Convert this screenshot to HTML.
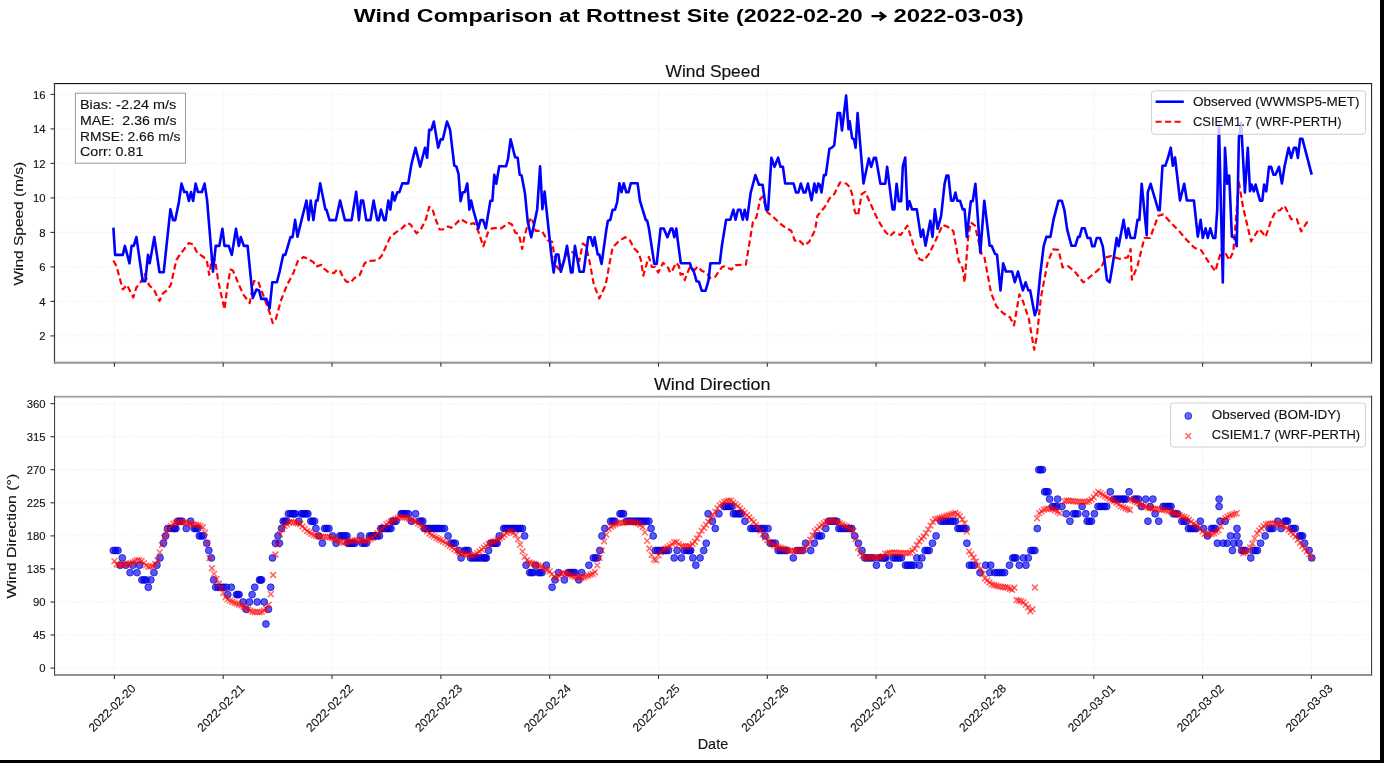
<!DOCTYPE html><html><head><meta charset="utf-8"><style>html,body{margin:0;padding:0;background:#fff;overflow:hidden}svg{display:block;filter:blur(0.35px)}text{font-family:"Liberation Sans", sans-serif}text.n{stroke:#1a1a1a;stroke-width:0.14px}</style></head><body>
<svg width="1384" height="763" viewBox="0 0 1384 763">
<rect x="0" y="0" width="1384" height="763" fill="#fff"/>
<text x="353.8" y="22.1" font-size="18.9" font-weight="bold" fill="#000" text-anchor="start" textLength="508.8" lengthAdjust="spacingAndGlyphs"  xml:space="preserve">Wind Comparison at Rottnest Site (2022-02-20</text>
<path d="M871.5,16.2H884.5M879.6,12.2L885.2,16.2L879.6,20.2" fill="none" stroke="#000" stroke-width="2.3" stroke-linejoin="miter"/>
<text x="893.4" y="22.1" font-size="18.9" font-weight="bold" fill="#000" text-anchor="start" textLength="130.3" lengthAdjust="spacingAndGlyphs"  xml:space="preserve">2022-03-03)</text>
<text class="n" x="665.5" y="76.7" font-size="16.3" font-weight="normal" fill="#111" text-anchor="start" textLength="94.6" lengthAdjust="spacingAndGlyphs"  xml:space="preserve">Wind Speed</text>
<text class="n" x="653.9" y="390.4" font-size="16.3" font-weight="normal" fill="#111" text-anchor="start" textLength="116.7" lengthAdjust="spacingAndGlyphs"  xml:space="preserve">Wind Direction</text>
<line x1="114.4" y1="83.5" x2="114.4" y2="362.7" stroke="#ebebeb" stroke-width="0.9" stroke-dasharray="1,1.2"/>
<line x1="223.2" y1="83.5" x2="223.2" y2="362.7" stroke="#ebebeb" stroke-width="0.9" stroke-dasharray="1,1.2"/>
<line x1="332.0" y1="83.5" x2="332.0" y2="362.7" stroke="#ebebeb" stroke-width="0.9" stroke-dasharray="1,1.2"/>
<line x1="440.9" y1="83.5" x2="440.9" y2="362.7" stroke="#ebebeb" stroke-width="0.9" stroke-dasharray="1,1.2"/>
<line x1="549.7" y1="83.5" x2="549.7" y2="362.7" stroke="#ebebeb" stroke-width="0.9" stroke-dasharray="1,1.2"/>
<line x1="658.5" y1="83.5" x2="658.5" y2="362.7" stroke="#ebebeb" stroke-width="0.9" stroke-dasharray="1,1.2"/>
<line x1="767.3" y1="83.5" x2="767.3" y2="362.7" stroke="#ebebeb" stroke-width="0.9" stroke-dasharray="1,1.2"/>
<line x1="876.1" y1="83.5" x2="876.1" y2="362.7" stroke="#ebebeb" stroke-width="0.9" stroke-dasharray="1,1.2"/>
<line x1="985.0" y1="83.5" x2="985.0" y2="362.7" stroke="#ebebeb" stroke-width="0.9" stroke-dasharray="1,1.2"/>
<line x1="1093.8" y1="83.5" x2="1093.8" y2="362.7" stroke="#ebebeb" stroke-width="0.9" stroke-dasharray="1,1.2"/>
<line x1="1202.6" y1="83.5" x2="1202.6" y2="362.7" stroke="#ebebeb" stroke-width="0.9" stroke-dasharray="1,1.2"/>
<line x1="1311.4" y1="83.5" x2="1311.4" y2="362.7" stroke="#ebebeb" stroke-width="0.9" stroke-dasharray="1,1.2"/>
<line x1="114.4" y1="396.9" x2="114.4" y2="675.1" stroke="#ebebeb" stroke-width="0.9" stroke-dasharray="1,1.2"/>
<line x1="223.2" y1="396.9" x2="223.2" y2="675.1" stroke="#ebebeb" stroke-width="0.9" stroke-dasharray="1,1.2"/>
<line x1="332.0" y1="396.9" x2="332.0" y2="675.1" stroke="#ebebeb" stroke-width="0.9" stroke-dasharray="1,1.2"/>
<line x1="440.9" y1="396.9" x2="440.9" y2="675.1" stroke="#ebebeb" stroke-width="0.9" stroke-dasharray="1,1.2"/>
<line x1="549.7" y1="396.9" x2="549.7" y2="675.1" stroke="#ebebeb" stroke-width="0.9" stroke-dasharray="1,1.2"/>
<line x1="658.5" y1="396.9" x2="658.5" y2="675.1" stroke="#ebebeb" stroke-width="0.9" stroke-dasharray="1,1.2"/>
<line x1="767.3" y1="396.9" x2="767.3" y2="675.1" stroke="#ebebeb" stroke-width="0.9" stroke-dasharray="1,1.2"/>
<line x1="876.1" y1="396.9" x2="876.1" y2="675.1" stroke="#ebebeb" stroke-width="0.9" stroke-dasharray="1,1.2"/>
<line x1="985.0" y1="396.9" x2="985.0" y2="675.1" stroke="#ebebeb" stroke-width="0.9" stroke-dasharray="1,1.2"/>
<line x1="1093.8" y1="396.9" x2="1093.8" y2="675.1" stroke="#ebebeb" stroke-width="0.9" stroke-dasharray="1,1.2"/>
<line x1="1202.6" y1="396.9" x2="1202.6" y2="675.1" stroke="#ebebeb" stroke-width="0.9" stroke-dasharray="1,1.2"/>
<line x1="1311.4" y1="396.9" x2="1311.4" y2="675.1" stroke="#ebebeb" stroke-width="0.9" stroke-dasharray="1,1.2"/>
<line x1="54.5" y1="335.9" x2="1371.5" y2="335.9" stroke="#ebebeb" stroke-width="0.9" stroke-dasharray="1,1.2"/>
<line x1="54.5" y1="301.4" x2="1371.5" y2="301.4" stroke="#ebebeb" stroke-width="0.9" stroke-dasharray="1,1.2"/>
<line x1="54.5" y1="266.9" x2="1371.5" y2="266.9" stroke="#ebebeb" stroke-width="0.9" stroke-dasharray="1,1.2"/>
<line x1="54.5" y1="232.4" x2="1371.5" y2="232.4" stroke="#ebebeb" stroke-width="0.9" stroke-dasharray="1,1.2"/>
<line x1="54.5" y1="197.9" x2="1371.5" y2="197.9" stroke="#ebebeb" stroke-width="0.9" stroke-dasharray="1,1.2"/>
<line x1="54.5" y1="163.4" x2="1371.5" y2="163.4" stroke="#ebebeb" stroke-width="0.9" stroke-dasharray="1,1.2"/>
<line x1="54.5" y1="128.9" x2="1371.5" y2="128.9" stroke="#ebebeb" stroke-width="0.9" stroke-dasharray="1,1.2"/>
<line x1="54.5" y1="94.4" x2="1371.5" y2="94.4" stroke="#ebebeb" stroke-width="0.9" stroke-dasharray="1,1.2"/>
<line x1="54.5" y1="668.1" x2="1371.5" y2="668.1" stroke="#ebebeb" stroke-width="0.9" stroke-dasharray="1,1.2"/>
<line x1="54.5" y1="635.0" x2="1371.5" y2="635.0" stroke="#ebebeb" stroke-width="0.9" stroke-dasharray="1,1.2"/>
<line x1="54.5" y1="602.0" x2="1371.5" y2="602.0" stroke="#ebebeb" stroke-width="0.9" stroke-dasharray="1,1.2"/>
<line x1="54.5" y1="568.9" x2="1371.5" y2="568.9" stroke="#ebebeb" stroke-width="0.9" stroke-dasharray="1,1.2"/>
<line x1="54.5" y1="535.9" x2="1371.5" y2="535.9" stroke="#ebebeb" stroke-width="0.9" stroke-dasharray="1,1.2"/>
<line x1="54.5" y1="502.8" x2="1371.5" y2="502.8" stroke="#ebebeb" stroke-width="0.9" stroke-dasharray="1,1.2"/>
<line x1="54.5" y1="469.7" x2="1371.5" y2="469.7" stroke="#ebebeb" stroke-width="0.9" stroke-dasharray="1,1.2"/>
<line x1="54.5" y1="436.7" x2="1371.5" y2="436.7" stroke="#ebebeb" stroke-width="0.9" stroke-dasharray="1,1.2"/>
<line x1="54.5" y1="403.6" x2="1371.5" y2="403.6" stroke="#ebebeb" stroke-width="0.9" stroke-dasharray="1,1.2"/>
<polyline points="113.4,260.6 116.5,266.4 122.8,289.5 127.0,284.9 133.3,297.5 136.4,287.4 139.6,284.3 144.8,274.2 149.0,284.9 154.3,290.5 159.5,301.0 162.7,293.7 167.9,289.5 171.0,284.3 176.3,260.1 180.5,253.9 188.9,243.0 193.1,244.4 197.2,252.8 203.5,257.0 206.7,260.1 209.2,274.8 211.9,258.1 215.1,260.1 218.2,281.1 224.5,309.4 227.6,285.3 230.4,269.6 232.9,270.6 239.2,285.3 243.4,294.7 249.7,303.1 253.8,281.1 258.0,281.1 264.3,297.9 269.6,312.6 272.7,323.0 275.9,318.8 281.1,300.0 287.4,284.3 290.0,279.5 293.7,272.2 297.8,261.2 303.3,257.1 307.4,258.4 313.4,262.1 316.1,266.7 321.2,264.9 323.9,268.5 327.6,271.7 334.0,273.1 337.2,269.4 340.0,270.8 342.8,276.8 346.0,281.4 350.6,282.8 354.2,278.2 359.7,275.0 361.6,270.8 364.3,263.9 367.1,261.2 373.5,260.7 378.1,259.8 381.7,255.7 384.5,249.7 390.4,236.8 395.6,232.6 401.9,228.4 407.2,223.2 410.3,224.3 416.6,233.3 420.8,229.5 426.0,219.0 429.2,206.9 432.3,208.5 435.5,219.0 439.7,229.5 442.8,229.5 448.0,226.4 451.2,227.8 455.4,224.3 460.6,219.0 465.9,222.2 469.0,224.3 474.2,223.2 478.4,231.6 483.3,246.3 487.9,232.6 492.1,228.4 497.9,227.7 501.0,228.5 508.9,223.0 512.0,224.6 515.2,232.5 518.3,234.0 519.9,238.7 522.2,249.0 524.6,235.6 527.7,224.6 531.2,217.5 533.7,223.8 535.6,230.9 541.9,230.9 547.4,240.3 552.1,241.9 554.5,256.0 556.8,267.0 559.2,269.4 561.5,267.0 567.0,252.1 571.8,252.1 574.9,252.9 579.3,260.8 582.8,243.5 585.9,245.8 589.1,259.2 593.8,284.3 599.3,298.5 605.6,285.1 609.5,263.9 612.6,247.4 618.9,241.1 625.2,237.2 629.9,240.3 633.9,248.2 638.6,252.9 640.9,260.0 643.3,275.7 645.7,267.0 648.8,256.8 651.9,267.0 655.1,267.0 658.2,272.5 660.0,269.1 663.1,262.8 667.9,267.5 670.2,272.7 672.6,269.9 676.1,262.8 678.9,266.0 680.5,274.6 682.8,273.8 684.8,280.1 687.5,272.7 689.9,267.1 694.6,269.9 697.8,266.4 701.7,270.7 707.2,273.4 710.4,278.2 715.1,277.0 719.0,271.1 722.2,266.8 724.5,266.4 726.9,267.5 731.6,269.5 735.5,265.2 745.9,264.6 748.2,250.3 753.0,221.7 756.6,216.9 760.2,199.0 762.6,196.6 767.3,212.1 773.3,216.9 779.3,222.8 785.2,227.6 791.2,230.7 794.8,240.7 798.4,239.6 804.3,245.5 809.1,241.9 815.1,230.0 817.5,215.7 824.6,207.3 830.6,196.6 834.2,194.2 840.1,182.3 846.1,183.5 849.7,187.0 852.1,194.2 854.9,212.1 858.0,215.7 861.6,194.2 865.2,191.8 870.0,202.6 875.9,215.7 880.4,224.2 885.8,232.3 889.8,236.4 893.9,232.3 900.6,235.0 907.4,225.6 914.1,247.2 919.5,259.3 923.6,260.7 929.0,253.9 935.7,240.4 942.5,225.0 947.9,226.9 953.3,231.0 958.7,260.7 962.7,268.8 964.6,282.3 968.1,237.7 970.8,222.3 974.9,225.6 981.6,253.9 984.3,256.6 991.1,293.0 996.5,306.5 1003.2,313.3 1010.0,317.3 1014.0,325.4 1019.4,294.4 1022.9,301.1 1028.8,318.7 1034.2,349.7 1036.9,336.2 1041.0,297.1 1047.7,262.0 1053.1,249.3 1058.5,249.9 1062.6,267.4 1068.0,266.1 1074.7,271.5 1083.3,282.4 1091.7,275.5 1101.4,267.2 1105.6,257.4 1111.1,256.1 1119.4,258.8 1127.8,257.4 1130.6,249.1 1131.9,279.7 1137.5,265.8 1144.4,238.0 1150.0,238.0 1158.3,215.8 1163.3,214.4 1170.8,222.7 1179.2,231.1 1186.1,239.4 1194.4,247.7 1201.4,250.5 1208.3,261.6 1215.3,271.3 1222.2,247.7 1226.4,254.7 1229.2,260.2 1233.3,251.9 1238.9,182.4 1243.1,207.4 1245.6,218.0 1251.1,241.4 1258.9,229.1 1262.3,232.5 1265.6,236.9 1271.2,220.2 1275.6,211.3 1280.1,210.2 1284.5,205.7 1291.2,219.1 1296.8,219.1 1301.2,231.4 1306.8,222.4 1311.3,222.4" fill="none" stroke="#ff0000" stroke-width="2.2" stroke-dasharray="6.2,3.4" stroke-linejoin="round"/>
<polyline points="113.4,227.7 115.1,254.9 122.8,254.9 124.9,245.9 129.5,263.3 131.6,245.9 133.7,245.9 136.4,237.1 142.7,281.1 145.3,281.1 148.0,254.9 149.7,263.3 154.3,237.1 159.5,272.3 163.7,272.3 170.4,209.4 173.1,220.3 175.2,220.3 178.8,202.5 181.5,183.6 184.2,192.0 186.8,192.0 188.9,201.0 191.0,192.0 193.1,201.0 195.6,183.6 197.9,192.0 201.9,192.0 204.6,183.6 207.1,200.4 213.0,271.7 215.7,245.9 219.3,245.9 222.4,228.7 224.5,245.9 228.7,245.9 231.8,254.9 236.0,228.7 238.8,245.9 240.8,237.1 243.8,245.9 247.6,245.9 252.8,297.9 256.4,289.5 259.1,290.5 261.2,298.9 266.4,298.9 269.6,308.4 272.3,282.2 276.9,282.2 279.6,271.7 283.2,254.9 285.3,254.9 290.5,237.1 292.6,237.1 295.1,219.9 297.5,236.8 302.3,216.9 306.5,200.6 308.6,220.1 310.7,200.6 313.4,220.1 316.0,200.6 317.6,200.6 320.2,183.4 325.4,209.6 326.4,209.6 329.6,220.1 335.9,220.1 340.1,200.6 344.9,220.1 351.6,220.1 356.2,191.8 358.9,220.1 361.0,200.6 363.1,200.6 366.3,220.1 370.5,220.1 373.6,200.6 377.2,220.1 378.9,220.1 381.0,209.6 384.1,220.1 385.6,220.1 388.3,200.6 390.4,209.6 392.5,192.2 394.6,200.6 397.3,192.2 399.4,192.2 402.3,183.4 408.2,183.4 411.4,164.5 415.5,147.7 420.2,166.6 425.0,147.7 427.1,157.8 429.2,129.9 431.3,129.9 433.8,121.5 438.2,147.7 440.7,139.4 442.8,139.4 447.0,121.5 450.1,129.9 454.3,165.6 456.4,166.6 458.5,173.9 460.6,201.2 462.7,192.2 464.8,192.2 467.3,183.4 469.4,209.6 471.1,200.6 473.2,209.6 478.4,228.4 480.5,220.1 483.1,220.1 485.8,228.4 490.4,200.7 492.4,200.7 494.3,174.7 496.3,183.8 499.2,166.3 506.0,166.3 508.0,159.1 510.6,139.2 515.1,157.2 517.7,157.8 519.7,174.7 521.6,175.4 524.9,192.9 527.7,221.4 531.2,237.2 533.7,226.2 537.2,209.2 540.1,166.3 542.4,209.2 544.6,191.6 547.6,220.0 551.3,254.5 553.7,272.5 556.0,254.5 558.4,254.5 560.8,271.8 563.9,261.5 567.0,245.8 571.0,272.5 572.5,272.5 574.9,245.8 579.6,271.8 583.6,271.8 588.3,237.2 590.6,237.2 593.0,245.8 594.6,237.2 597.7,254.5 599.3,254.5 601.6,263.9 606.4,229.3 607.9,220.7 610.3,219.9 612.6,209.7 615.0,209.7 617.2,202.0 619.4,183.2 621.5,192.3 623.7,183.2 626.3,192.3 628.5,192.3 630.8,183.2 637.6,183.2 639.9,200.7 645.8,220.0 647.2,220.7 648.8,227.7 654.3,263.9 656.7,263.9 660.6,228.5 663.7,228.5 667.4,237.2 670.8,228.5 672.4,228.5 674.3,237.2 676.3,228.5 677.7,240.0 680.8,263.2 689.9,263.2 691.5,268.3 693.8,271.5 696.6,281.3 698.9,281.7 701.7,290.7 705.6,290.7 708.4,280.9 710.4,263.2 719.8,263.2 721.8,246.3 726.1,219.7 730.3,219.7 733.4,209.7 735.6,219.7 738.0,209.7 740.4,209.7 742.8,219.7 744.7,209.7 747.1,219.7 750.6,193.0 755.4,175.1 759.0,184.7 762.6,184.7 766.1,209.7 768.1,209.7 771.4,157.7 774.5,166.8 778.1,157.7 780.5,166.8 782.9,166.8 785.2,183.5 793.6,183.5 796.0,192.5 798.4,192.5 800.8,183.5 803.6,192.5 805.5,192.5 807.9,183.5 811.5,200.2 814.4,183.5 816.3,192.5 818.2,183.5 819.8,184.7 821.5,192.5 823.9,175.1 825.8,175.1 829.4,148.9 831.8,147.7 834.2,145.3 837.7,113.1 840.1,113.1 842.0,130.5 846.1,95.6 848.5,129.1 849.7,121.4 852.1,138.1 854.0,139.3 855.6,147.7 857.6,113.1 863.5,183.5 868.8,158.4 871.2,166.8 874.0,157.7 875.9,157.7 880.4,183.7 885.3,183.7 887.1,166.7 892.5,209.4 894.4,209.4 896.6,183.7 898.8,201.3 901.2,201.3 902.8,166.7 905.2,157.6 907.4,209.4 909.5,201.3 912.0,209.4 916.8,209.4 920.9,236.9 923.0,229.6 925.5,245.8 930.3,220.7 932.5,236.9 934.9,209.4 937.6,228.8 941.1,216.1 944.6,183.7 946.5,175.6 948.4,175.6 951.1,200.7 953.3,200.7 955.4,192.6 957.3,200.7 960.0,200.7 962.7,209.4 964.6,209.4 966.8,236.9 970.8,201.3 972.7,201.3 975.4,183.7 980.3,252.6 984.3,200.7 989.7,245.8 991.6,245.8 995.1,253.9 997.0,254.7 1000.5,290.4 1003.2,263.4 1005.9,271.5 1012.1,271.5 1014.8,282.3 1018.0,271.5 1022.9,290.4 1025.6,282.3 1028.3,290.4 1030.2,290.4 1034.8,315.2 1036.9,309.2 1040.2,274.7 1043.7,245.8 1046.4,236.9 1050.4,236.9 1053.7,218.8 1058.5,200.7 1061.8,200.7 1064.5,210.7 1067.2,229.6 1071.5,245.8 1075.3,245.8 1078.0,236.9 1079.6,236.9 1081.9,228.3 1084.7,228.3 1087.5,238.0 1090.3,238.0 1092.2,246.3 1094.4,246.3 1096.7,238.0 1100.0,238.0 1102.8,246.3 1106.9,279.7 1109.7,282.4 1112.5,265.8 1116.7,238.0 1118.6,246.3 1123.6,219.9 1126.4,238.0 1128.3,228.3 1130.6,238.0 1134.7,238.0 1137.5,219.9 1139.4,219.9 1141.7,183.8 1146.7,235.2 1147.8,192.2 1150.6,183.8 1158.3,210.2 1159.7,210.2 1162.5,165.8 1165.3,165.8 1168.1,157.4 1170.8,147.7 1172.8,165.8 1175.0,157.4 1180.0,200.5 1184.2,183.8 1186.9,200.5 1193.9,200.5 1197.8,236.6 1200.6,219.9 1202.8,238.0 1205.6,228.3 1207.8,238.0 1210.3,228.3 1213.1,238.0 1215.3,238.0 1217.2,210.2 1218.9,122.7 1222.8,282.4 1225.0,147.7 1227.2,183.8 1229.2,175.5 1231.9,236.6 1235.6,238.0 1236.7,246.3 1238.9,138.0 1241.1,122.7 1244.9,192.4 1247.8,147.8 1250.0,191.3 1251.6,184.6 1253.8,191.3 1255.6,184.6 1257.4,191.3 1260.0,200.6 1262.3,200.6 1264.1,184.6 1266.3,191.3 1269.0,166.8 1271.2,166.8 1273.4,174.6 1275.6,174.6 1279.0,166.8 1281.9,183.5 1284.5,166.8 1288.6,147.8 1291.2,157.9 1293.9,147.8 1296.1,147.8 1297.9,157.9 1300.1,138.9 1302.4,138.9 1311.7,174.6" fill="none" stroke="#0000ff" stroke-width="2.6" stroke-linejoin="round"/>
<circle cx="113.3" cy="550.5" r="3.45" fill="#0000ff" fill-opacity="0.66" stroke="#0000c0" stroke-opacity="0.66" stroke-width="1.0"/>
<circle cx="115.6" cy="550.5" r="3.45" fill="#0000ff" fill-opacity="0.66" stroke="#0000c0" stroke-opacity="0.66" stroke-width="1.0"/>
<circle cx="118.0" cy="550.5" r="3.45" fill="#0000ff" fill-opacity="0.66" stroke="#0000c0" stroke-opacity="0.66" stroke-width="1.0"/>
<circle cx="120.2" cy="565.2" r="3.45" fill="#0000ff" fill-opacity="0.66" stroke="#0000c0" stroke-opacity="0.66" stroke-width="1.0"/>
<circle cx="122.3" cy="557.9" r="3.45" fill="#0000ff" fill-opacity="0.66" stroke="#0000c0" stroke-opacity="0.66" stroke-width="1.0"/>
<circle cx="125.8" cy="565.2" r="3.45" fill="#0000ff" fill-opacity="0.66" stroke="#0000c0" stroke-opacity="0.66" stroke-width="1.0"/>
<circle cx="130.1" cy="572.6" r="3.45" fill="#0000ff" fill-opacity="0.66" stroke="#0000c0" stroke-opacity="0.66" stroke-width="1.0"/>
<circle cx="132.7" cy="565.2" r="3.45" fill="#0000ff" fill-opacity="0.66" stroke="#0000c0" stroke-opacity="0.66" stroke-width="1.0"/>
<circle cx="137.0" cy="572.6" r="3.45" fill="#0000ff" fill-opacity="0.66" stroke="#0000c0" stroke-opacity="0.66" stroke-width="1.0"/>
<circle cx="139.6" cy="565.2" r="3.45" fill="#0000ff" fill-opacity="0.66" stroke="#0000c0" stroke-opacity="0.66" stroke-width="1.0"/>
<circle cx="141.9" cy="579.9" r="3.45" fill="#0000ff" fill-opacity="0.66" stroke="#0000c0" stroke-opacity="0.66" stroke-width="1.0"/>
<circle cx="144.0" cy="579.9" r="3.45" fill="#0000ff" fill-opacity="0.66" stroke="#0000c0" stroke-opacity="0.66" stroke-width="1.0"/>
<circle cx="146.2" cy="579.9" r="3.45" fill="#0000ff" fill-opacity="0.66" stroke="#0000c0" stroke-opacity="0.66" stroke-width="1.0"/>
<circle cx="148.3" cy="587.3" r="3.45" fill="#0000ff" fill-opacity="0.66" stroke="#0000c0" stroke-opacity="0.66" stroke-width="1.0"/>
<circle cx="150.8" cy="579.9" r="3.45" fill="#0000ff" fill-opacity="0.66" stroke="#0000c0" stroke-opacity="0.66" stroke-width="1.0"/>
<circle cx="154.0" cy="572.6" r="3.45" fill="#0000ff" fill-opacity="0.66" stroke="#0000c0" stroke-opacity="0.66" stroke-width="1.0"/>
<circle cx="156.9" cy="565.2" r="3.45" fill="#0000ff" fill-opacity="0.66" stroke="#0000c0" stroke-opacity="0.66" stroke-width="1.0"/>
<circle cx="160.0" cy="557.9" r="3.45" fill="#0000ff" fill-opacity="0.66" stroke="#0000c0" stroke-opacity="0.66" stroke-width="1.0"/>
<circle cx="163.5" cy="543.2" r="3.45" fill="#0000ff" fill-opacity="0.66" stroke="#0000c0" stroke-opacity="0.66" stroke-width="1.0"/>
<circle cx="165.6" cy="535.9" r="3.45" fill="#0000ff" fill-opacity="0.66" stroke="#0000c0" stroke-opacity="0.66" stroke-width="1.0"/>
<circle cx="167.6" cy="528.5" r="3.45" fill="#0000ff" fill-opacity="0.66" stroke="#0000c0" stroke-opacity="0.66" stroke-width="1.0"/>
<circle cx="170.5" cy="528.5" r="3.45" fill="#0000ff" fill-opacity="0.66" stroke="#0000c0" stroke-opacity="0.66" stroke-width="1.0"/>
<circle cx="173.3" cy="528.5" r="3.45" fill="#0000ff" fill-opacity="0.66" stroke="#0000c0" stroke-opacity="0.66" stroke-width="1.0"/>
<circle cx="174.6" cy="528.5" r="3.45" fill="#0000ff" fill-opacity="0.66" stroke="#0000c0" stroke-opacity="0.66" stroke-width="1.0"/>
<circle cx="175.9" cy="528.5" r="3.45" fill="#0000ff" fill-opacity="0.66" stroke="#0000c0" stroke-opacity="0.66" stroke-width="1.0"/>
<circle cx="177.7" cy="521.2" r="3.45" fill="#0000ff" fill-opacity="0.66" stroke="#0000c0" stroke-opacity="0.66" stroke-width="1.0"/>
<circle cx="179.8" cy="521.2" r="3.45" fill="#0000ff" fill-opacity="0.66" stroke="#0000c0" stroke-opacity="0.66" stroke-width="1.0"/>
<circle cx="182.0" cy="521.2" r="3.45" fill="#0000ff" fill-opacity="0.66" stroke="#0000c0" stroke-opacity="0.66" stroke-width="1.0"/>
<circle cx="186.3" cy="528.5" r="3.45" fill="#0000ff" fill-opacity="0.66" stroke="#0000c0" stroke-opacity="0.66" stroke-width="1.0"/>
<circle cx="190.6" cy="521.2" r="3.45" fill="#0000ff" fill-opacity="0.66" stroke="#0000c0" stroke-opacity="0.66" stroke-width="1.0"/>
<circle cx="194.1" cy="528.5" r="3.45" fill="#0000ff" fill-opacity="0.66" stroke="#0000c0" stroke-opacity="0.66" stroke-width="1.0"/>
<circle cx="195.8" cy="528.5" r="3.45" fill="#0000ff" fill-opacity="0.66" stroke="#0000c0" stroke-opacity="0.66" stroke-width="1.0"/>
<circle cx="197.6" cy="528.5" r="3.45" fill="#0000ff" fill-opacity="0.66" stroke="#0000c0" stroke-opacity="0.66" stroke-width="1.0"/>
<circle cx="199.3" cy="535.9" r="3.45" fill="#0000ff" fill-opacity="0.66" stroke="#0000c0" stroke-opacity="0.66" stroke-width="1.0"/>
<circle cx="201.3" cy="535.9" r="3.45" fill="#0000ff" fill-opacity="0.66" stroke="#0000c0" stroke-opacity="0.66" stroke-width="1.0"/>
<circle cx="203.3" cy="535.9" r="3.45" fill="#0000ff" fill-opacity="0.66" stroke="#0000c0" stroke-opacity="0.66" stroke-width="1.0"/>
<circle cx="206.7" cy="543.2" r="3.45" fill="#0000ff" fill-opacity="0.66" stroke="#0000c0" stroke-opacity="0.66" stroke-width="1.0"/>
<circle cx="208.8" cy="550.5" r="3.45" fill="#0000ff" fill-opacity="0.66" stroke="#0000c0" stroke-opacity="0.66" stroke-width="1.0"/>
<circle cx="211.4" cy="557.9" r="3.45" fill="#0000ff" fill-opacity="0.66" stroke="#0000c0" stroke-opacity="0.66" stroke-width="1.0"/>
<circle cx="213.7" cy="579.9" r="3.45" fill="#0000ff" fill-opacity="0.66" stroke="#0000c0" stroke-opacity="0.66" stroke-width="1.0"/>
<circle cx="215.7" cy="587.3" r="3.45" fill="#0000ff" fill-opacity="0.66" stroke="#0000c0" stroke-opacity="0.66" stroke-width="1.0"/>
<circle cx="218.3" cy="587.3" r="3.45" fill="#0000ff" fill-opacity="0.66" stroke="#0000c0" stroke-opacity="0.66" stroke-width="1.0"/>
<circle cx="220.9" cy="587.3" r="3.45" fill="#0000ff" fill-opacity="0.66" stroke="#0000c0" stroke-opacity="0.66" stroke-width="1.0"/>
<circle cx="223.5" cy="587.3" r="3.45" fill="#0000ff" fill-opacity="0.66" stroke="#0000c0" stroke-opacity="0.66" stroke-width="1.0"/>
<circle cx="226.1" cy="587.3" r="3.45" fill="#0000ff" fill-opacity="0.66" stroke="#0000c0" stroke-opacity="0.66" stroke-width="1.0"/>
<circle cx="227.8" cy="594.6" r="3.45" fill="#0000ff" fill-opacity="0.66" stroke="#0000c0" stroke-opacity="0.66" stroke-width="1.0"/>
<circle cx="231.3" cy="587.3" r="3.45" fill="#0000ff" fill-opacity="0.66" stroke="#0000c0" stroke-opacity="0.66" stroke-width="1.0"/>
<circle cx="236.5" cy="594.6" r="3.45" fill="#0000ff" fill-opacity="0.66" stroke="#0000c0" stroke-opacity="0.66" stroke-width="1.0"/>
<circle cx="237.8" cy="594.6" r="3.45" fill="#0000ff" fill-opacity="0.66" stroke="#0000c0" stroke-opacity="0.66" stroke-width="1.0"/>
<circle cx="239.1" cy="594.6" r="3.45" fill="#0000ff" fill-opacity="0.66" stroke="#0000c0" stroke-opacity="0.66" stroke-width="1.0"/>
<circle cx="243.1" cy="602.0" r="3.45" fill="#0000ff" fill-opacity="0.66" stroke="#0000c0" stroke-opacity="0.66" stroke-width="1.0"/>
<circle cx="246.0" cy="609.3" r="3.45" fill="#0000ff" fill-opacity="0.66" stroke="#0000c0" stroke-opacity="0.66" stroke-width="1.0"/>
<circle cx="249.5" cy="602.0" r="3.45" fill="#0000ff" fill-opacity="0.66" stroke="#0000c0" stroke-opacity="0.66" stroke-width="1.0"/>
<circle cx="252.1" cy="594.6" r="3.45" fill="#0000ff" fill-opacity="0.66" stroke="#0000c0" stroke-opacity="0.66" stroke-width="1.0"/>
<circle cx="254.7" cy="587.3" r="3.45" fill="#0000ff" fill-opacity="0.66" stroke="#0000c0" stroke-opacity="0.66" stroke-width="1.0"/>
<circle cx="257.2" cy="602.0" r="3.45" fill="#0000ff" fill-opacity="0.66" stroke="#0000c0" stroke-opacity="0.66" stroke-width="1.0"/>
<circle cx="259.5" cy="579.9" r="3.45" fill="#0000ff" fill-opacity="0.66" stroke="#0000c0" stroke-opacity="0.66" stroke-width="1.0"/>
<circle cx="260.5" cy="579.9" r="3.45" fill="#0000ff" fill-opacity="0.66" stroke="#0000c0" stroke-opacity="0.66" stroke-width="1.0"/>
<circle cx="261.6" cy="579.9" r="3.45" fill="#0000ff" fill-opacity="0.66" stroke="#0000c0" stroke-opacity="0.66" stroke-width="1.0"/>
<circle cx="264.2" cy="602.0" r="3.45" fill="#0000ff" fill-opacity="0.66" stroke="#0000c0" stroke-opacity="0.66" stroke-width="1.0"/>
<circle cx="265.9" cy="624.0" r="3.45" fill="#0000ff" fill-opacity="0.66" stroke="#0000c0" stroke-opacity="0.66" stroke-width="1.0"/>
<circle cx="268.5" cy="609.3" r="3.45" fill="#0000ff" fill-opacity="0.66" stroke="#0000c0" stroke-opacity="0.66" stroke-width="1.0"/>
<circle cx="270.7" cy="587.3" r="3.45" fill="#0000ff" fill-opacity="0.66" stroke="#0000c0" stroke-opacity="0.66" stroke-width="1.0"/>
<circle cx="272.5" cy="557.9" r="3.45" fill="#0000ff" fill-opacity="0.66" stroke="#0000c0" stroke-opacity="0.66" stroke-width="1.0"/>
<circle cx="275.4" cy="543.2" r="3.45" fill="#0000ff" fill-opacity="0.66" stroke="#0000c0" stroke-opacity="0.66" stroke-width="1.0"/>
<circle cx="278.0" cy="535.9" r="3.45" fill="#0000ff" fill-opacity="0.66" stroke="#0000c0" stroke-opacity="0.66" stroke-width="1.0"/>
<circle cx="279.4" cy="543.2" r="3.45" fill="#0000ff" fill-opacity="0.66" stroke="#0000c0" stroke-opacity="0.66" stroke-width="1.0"/>
<circle cx="281.5" cy="528.5" r="3.45" fill="#0000ff" fill-opacity="0.66" stroke="#0000c0" stroke-opacity="0.66" stroke-width="1.0"/>
<circle cx="283.2" cy="521.2" r="3.45" fill="#0000ff" fill-opacity="0.66" stroke="#0000c0" stroke-opacity="0.66" stroke-width="1.0"/>
<circle cx="284.9" cy="521.2" r="3.45" fill="#0000ff" fill-opacity="0.66" stroke="#0000c0" stroke-opacity="0.66" stroke-width="1.0"/>
<circle cx="286.7" cy="521.2" r="3.45" fill="#0000ff" fill-opacity="0.66" stroke="#0000c0" stroke-opacity="0.66" stroke-width="1.0"/>
<circle cx="288.4" cy="513.8" r="3.45" fill="#0000ff" fill-opacity="0.66" stroke="#0000c0" stroke-opacity="0.66" stroke-width="1.0"/>
<circle cx="290.6" cy="513.8" r="3.45" fill="#0000ff" fill-opacity="0.66" stroke="#0000c0" stroke-opacity="0.66" stroke-width="1.0"/>
<circle cx="292.7" cy="513.8" r="3.45" fill="#0000ff" fill-opacity="0.66" stroke="#0000c0" stroke-opacity="0.66" stroke-width="1.0"/>
<circle cx="294.0" cy="513.8" r="3.45" fill="#0000ff" fill-opacity="0.66" stroke="#0000c0" stroke-opacity="0.66" stroke-width="1.0"/>
<circle cx="295.3" cy="513.8" r="3.45" fill="#0000ff" fill-opacity="0.66" stroke="#0000c0" stroke-opacity="0.66" stroke-width="1.0"/>
<circle cx="298.8" cy="521.2" r="3.45" fill="#0000ff" fill-opacity="0.66" stroke="#0000c0" stroke-opacity="0.66" stroke-width="1.0"/>
<circle cx="301.4" cy="513.8" r="3.45" fill="#0000ff" fill-opacity="0.66" stroke="#0000c0" stroke-opacity="0.66" stroke-width="1.0"/>
<circle cx="302.9" cy="513.8" r="3.45" fill="#0000ff" fill-opacity="0.66" stroke="#0000c0" stroke-opacity="0.66" stroke-width="1.0"/>
<circle cx="304.3" cy="513.8" r="3.45" fill="#0000ff" fill-opacity="0.66" stroke="#0000c0" stroke-opacity="0.66" stroke-width="1.0"/>
<circle cx="306.1" cy="513.8" r="3.45" fill="#0000ff" fill-opacity="0.66" stroke="#0000c0" stroke-opacity="0.66" stroke-width="1.0"/>
<circle cx="307.9" cy="513.8" r="3.45" fill="#0000ff" fill-opacity="0.66" stroke="#0000c0" stroke-opacity="0.66" stroke-width="1.0"/>
<circle cx="310.8" cy="521.2" r="3.45" fill="#0000ff" fill-opacity="0.66" stroke="#0000c0" stroke-opacity="0.66" stroke-width="1.0"/>
<circle cx="312.6" cy="521.2" r="3.45" fill="#0000ff" fill-opacity="0.66" stroke="#0000c0" stroke-opacity="0.66" stroke-width="1.0"/>
<circle cx="314.5" cy="521.2" r="3.45" fill="#0000ff" fill-opacity="0.66" stroke="#0000c0" stroke-opacity="0.66" stroke-width="1.0"/>
<circle cx="315.9" cy="528.5" r="3.45" fill="#0000ff" fill-opacity="0.66" stroke="#0000c0" stroke-opacity="0.66" stroke-width="1.0"/>
<circle cx="318.8" cy="535.9" r="3.45" fill="#0000ff" fill-opacity="0.66" stroke="#0000c0" stroke-opacity="0.66" stroke-width="1.0"/>
<circle cx="322.4" cy="543.2" r="3.45" fill="#0000ff" fill-opacity="0.66" stroke="#0000c0" stroke-opacity="0.66" stroke-width="1.0"/>
<circle cx="324.6" cy="528.5" r="3.45" fill="#0000ff" fill-opacity="0.66" stroke="#0000c0" stroke-opacity="0.66" stroke-width="1.0"/>
<circle cx="326.7" cy="528.5" r="3.45" fill="#0000ff" fill-opacity="0.66" stroke="#0000c0" stroke-opacity="0.66" stroke-width="1.0"/>
<circle cx="328.9" cy="528.5" r="3.45" fill="#0000ff" fill-opacity="0.66" stroke="#0000c0" stroke-opacity="0.66" stroke-width="1.0"/>
<circle cx="332.5" cy="535.9" r="3.45" fill="#0000ff" fill-opacity="0.66" stroke="#0000c0" stroke-opacity="0.66" stroke-width="1.0"/>
<circle cx="336.1" cy="543.2" r="3.45" fill="#0000ff" fill-opacity="0.66" stroke="#0000c0" stroke-opacity="0.66" stroke-width="1.0"/>
<circle cx="339.7" cy="535.9" r="3.45" fill="#0000ff" fill-opacity="0.66" stroke="#0000c0" stroke-opacity="0.66" stroke-width="1.0"/>
<circle cx="341.5" cy="535.9" r="3.45" fill="#0000ff" fill-opacity="0.66" stroke="#0000c0" stroke-opacity="0.66" stroke-width="1.0"/>
<circle cx="343.4" cy="535.9" r="3.45" fill="#0000ff" fill-opacity="0.66" stroke="#0000c0" stroke-opacity="0.66" stroke-width="1.0"/>
<circle cx="345.2" cy="535.9" r="3.45" fill="#0000ff" fill-opacity="0.66" stroke="#0000c0" stroke-opacity="0.66" stroke-width="1.0"/>
<circle cx="347.0" cy="535.9" r="3.45" fill="#0000ff" fill-opacity="0.66" stroke="#0000c0" stroke-opacity="0.66" stroke-width="1.0"/>
<circle cx="347.7" cy="543.2" r="3.45" fill="#0000ff" fill-opacity="0.66" stroke="#0000c0" stroke-opacity="0.66" stroke-width="1.0"/>
<circle cx="349.5" cy="543.2" r="3.45" fill="#0000ff" fill-opacity="0.66" stroke="#0000c0" stroke-opacity="0.66" stroke-width="1.0"/>
<circle cx="351.3" cy="543.2" r="3.45" fill="#0000ff" fill-opacity="0.66" stroke="#0000c0" stroke-opacity="0.66" stroke-width="1.0"/>
<circle cx="353.1" cy="543.2" r="3.45" fill="#0000ff" fill-opacity="0.66" stroke="#0000c0" stroke-opacity="0.66" stroke-width="1.0"/>
<circle cx="354.9" cy="543.2" r="3.45" fill="#0000ff" fill-opacity="0.66" stroke="#0000c0" stroke-opacity="0.66" stroke-width="1.0"/>
<circle cx="360.7" cy="535.9" r="3.45" fill="#0000ff" fill-opacity="0.66" stroke="#0000c0" stroke-opacity="0.66" stroke-width="1.0"/>
<circle cx="362.1" cy="543.2" r="3.45" fill="#0000ff" fill-opacity="0.66" stroke="#0000c0" stroke-opacity="0.66" stroke-width="1.0"/>
<circle cx="364.3" cy="543.2" r="3.45" fill="#0000ff" fill-opacity="0.66" stroke="#0000c0" stroke-opacity="0.66" stroke-width="1.0"/>
<circle cx="366.5" cy="543.2" r="3.45" fill="#0000ff" fill-opacity="0.66" stroke="#0000c0" stroke-opacity="0.66" stroke-width="1.0"/>
<circle cx="369.4" cy="535.9" r="3.45" fill="#0000ff" fill-opacity="0.66" stroke="#0000c0" stroke-opacity="0.66" stroke-width="1.0"/>
<circle cx="371.2" cy="535.9" r="3.45" fill="#0000ff" fill-opacity="0.66" stroke="#0000c0" stroke-opacity="0.66" stroke-width="1.0"/>
<circle cx="373.0" cy="535.9" r="3.45" fill="#0000ff" fill-opacity="0.66" stroke="#0000c0" stroke-opacity="0.66" stroke-width="1.0"/>
<circle cx="374.1" cy="535.9" r="3.45" fill="#0000ff" fill-opacity="0.66" stroke="#0000c0" stroke-opacity="0.66" stroke-width="1.0"/>
<circle cx="375.1" cy="535.9" r="3.45" fill="#0000ff" fill-opacity="0.66" stroke="#0000c0" stroke-opacity="0.66" stroke-width="1.0"/>
<circle cx="377.3" cy="535.9" r="3.45" fill="#0000ff" fill-opacity="0.66" stroke="#0000c0" stroke-opacity="0.66" stroke-width="1.0"/>
<circle cx="379.5" cy="535.9" r="3.45" fill="#0000ff" fill-opacity="0.66" stroke="#0000c0" stroke-opacity="0.66" stroke-width="1.0"/>
<circle cx="380.9" cy="528.5" r="3.45" fill="#0000ff" fill-opacity="0.66" stroke="#0000c0" stroke-opacity="0.66" stroke-width="1.0"/>
<circle cx="382.4" cy="528.5" r="3.45" fill="#0000ff" fill-opacity="0.66" stroke="#0000c0" stroke-opacity="0.66" stroke-width="1.0"/>
<circle cx="383.8" cy="528.5" r="3.45" fill="#0000ff" fill-opacity="0.66" stroke="#0000c0" stroke-opacity="0.66" stroke-width="1.0"/>
<circle cx="385.6" cy="528.5" r="3.45" fill="#0000ff" fill-opacity="0.66" stroke="#0000c0" stroke-opacity="0.66" stroke-width="1.0"/>
<circle cx="387.4" cy="528.5" r="3.45" fill="#0000ff" fill-opacity="0.66" stroke="#0000c0" stroke-opacity="0.66" stroke-width="1.0"/>
<circle cx="389.2" cy="528.5" r="3.45" fill="#0000ff" fill-opacity="0.66" stroke="#0000c0" stroke-opacity="0.66" stroke-width="1.0"/>
<circle cx="391.0" cy="528.5" r="3.45" fill="#0000ff" fill-opacity="0.66" stroke="#0000c0" stroke-opacity="0.66" stroke-width="1.0"/>
<circle cx="392.5" cy="521.2" r="3.45" fill="#0000ff" fill-opacity="0.66" stroke="#0000c0" stroke-opacity="0.66" stroke-width="1.0"/>
<circle cx="394.3" cy="521.2" r="3.45" fill="#0000ff" fill-opacity="0.66" stroke="#0000c0" stroke-opacity="0.66" stroke-width="1.0"/>
<circle cx="396.1" cy="521.2" r="3.45" fill="#0000ff" fill-opacity="0.66" stroke="#0000c0" stroke-opacity="0.66" stroke-width="1.0"/>
<circle cx="401.2" cy="513.8" r="3.45" fill="#0000ff" fill-opacity="0.66" stroke="#0000c0" stroke-opacity="0.66" stroke-width="1.0"/>
<circle cx="402.6" cy="513.8" r="3.45" fill="#0000ff" fill-opacity="0.66" stroke="#0000c0" stroke-opacity="0.66" stroke-width="1.0"/>
<circle cx="404.0" cy="513.8" r="3.45" fill="#0000ff" fill-opacity="0.66" stroke="#0000c0" stroke-opacity="0.66" stroke-width="1.0"/>
<circle cx="406.2" cy="513.8" r="3.45" fill="#0000ff" fill-opacity="0.66" stroke="#0000c0" stroke-opacity="0.66" stroke-width="1.0"/>
<circle cx="408.4" cy="513.8" r="3.45" fill="#0000ff" fill-opacity="0.66" stroke="#0000c0" stroke-opacity="0.66" stroke-width="1.0"/>
<circle cx="411.3" cy="521.2" r="3.45" fill="#0000ff" fill-opacity="0.66" stroke="#0000c0" stroke-opacity="0.66" stroke-width="1.0"/>
<circle cx="415.6" cy="513.8" r="3.45" fill="#0000ff" fill-opacity="0.66" stroke="#0000c0" stroke-opacity="0.66" stroke-width="1.0"/>
<circle cx="419.2" cy="521.2" r="3.45" fill="#0000ff" fill-opacity="0.66" stroke="#0000c0" stroke-opacity="0.66" stroke-width="1.0"/>
<circle cx="421.0" cy="521.2" r="3.45" fill="#0000ff" fill-opacity="0.66" stroke="#0000c0" stroke-opacity="0.66" stroke-width="1.0"/>
<circle cx="422.8" cy="521.2" r="3.45" fill="#0000ff" fill-opacity="0.66" stroke="#0000c0" stroke-opacity="0.66" stroke-width="1.0"/>
<circle cx="424.3" cy="528.5" r="3.45" fill="#0000ff" fill-opacity="0.66" stroke="#0000c0" stroke-opacity="0.66" stroke-width="1.0"/>
<circle cx="426.4" cy="528.5" r="3.45" fill="#0000ff" fill-opacity="0.66" stroke="#0000c0" stroke-opacity="0.66" stroke-width="1.0"/>
<circle cx="428.6" cy="528.5" r="3.45" fill="#0000ff" fill-opacity="0.66" stroke="#0000c0" stroke-opacity="0.66" stroke-width="1.0"/>
<circle cx="430.4" cy="528.5" r="3.45" fill="#0000ff" fill-opacity="0.66" stroke="#0000c0" stroke-opacity="0.66" stroke-width="1.0"/>
<circle cx="432.2" cy="528.5" r="3.45" fill="#0000ff" fill-opacity="0.66" stroke="#0000c0" stroke-opacity="0.66" stroke-width="1.0"/>
<circle cx="434.0" cy="528.5" r="3.45" fill="#0000ff" fill-opacity="0.66" stroke="#0000c0" stroke-opacity="0.66" stroke-width="1.0"/>
<circle cx="435.8" cy="528.5" r="3.45" fill="#0000ff" fill-opacity="0.66" stroke="#0000c0" stroke-opacity="0.66" stroke-width="1.0"/>
<circle cx="437.6" cy="528.5" r="3.45" fill="#0000ff" fill-opacity="0.66" stroke="#0000c0" stroke-opacity="0.66" stroke-width="1.0"/>
<circle cx="439.5" cy="528.5" r="3.45" fill="#0000ff" fill-opacity="0.66" stroke="#0000c0" stroke-opacity="0.66" stroke-width="1.0"/>
<circle cx="442.0" cy="528.5" r="3.45" fill="#0000ff" fill-opacity="0.66" stroke="#0000c0" stroke-opacity="0.66" stroke-width="1.0"/>
<circle cx="444.5" cy="528.5" r="3.45" fill="#0000ff" fill-opacity="0.66" stroke="#0000c0" stroke-opacity="0.66" stroke-width="1.0"/>
<circle cx="448.1" cy="535.9" r="3.45" fill="#0000ff" fill-opacity="0.66" stroke="#0000c0" stroke-opacity="0.66" stroke-width="1.0"/>
<circle cx="451.0" cy="543.2" r="3.45" fill="#0000ff" fill-opacity="0.66" stroke="#0000c0" stroke-opacity="0.66" stroke-width="1.0"/>
<circle cx="453.2" cy="543.2" r="3.45" fill="#0000ff" fill-opacity="0.66" stroke="#0000c0" stroke-opacity="0.66" stroke-width="1.0"/>
<circle cx="455.3" cy="543.2" r="3.45" fill="#0000ff" fill-opacity="0.66" stroke="#0000c0" stroke-opacity="0.66" stroke-width="1.0"/>
<circle cx="459.0" cy="550.5" r="3.45" fill="#0000ff" fill-opacity="0.66" stroke="#0000c0" stroke-opacity="0.66" stroke-width="1.0"/>
<circle cx="461.1" cy="557.9" r="3.45" fill="#0000ff" fill-opacity="0.66" stroke="#0000c0" stroke-opacity="0.66" stroke-width="1.0"/>
<circle cx="464.7" cy="550.5" r="3.45" fill="#0000ff" fill-opacity="0.66" stroke="#0000c0" stroke-opacity="0.66" stroke-width="1.0"/>
<circle cx="466.5" cy="550.5" r="3.45" fill="#0000ff" fill-opacity="0.66" stroke="#0000c0" stroke-opacity="0.66" stroke-width="1.0"/>
<circle cx="468.4" cy="550.5" r="3.45" fill="#0000ff" fill-opacity="0.66" stroke="#0000c0" stroke-opacity="0.66" stroke-width="1.0"/>
<circle cx="470.5" cy="557.9" r="3.45" fill="#0000ff" fill-opacity="0.66" stroke="#0000c0" stroke-opacity="0.66" stroke-width="1.0"/>
<circle cx="472.7" cy="557.9" r="3.45" fill="#0000ff" fill-opacity="0.66" stroke="#0000c0" stroke-opacity="0.66" stroke-width="1.0"/>
<circle cx="474.9" cy="557.9" r="3.45" fill="#0000ff" fill-opacity="0.66" stroke="#0000c0" stroke-opacity="0.66" stroke-width="1.0"/>
<circle cx="477.0" cy="557.9" r="3.45" fill="#0000ff" fill-opacity="0.66" stroke="#0000c0" stroke-opacity="0.66" stroke-width="1.0"/>
<circle cx="479.2" cy="557.9" r="3.45" fill="#0000ff" fill-opacity="0.66" stroke="#0000c0" stroke-opacity="0.66" stroke-width="1.0"/>
<circle cx="481.7" cy="557.9" r="3.45" fill="#0000ff" fill-opacity="0.66" stroke="#0000c0" stroke-opacity="0.66" stroke-width="1.0"/>
<circle cx="484.2" cy="557.9" r="3.45" fill="#0000ff" fill-opacity="0.66" stroke="#0000c0" stroke-opacity="0.66" stroke-width="1.0"/>
<circle cx="485.3" cy="557.9" r="3.45" fill="#0000ff" fill-opacity="0.66" stroke="#0000c0" stroke-opacity="0.66" stroke-width="1.0"/>
<circle cx="486.4" cy="557.9" r="3.45" fill="#0000ff" fill-opacity="0.66" stroke="#0000c0" stroke-opacity="0.66" stroke-width="1.0"/>
<circle cx="488.6" cy="550.5" r="3.45" fill="#0000ff" fill-opacity="0.66" stroke="#0000c0" stroke-opacity="0.66" stroke-width="1.0"/>
<circle cx="490.8" cy="543.2" r="3.45" fill="#0000ff" fill-opacity="0.66" stroke="#0000c0" stroke-opacity="0.66" stroke-width="1.0"/>
<circle cx="492.6" cy="543.2" r="3.45" fill="#0000ff" fill-opacity="0.66" stroke="#0000c0" stroke-opacity="0.66" stroke-width="1.0"/>
<circle cx="494.4" cy="543.2" r="3.45" fill="#0000ff" fill-opacity="0.66" stroke="#0000c0" stroke-opacity="0.66" stroke-width="1.0"/>
<circle cx="495.8" cy="543.2" r="3.45" fill="#0000ff" fill-opacity="0.66" stroke="#0000c0" stroke-opacity="0.66" stroke-width="1.0"/>
<circle cx="497.2" cy="543.2" r="3.45" fill="#0000ff" fill-opacity="0.66" stroke="#0000c0" stroke-opacity="0.66" stroke-width="1.0"/>
<circle cx="499.3" cy="535.9" r="3.45" fill="#0000ff" fill-opacity="0.66" stroke="#0000c0" stroke-opacity="0.66" stroke-width="1.0"/>
<circle cx="503.7" cy="528.5" r="3.45" fill="#0000ff" fill-opacity="0.66" stroke="#0000c0" stroke-opacity="0.66" stroke-width="1.0"/>
<circle cx="505.5" cy="528.5" r="3.45" fill="#0000ff" fill-opacity="0.66" stroke="#0000c0" stroke-opacity="0.66" stroke-width="1.0"/>
<circle cx="507.3" cy="528.5" r="3.45" fill="#0000ff" fill-opacity="0.66" stroke="#0000c0" stroke-opacity="0.66" stroke-width="1.0"/>
<circle cx="509.1" cy="528.5" r="3.45" fill="#0000ff" fill-opacity="0.66" stroke="#0000c0" stroke-opacity="0.66" stroke-width="1.0"/>
<circle cx="510.9" cy="528.5" r="3.45" fill="#0000ff" fill-opacity="0.66" stroke="#0000c0" stroke-opacity="0.66" stroke-width="1.0"/>
<circle cx="512.7" cy="528.5" r="3.45" fill="#0000ff" fill-opacity="0.66" stroke="#0000c0" stroke-opacity="0.66" stroke-width="1.0"/>
<circle cx="514.5" cy="528.5" r="3.45" fill="#0000ff" fill-opacity="0.66" stroke="#0000c0" stroke-opacity="0.66" stroke-width="1.0"/>
<circle cx="516.3" cy="528.5" r="3.45" fill="#0000ff" fill-opacity="0.66" stroke="#0000c0" stroke-opacity="0.66" stroke-width="1.0"/>
<circle cx="518.1" cy="528.5" r="3.45" fill="#0000ff" fill-opacity="0.66" stroke="#0000c0" stroke-opacity="0.66" stroke-width="1.0"/>
<circle cx="520.3" cy="528.5" r="3.45" fill="#0000ff" fill-opacity="0.66" stroke="#0000c0" stroke-opacity="0.66" stroke-width="1.0"/>
<circle cx="522.5" cy="528.5" r="3.45" fill="#0000ff" fill-opacity="0.66" stroke="#0000c0" stroke-opacity="0.66" stroke-width="1.0"/>
<circle cx="524.6" cy="535.9" r="3.45" fill="#0000ff" fill-opacity="0.66" stroke="#0000c0" stroke-opacity="0.66" stroke-width="1.0"/>
<circle cx="526.1" cy="565.2" r="3.45" fill="#0000ff" fill-opacity="0.66" stroke="#0000c0" stroke-opacity="0.66" stroke-width="1.0"/>
<circle cx="529.7" cy="572.6" r="3.45" fill="#0000ff" fill-opacity="0.66" stroke="#0000c0" stroke-opacity="0.66" stroke-width="1.0"/>
<circle cx="531.5" cy="572.6" r="3.45" fill="#0000ff" fill-opacity="0.66" stroke="#0000c0" stroke-opacity="0.66" stroke-width="1.0"/>
<circle cx="533.3" cy="572.6" r="3.45" fill="#0000ff" fill-opacity="0.66" stroke="#0000c0" stroke-opacity="0.66" stroke-width="1.0"/>
<circle cx="535.5" cy="565.2" r="3.45" fill="#0000ff" fill-opacity="0.66" stroke="#0000c0" stroke-opacity="0.66" stroke-width="1.0"/>
<circle cx="538.4" cy="572.6" r="3.45" fill="#0000ff" fill-opacity="0.66" stroke="#0000c0" stroke-opacity="0.66" stroke-width="1.0"/>
<circle cx="540.2" cy="572.6" r="3.45" fill="#0000ff" fill-opacity="0.66" stroke="#0000c0" stroke-opacity="0.66" stroke-width="1.0"/>
<circle cx="542.0" cy="572.6" r="3.45" fill="#0000ff" fill-opacity="0.66" stroke="#0000c0" stroke-opacity="0.66" stroke-width="1.0"/>
<circle cx="546.3" cy="565.2" r="3.45" fill="#0000ff" fill-opacity="0.66" stroke="#0000c0" stroke-opacity="0.66" stroke-width="1.0"/>
<circle cx="552.1" cy="587.3" r="3.45" fill="#0000ff" fill-opacity="0.66" stroke="#0000c0" stroke-opacity="0.66" stroke-width="1.0"/>
<circle cx="555.0" cy="579.9" r="3.45" fill="#0000ff" fill-opacity="0.66" stroke="#0000c0" stroke-opacity="0.66" stroke-width="1.0"/>
<circle cx="558.6" cy="572.6" r="3.45" fill="#0000ff" fill-opacity="0.66" stroke="#0000c0" stroke-opacity="0.66" stroke-width="1.0"/>
<circle cx="564.4" cy="579.9" r="3.45" fill="#0000ff" fill-opacity="0.66" stroke="#0000c0" stroke-opacity="0.66" stroke-width="1.0"/>
<circle cx="568.0" cy="572.6" r="3.45" fill="#0000ff" fill-opacity="0.66" stroke="#0000c0" stroke-opacity="0.66" stroke-width="1.0"/>
<circle cx="569.8" cy="572.6" r="3.45" fill="#0000ff" fill-opacity="0.66" stroke="#0000c0" stroke-opacity="0.66" stroke-width="1.0"/>
<circle cx="571.6" cy="572.6" r="3.45" fill="#0000ff" fill-opacity="0.66" stroke="#0000c0" stroke-opacity="0.66" stroke-width="1.0"/>
<circle cx="573.4" cy="572.6" r="3.45" fill="#0000ff" fill-opacity="0.66" stroke="#0000c0" stroke-opacity="0.66" stroke-width="1.0"/>
<circle cx="575.2" cy="572.6" r="3.45" fill="#0000ff" fill-opacity="0.66" stroke="#0000c0" stroke-opacity="0.66" stroke-width="1.0"/>
<circle cx="578.8" cy="579.9" r="3.45" fill="#0000ff" fill-opacity="0.66" stroke="#0000c0" stroke-opacity="0.66" stroke-width="1.0"/>
<circle cx="581.7" cy="572.6" r="3.45" fill="#0000ff" fill-opacity="0.66" stroke="#0000c0" stroke-opacity="0.66" stroke-width="1.0"/>
<circle cx="588.9" cy="565.2" r="3.45" fill="#0000ff" fill-opacity="0.66" stroke="#0000c0" stroke-opacity="0.66" stroke-width="1.0"/>
<circle cx="593.3" cy="557.9" r="3.45" fill="#0000ff" fill-opacity="0.66" stroke="#0000c0" stroke-opacity="0.66" stroke-width="1.0"/>
<circle cx="595.4" cy="557.9" r="3.45" fill="#0000ff" fill-opacity="0.66" stroke="#0000c0" stroke-opacity="0.66" stroke-width="1.0"/>
<circle cx="597.6" cy="557.9" r="3.45" fill="#0000ff" fill-opacity="0.66" stroke="#0000c0" stroke-opacity="0.66" stroke-width="1.0"/>
<circle cx="599.8" cy="550.5" r="3.45" fill="#0000ff" fill-opacity="0.66" stroke="#0000c0" stroke-opacity="0.66" stroke-width="1.0"/>
<circle cx="601.9" cy="535.9" r="3.45" fill="#0000ff" fill-opacity="0.66" stroke="#0000c0" stroke-opacity="0.66" stroke-width="1.0"/>
<circle cx="604.8" cy="528.5" r="3.45" fill="#0000ff" fill-opacity="0.66" stroke="#0000c0" stroke-opacity="0.66" stroke-width="1.0"/>
<circle cx="610.6" cy="521.2" r="3.45" fill="#0000ff" fill-opacity="0.66" stroke="#0000c0" stroke-opacity="0.66" stroke-width="1.0"/>
<circle cx="612.8" cy="521.2" r="3.45" fill="#0000ff" fill-opacity="0.66" stroke="#0000c0" stroke-opacity="0.66" stroke-width="1.0"/>
<circle cx="614.9" cy="521.2" r="3.45" fill="#0000ff" fill-opacity="0.66" stroke="#0000c0" stroke-opacity="0.66" stroke-width="1.0"/>
<circle cx="620.0" cy="513.8" r="3.45" fill="#0000ff" fill-opacity="0.66" stroke="#0000c0" stroke-opacity="0.66" stroke-width="1.0"/>
<circle cx="621.8" cy="513.8" r="3.45" fill="#0000ff" fill-opacity="0.66" stroke="#0000c0" stroke-opacity="0.66" stroke-width="1.0"/>
<circle cx="623.6" cy="513.8" r="3.45" fill="#0000ff" fill-opacity="0.66" stroke="#0000c0" stroke-opacity="0.66" stroke-width="1.0"/>
<circle cx="626.5" cy="521.2" r="3.45" fill="#0000ff" fill-opacity="0.66" stroke="#0000c0" stroke-opacity="0.66" stroke-width="1.0"/>
<circle cx="628.7" cy="521.2" r="3.45" fill="#0000ff" fill-opacity="0.66" stroke="#0000c0" stroke-opacity="0.66" stroke-width="1.0"/>
<circle cx="630.8" cy="521.2" r="3.45" fill="#0000ff" fill-opacity="0.66" stroke="#0000c0" stroke-opacity="0.66" stroke-width="1.0"/>
<circle cx="633.0" cy="521.2" r="3.45" fill="#0000ff" fill-opacity="0.66" stroke="#0000c0" stroke-opacity="0.66" stroke-width="1.0"/>
<circle cx="635.2" cy="521.2" r="3.45" fill="#0000ff" fill-opacity="0.66" stroke="#0000c0" stroke-opacity="0.66" stroke-width="1.0"/>
<circle cx="637.3" cy="521.2" r="3.45" fill="#0000ff" fill-opacity="0.66" stroke="#0000c0" stroke-opacity="0.66" stroke-width="1.0"/>
<circle cx="639.5" cy="521.2" r="3.45" fill="#0000ff" fill-opacity="0.66" stroke="#0000c0" stroke-opacity="0.66" stroke-width="1.0"/>
<circle cx="641.7" cy="521.2" r="3.45" fill="#0000ff" fill-opacity="0.66" stroke="#0000c0" stroke-opacity="0.66" stroke-width="1.0"/>
<circle cx="643.8" cy="521.2" r="3.45" fill="#0000ff" fill-opacity="0.66" stroke="#0000c0" stroke-opacity="0.66" stroke-width="1.0"/>
<circle cx="646.4" cy="521.2" r="3.45" fill="#0000ff" fill-opacity="0.66" stroke="#0000c0" stroke-opacity="0.66" stroke-width="1.0"/>
<circle cx="648.9" cy="521.2" r="3.45" fill="#0000ff" fill-opacity="0.66" stroke="#0000c0" stroke-opacity="0.66" stroke-width="1.0"/>
<circle cx="651.1" cy="528.5" r="3.45" fill="#0000ff" fill-opacity="0.66" stroke="#0000c0" stroke-opacity="0.66" stroke-width="1.0"/>
<circle cx="653.2" cy="535.9" r="3.45" fill="#0000ff" fill-opacity="0.66" stroke="#0000c0" stroke-opacity="0.66" stroke-width="1.0"/>
<circle cx="655.4" cy="550.5" r="3.45" fill="#0000ff" fill-opacity="0.66" stroke="#0000c0" stroke-opacity="0.66" stroke-width="1.0"/>
<circle cx="657.6" cy="550.5" r="3.45" fill="#0000ff" fill-opacity="0.66" stroke="#0000c0" stroke-opacity="0.66" stroke-width="1.0"/>
<circle cx="659.7" cy="550.5" r="3.45" fill="#0000ff" fill-opacity="0.66" stroke="#0000c0" stroke-opacity="0.66" stroke-width="1.0"/>
<circle cx="661.9" cy="550.5" r="3.45" fill="#0000ff" fill-opacity="0.66" stroke="#0000c0" stroke-opacity="0.66" stroke-width="1.0"/>
<circle cx="664.1" cy="550.5" r="3.45" fill="#0000ff" fill-opacity="0.66" stroke="#0000c0" stroke-opacity="0.66" stroke-width="1.0"/>
<circle cx="666.2" cy="550.5" r="3.45" fill="#0000ff" fill-opacity="0.66" stroke="#0000c0" stroke-opacity="0.66" stroke-width="1.0"/>
<circle cx="668.4" cy="550.5" r="3.45" fill="#0000ff" fill-opacity="0.66" stroke="#0000c0" stroke-opacity="0.66" stroke-width="1.0"/>
<circle cx="674.2" cy="557.9" r="3.45" fill="#0000ff" fill-opacity="0.66" stroke="#0000c0" stroke-opacity="0.66" stroke-width="1.0"/>
<circle cx="677.1" cy="550.5" r="3.45" fill="#0000ff" fill-opacity="0.66" stroke="#0000c0" stroke-opacity="0.66" stroke-width="1.0"/>
<circle cx="681.4" cy="557.9" r="3.45" fill="#0000ff" fill-opacity="0.66" stroke="#0000c0" stroke-opacity="0.66" stroke-width="1.0"/>
<circle cx="684.3" cy="550.5" r="3.45" fill="#0000ff" fill-opacity="0.66" stroke="#0000c0" stroke-opacity="0.66" stroke-width="1.0"/>
<circle cx="686.5" cy="550.5" r="3.45" fill="#0000ff" fill-opacity="0.66" stroke="#0000c0" stroke-opacity="0.66" stroke-width="1.0"/>
<circle cx="688.6" cy="550.5" r="3.45" fill="#0000ff" fill-opacity="0.66" stroke="#0000c0" stroke-opacity="0.66" stroke-width="1.0"/>
<circle cx="689.7" cy="550.5" r="3.45" fill="#0000ff" fill-opacity="0.66" stroke="#0000c0" stroke-opacity="0.66" stroke-width="1.0"/>
<circle cx="690.7" cy="550.5" r="3.45" fill="#0000ff" fill-opacity="0.66" stroke="#0000c0" stroke-opacity="0.66" stroke-width="1.0"/>
<circle cx="692.9" cy="557.9" r="3.45" fill="#0000ff" fill-opacity="0.66" stroke="#0000c0" stroke-opacity="0.66" stroke-width="1.0"/>
<circle cx="695.8" cy="565.2" r="3.45" fill="#0000ff" fill-opacity="0.66" stroke="#0000c0" stroke-opacity="0.66" stroke-width="1.0"/>
<circle cx="700.1" cy="557.9" r="3.45" fill="#0000ff" fill-opacity="0.66" stroke="#0000c0" stroke-opacity="0.66" stroke-width="1.0"/>
<circle cx="703.7" cy="550.5" r="3.45" fill="#0000ff" fill-opacity="0.66" stroke="#0000c0" stroke-opacity="0.66" stroke-width="1.0"/>
<circle cx="706.2" cy="543.2" r="3.45" fill="#0000ff" fill-opacity="0.66" stroke="#0000c0" stroke-opacity="0.66" stroke-width="1.0"/>
<circle cx="708.1" cy="513.8" r="3.45" fill="#0000ff" fill-opacity="0.66" stroke="#0000c0" stroke-opacity="0.66" stroke-width="1.0"/>
<circle cx="712.4" cy="521.2" r="3.45" fill="#0000ff" fill-opacity="0.66" stroke="#0000c0" stroke-opacity="0.66" stroke-width="1.0"/>
<circle cx="715.3" cy="528.5" r="3.45" fill="#0000ff" fill-opacity="0.66" stroke="#0000c0" stroke-opacity="0.66" stroke-width="1.0"/>
<circle cx="718.9" cy="513.8" r="3.45" fill="#0000ff" fill-opacity="0.66" stroke="#0000c0" stroke-opacity="0.66" stroke-width="1.0"/>
<circle cx="724.0" cy="506.5" r="3.45" fill="#0000ff" fill-opacity="0.66" stroke="#0000c0" stroke-opacity="0.66" stroke-width="1.0"/>
<circle cx="726.1" cy="506.5" r="3.45" fill="#0000ff" fill-opacity="0.66" stroke="#0000c0" stroke-opacity="0.66" stroke-width="1.0"/>
<circle cx="728.3" cy="506.5" r="3.45" fill="#0000ff" fill-opacity="0.66" stroke="#0000c0" stroke-opacity="0.66" stroke-width="1.0"/>
<circle cx="730.1" cy="506.5" r="3.45" fill="#0000ff" fill-opacity="0.66" stroke="#0000c0" stroke-opacity="0.66" stroke-width="1.0"/>
<circle cx="731.9" cy="506.5" r="3.45" fill="#0000ff" fill-opacity="0.66" stroke="#0000c0" stroke-opacity="0.66" stroke-width="1.0"/>
<circle cx="733.4" cy="513.8" r="3.45" fill="#0000ff" fill-opacity="0.66" stroke="#0000c0" stroke-opacity="0.66" stroke-width="1.0"/>
<circle cx="735.5" cy="513.8" r="3.45" fill="#0000ff" fill-opacity="0.66" stroke="#0000c0" stroke-opacity="0.66" stroke-width="1.0"/>
<circle cx="737.7" cy="513.8" r="3.45" fill="#0000ff" fill-opacity="0.66" stroke="#0000c0" stroke-opacity="0.66" stroke-width="1.0"/>
<circle cx="739.5" cy="513.8" r="3.45" fill="#0000ff" fill-opacity="0.66" stroke="#0000c0" stroke-opacity="0.66" stroke-width="1.0"/>
<circle cx="741.3" cy="513.8" r="3.45" fill="#0000ff" fill-opacity="0.66" stroke="#0000c0" stroke-opacity="0.66" stroke-width="1.0"/>
<circle cx="744.9" cy="521.2" r="3.45" fill="#0000ff" fill-opacity="0.66" stroke="#0000c0" stroke-opacity="0.66" stroke-width="1.0"/>
<circle cx="750.7" cy="528.5" r="3.45" fill="#0000ff" fill-opacity="0.66" stroke="#0000c0" stroke-opacity="0.66" stroke-width="1.0"/>
<circle cx="752.9" cy="528.5" r="3.45" fill="#0000ff" fill-opacity="0.66" stroke="#0000c0" stroke-opacity="0.66" stroke-width="1.0"/>
<circle cx="755.0" cy="528.5" r="3.45" fill="#0000ff" fill-opacity="0.66" stroke="#0000c0" stroke-opacity="0.66" stroke-width="1.0"/>
<circle cx="757.2" cy="528.5" r="3.45" fill="#0000ff" fill-opacity="0.66" stroke="#0000c0" stroke-opacity="0.66" stroke-width="1.0"/>
<circle cx="759.4" cy="528.5" r="3.45" fill="#0000ff" fill-opacity="0.66" stroke="#0000c0" stroke-opacity="0.66" stroke-width="1.0"/>
<circle cx="761.9" cy="528.5" r="3.45" fill="#0000ff" fill-opacity="0.66" stroke="#0000c0" stroke-opacity="0.66" stroke-width="1.0"/>
<circle cx="764.4" cy="528.5" r="3.45" fill="#0000ff" fill-opacity="0.66" stroke="#0000c0" stroke-opacity="0.66" stroke-width="1.0"/>
<circle cx="765.1" cy="535.9" r="3.45" fill="#0000ff" fill-opacity="0.66" stroke="#0000c0" stroke-opacity="0.66" stroke-width="1.0"/>
<circle cx="768.0" cy="528.5" r="3.45" fill="#0000ff" fill-opacity="0.66" stroke="#0000c0" stroke-opacity="0.66" stroke-width="1.0"/>
<circle cx="770.2" cy="543.2" r="3.45" fill="#0000ff" fill-opacity="0.66" stroke="#0000c0" stroke-opacity="0.66" stroke-width="1.0"/>
<circle cx="772.7" cy="543.2" r="3.45" fill="#0000ff" fill-opacity="0.66" stroke="#0000c0" stroke-opacity="0.66" stroke-width="1.0"/>
<circle cx="775.3" cy="543.2" r="3.45" fill="#0000ff" fill-opacity="0.66" stroke="#0000c0" stroke-opacity="0.66" stroke-width="1.0"/>
<circle cx="778.2" cy="550.5" r="3.45" fill="#0000ff" fill-opacity="0.66" stroke="#0000c0" stroke-opacity="0.66" stroke-width="1.0"/>
<circle cx="780.3" cy="550.5" r="3.45" fill="#0000ff" fill-opacity="0.66" stroke="#0000c0" stroke-opacity="0.66" stroke-width="1.0"/>
<circle cx="782.5" cy="550.5" r="3.45" fill="#0000ff" fill-opacity="0.66" stroke="#0000c0" stroke-opacity="0.66" stroke-width="1.0"/>
<circle cx="784.7" cy="550.5" r="3.45" fill="#0000ff" fill-opacity="0.66" stroke="#0000c0" stroke-opacity="0.66" stroke-width="1.0"/>
<circle cx="786.8" cy="550.5" r="3.45" fill="#0000ff" fill-opacity="0.66" stroke="#0000c0" stroke-opacity="0.66" stroke-width="1.0"/>
<circle cx="793.3" cy="557.9" r="3.45" fill="#0000ff" fill-opacity="0.66" stroke="#0000c0" stroke-opacity="0.66" stroke-width="1.0"/>
<circle cx="796.9" cy="550.5" r="3.45" fill="#0000ff" fill-opacity="0.66" stroke="#0000c0" stroke-opacity="0.66" stroke-width="1.0"/>
<circle cx="799.8" cy="550.5" r="3.45" fill="#0000ff" fill-opacity="0.66" stroke="#0000c0" stroke-opacity="0.66" stroke-width="1.0"/>
<circle cx="802.7" cy="550.5" r="3.45" fill="#0000ff" fill-opacity="0.66" stroke="#0000c0" stroke-opacity="0.66" stroke-width="1.0"/>
<circle cx="805.6" cy="543.2" r="3.45" fill="#0000ff" fill-opacity="0.66" stroke="#0000c0" stroke-opacity="0.66" stroke-width="1.0"/>
<circle cx="810.7" cy="550.5" r="3.45" fill="#0000ff" fill-opacity="0.66" stroke="#0000c0" stroke-opacity="0.66" stroke-width="1.0"/>
<circle cx="814.3" cy="543.2" r="3.45" fill="#0000ff" fill-opacity="0.66" stroke="#0000c0" stroke-opacity="0.66" stroke-width="1.0"/>
<circle cx="817.2" cy="535.9" r="3.45" fill="#0000ff" fill-opacity="0.66" stroke="#0000c0" stroke-opacity="0.66" stroke-width="1.0"/>
<circle cx="819.3" cy="535.9" r="3.45" fill="#0000ff" fill-opacity="0.66" stroke="#0000c0" stroke-opacity="0.66" stroke-width="1.0"/>
<circle cx="821.5" cy="535.9" r="3.45" fill="#0000ff" fill-opacity="0.66" stroke="#0000c0" stroke-opacity="0.66" stroke-width="1.0"/>
<circle cx="825.8" cy="528.5" r="3.45" fill="#0000ff" fill-opacity="0.66" stroke="#0000c0" stroke-opacity="0.66" stroke-width="1.0"/>
<circle cx="828.7" cy="521.2" r="3.45" fill="#0000ff" fill-opacity="0.66" stroke="#0000c0" stroke-opacity="0.66" stroke-width="1.0"/>
<circle cx="830.9" cy="521.2" r="3.45" fill="#0000ff" fill-opacity="0.66" stroke="#0000c0" stroke-opacity="0.66" stroke-width="1.0"/>
<circle cx="833.1" cy="521.2" r="3.45" fill="#0000ff" fill-opacity="0.66" stroke="#0000c0" stroke-opacity="0.66" stroke-width="1.0"/>
<circle cx="834.9" cy="521.2" r="3.45" fill="#0000ff" fill-opacity="0.66" stroke="#0000c0" stroke-opacity="0.66" stroke-width="1.0"/>
<circle cx="836.7" cy="521.2" r="3.45" fill="#0000ff" fill-opacity="0.66" stroke="#0000c0" stroke-opacity="0.66" stroke-width="1.0"/>
<circle cx="838.8" cy="528.5" r="3.45" fill="#0000ff" fill-opacity="0.66" stroke="#0000c0" stroke-opacity="0.66" stroke-width="1.0"/>
<circle cx="841.0" cy="528.5" r="3.45" fill="#0000ff" fill-opacity="0.66" stroke="#0000c0" stroke-opacity="0.66" stroke-width="1.0"/>
<circle cx="843.2" cy="528.5" r="3.45" fill="#0000ff" fill-opacity="0.66" stroke="#0000c0" stroke-opacity="0.66" stroke-width="1.0"/>
<circle cx="845.3" cy="528.5" r="3.45" fill="#0000ff" fill-opacity="0.66" stroke="#0000c0" stroke-opacity="0.66" stroke-width="1.0"/>
<circle cx="847.5" cy="528.5" r="3.45" fill="#0000ff" fill-opacity="0.66" stroke="#0000c0" stroke-opacity="0.66" stroke-width="1.0"/>
<circle cx="849.7" cy="528.5" r="3.45" fill="#0000ff" fill-opacity="0.66" stroke="#0000c0" stroke-opacity="0.66" stroke-width="1.0"/>
<circle cx="851.8" cy="528.5" r="3.45" fill="#0000ff" fill-opacity="0.66" stroke="#0000c0" stroke-opacity="0.66" stroke-width="1.0"/>
<circle cx="854.7" cy="535.9" r="3.45" fill="#0000ff" fill-opacity="0.66" stroke="#0000c0" stroke-opacity="0.66" stroke-width="1.0"/>
<circle cx="858.4" cy="543.2" r="3.45" fill="#0000ff" fill-opacity="0.66" stroke="#0000c0" stroke-opacity="0.66" stroke-width="1.0"/>
<circle cx="862.0" cy="550.5" r="3.45" fill="#0000ff" fill-opacity="0.66" stroke="#0000c0" stroke-opacity="0.66" stroke-width="1.0"/>
<circle cx="864.9" cy="557.9" r="3.45" fill="#0000ff" fill-opacity="0.66" stroke="#0000c0" stroke-opacity="0.66" stroke-width="1.0"/>
<circle cx="867.0" cy="557.9" r="3.45" fill="#0000ff" fill-opacity="0.66" stroke="#0000c0" stroke-opacity="0.66" stroke-width="1.0"/>
<circle cx="869.2" cy="557.9" r="3.45" fill="#0000ff" fill-opacity="0.66" stroke="#0000c0" stroke-opacity="0.66" stroke-width="1.0"/>
<circle cx="871.4" cy="557.9" r="3.45" fill="#0000ff" fill-opacity="0.66" stroke="#0000c0" stroke-opacity="0.66" stroke-width="1.0"/>
<circle cx="873.5" cy="557.9" r="3.45" fill="#0000ff" fill-opacity="0.66" stroke="#0000c0" stroke-opacity="0.66" stroke-width="1.0"/>
<circle cx="876.4" cy="565.2" r="3.45" fill="#0000ff" fill-opacity="0.66" stroke="#0000c0" stroke-opacity="0.66" stroke-width="1.0"/>
<circle cx="879.3" cy="557.9" r="3.45" fill="#0000ff" fill-opacity="0.66" stroke="#0000c0" stroke-opacity="0.66" stroke-width="1.0"/>
<circle cx="881.5" cy="557.9" r="3.45" fill="#0000ff" fill-opacity="0.66" stroke="#0000c0" stroke-opacity="0.66" stroke-width="1.0"/>
<circle cx="883.6" cy="557.9" r="3.45" fill="#0000ff" fill-opacity="0.66" stroke="#0000c0" stroke-opacity="0.66" stroke-width="1.0"/>
<circle cx="884.7" cy="557.9" r="3.45" fill="#0000ff" fill-opacity="0.66" stroke="#0000c0" stroke-opacity="0.66" stroke-width="1.0"/>
<circle cx="885.8" cy="557.9" r="3.45" fill="#0000ff" fill-opacity="0.66" stroke="#0000c0" stroke-opacity="0.66" stroke-width="1.0"/>
<circle cx="889.1" cy="565.2" r="3.45" fill="#0000ff" fill-opacity="0.66" stroke="#0000c0" stroke-opacity="0.66" stroke-width="1.0"/>
<circle cx="893.2" cy="557.9" r="3.45" fill="#0000ff" fill-opacity="0.66" stroke="#0000c0" stroke-opacity="0.66" stroke-width="1.0"/>
<circle cx="895.2" cy="557.9" r="3.45" fill="#0000ff" fill-opacity="0.66" stroke="#0000c0" stroke-opacity="0.66" stroke-width="1.0"/>
<circle cx="897.3" cy="557.9" r="3.45" fill="#0000ff" fill-opacity="0.66" stroke="#0000c0" stroke-opacity="0.66" stroke-width="1.0"/>
<circle cx="899.3" cy="557.9" r="3.45" fill="#0000ff" fill-opacity="0.66" stroke="#0000c0" stroke-opacity="0.66" stroke-width="1.0"/>
<circle cx="901.4" cy="557.9" r="3.45" fill="#0000ff" fill-opacity="0.66" stroke="#0000c0" stroke-opacity="0.66" stroke-width="1.0"/>
<circle cx="905.5" cy="565.2" r="3.45" fill="#0000ff" fill-opacity="0.66" stroke="#0000c0" stroke-opacity="0.66" stroke-width="1.0"/>
<circle cx="907.5" cy="565.2" r="3.45" fill="#0000ff" fill-opacity="0.66" stroke="#0000c0" stroke-opacity="0.66" stroke-width="1.0"/>
<circle cx="909.6" cy="565.2" r="3.45" fill="#0000ff" fill-opacity="0.66" stroke="#0000c0" stroke-opacity="0.66" stroke-width="1.0"/>
<circle cx="911.6" cy="565.2" r="3.45" fill="#0000ff" fill-opacity="0.66" stroke="#0000c0" stroke-opacity="0.66" stroke-width="1.0"/>
<circle cx="913.7" cy="565.2" r="3.45" fill="#0000ff" fill-opacity="0.66" stroke="#0000c0" stroke-opacity="0.66" stroke-width="1.0"/>
<circle cx="916.9" cy="557.9" r="3.45" fill="#0000ff" fill-opacity="0.66" stroke="#0000c0" stroke-opacity="0.66" stroke-width="1.0"/>
<circle cx="919.4" cy="565.2" r="3.45" fill="#0000ff" fill-opacity="0.66" stroke="#0000c0" stroke-opacity="0.66" stroke-width="1.0"/>
<circle cx="921.9" cy="557.9" r="3.45" fill="#0000ff" fill-opacity="0.66" stroke="#0000c0" stroke-opacity="0.66" stroke-width="1.0"/>
<circle cx="925.1" cy="550.5" r="3.45" fill="#0000ff" fill-opacity="0.66" stroke="#0000c0" stroke-opacity="0.66" stroke-width="1.0"/>
<circle cx="927.2" cy="550.5" r="3.45" fill="#0000ff" fill-opacity="0.66" stroke="#0000c0" stroke-opacity="0.66" stroke-width="1.0"/>
<circle cx="929.2" cy="550.5" r="3.45" fill="#0000ff" fill-opacity="0.66" stroke="#0000c0" stroke-opacity="0.66" stroke-width="1.0"/>
<circle cx="932.5" cy="543.2" r="3.45" fill="#0000ff" fill-opacity="0.66" stroke="#0000c0" stroke-opacity="0.66" stroke-width="1.0"/>
<circle cx="936.1" cy="535.9" r="3.45" fill="#0000ff" fill-opacity="0.66" stroke="#0000c0" stroke-opacity="0.66" stroke-width="1.0"/>
<circle cx="940.7" cy="521.2" r="3.45" fill="#0000ff" fill-opacity="0.66" stroke="#0000c0" stroke-opacity="0.66" stroke-width="1.0"/>
<circle cx="943.1" cy="521.2" r="3.45" fill="#0000ff" fill-opacity="0.66" stroke="#0000c0" stroke-opacity="0.66" stroke-width="1.0"/>
<circle cx="945.6" cy="521.2" r="3.45" fill="#0000ff" fill-opacity="0.66" stroke="#0000c0" stroke-opacity="0.66" stroke-width="1.0"/>
<circle cx="948.1" cy="521.2" r="3.45" fill="#0000ff" fill-opacity="0.66" stroke="#0000c0" stroke-opacity="0.66" stroke-width="1.0"/>
<circle cx="950.5" cy="521.2" r="3.45" fill="#0000ff" fill-opacity="0.66" stroke="#0000c0" stroke-opacity="0.66" stroke-width="1.0"/>
<circle cx="953.0" cy="521.2" r="3.45" fill="#0000ff" fill-opacity="0.66" stroke="#0000c0" stroke-opacity="0.66" stroke-width="1.0"/>
<circle cx="955.4" cy="521.2" r="3.45" fill="#0000ff" fill-opacity="0.66" stroke="#0000c0" stroke-opacity="0.66" stroke-width="1.0"/>
<circle cx="957.9" cy="528.5" r="3.45" fill="#0000ff" fill-opacity="0.66" stroke="#0000c0" stroke-opacity="0.66" stroke-width="1.0"/>
<circle cx="959.9" cy="528.5" r="3.45" fill="#0000ff" fill-opacity="0.66" stroke="#0000c0" stroke-opacity="0.66" stroke-width="1.0"/>
<circle cx="962.0" cy="528.5" r="3.45" fill="#0000ff" fill-opacity="0.66" stroke="#0000c0" stroke-opacity="0.66" stroke-width="1.0"/>
<circle cx="964.0" cy="528.5" r="3.45" fill="#0000ff" fill-opacity="0.66" stroke="#0000c0" stroke-opacity="0.66" stroke-width="1.0"/>
<circle cx="966.1" cy="528.5" r="3.45" fill="#0000ff" fill-opacity="0.66" stroke="#0000c0" stroke-opacity="0.66" stroke-width="1.0"/>
<circle cx="966.9" cy="543.2" r="3.45" fill="#0000ff" fill-opacity="0.66" stroke="#0000c0" stroke-opacity="0.66" stroke-width="1.0"/>
<circle cx="969.4" cy="565.2" r="3.45" fill="#0000ff" fill-opacity="0.66" stroke="#0000c0" stroke-opacity="0.66" stroke-width="1.0"/>
<circle cx="971.8" cy="565.2" r="3.45" fill="#0000ff" fill-opacity="0.66" stroke="#0000c0" stroke-opacity="0.66" stroke-width="1.0"/>
<circle cx="974.3" cy="565.2" r="3.45" fill="#0000ff" fill-opacity="0.66" stroke="#0000c0" stroke-opacity="0.66" stroke-width="1.0"/>
<circle cx="980.0" cy="572.6" r="3.45" fill="#0000ff" fill-opacity="0.66" stroke="#0000c0" stroke-opacity="0.66" stroke-width="1.0"/>
<circle cx="985.7" cy="565.2" r="3.45" fill="#0000ff" fill-opacity="0.66" stroke="#0000c0" stroke-opacity="0.66" stroke-width="1.0"/>
<circle cx="989.8" cy="572.6" r="3.45" fill="#0000ff" fill-opacity="0.66" stroke="#0000c0" stroke-opacity="0.66" stroke-width="1.0"/>
<circle cx="990.7" cy="565.2" r="3.45" fill="#0000ff" fill-opacity="0.66" stroke="#0000c0" stroke-opacity="0.66" stroke-width="1.0"/>
<circle cx="994.7" cy="572.6" r="3.45" fill="#0000ff" fill-opacity="0.66" stroke="#0000c0" stroke-opacity="0.66" stroke-width="1.0"/>
<circle cx="997.2" cy="572.6" r="3.45" fill="#0000ff" fill-opacity="0.66" stroke="#0000c0" stroke-opacity="0.66" stroke-width="1.0"/>
<circle cx="999.7" cy="572.6" r="3.45" fill="#0000ff" fill-opacity="0.66" stroke="#0000c0" stroke-opacity="0.66" stroke-width="1.0"/>
<circle cx="1002.1" cy="572.6" r="3.45" fill="#0000ff" fill-opacity="0.66" stroke="#0000c0" stroke-opacity="0.66" stroke-width="1.0"/>
<circle cx="1004.6" cy="572.6" r="3.45" fill="#0000ff" fill-opacity="0.66" stroke="#0000c0" stroke-opacity="0.66" stroke-width="1.0"/>
<circle cx="1009.5" cy="565.2" r="3.45" fill="#0000ff" fill-opacity="0.66" stroke="#0000c0" stroke-opacity="0.66" stroke-width="1.0"/>
<circle cx="1012.8" cy="557.9" r="3.45" fill="#0000ff" fill-opacity="0.66" stroke="#0000c0" stroke-opacity="0.66" stroke-width="1.0"/>
<circle cx="1014.4" cy="557.9" r="3.45" fill="#0000ff" fill-opacity="0.66" stroke="#0000c0" stroke-opacity="0.66" stroke-width="1.0"/>
<circle cx="1016.0" cy="557.9" r="3.45" fill="#0000ff" fill-opacity="0.66" stroke="#0000c0" stroke-opacity="0.66" stroke-width="1.0"/>
<circle cx="1019.3" cy="565.2" r="3.45" fill="#0000ff" fill-opacity="0.66" stroke="#0000c0" stroke-opacity="0.66" stroke-width="1.0"/>
<circle cx="1023.4" cy="557.9" r="3.45" fill="#0000ff" fill-opacity="0.66" stroke="#0000c0" stroke-opacity="0.66" stroke-width="1.0"/>
<circle cx="1025.9" cy="565.2" r="3.45" fill="#0000ff" fill-opacity="0.66" stroke="#0000c0" stroke-opacity="0.66" stroke-width="1.0"/>
<circle cx="1028.3" cy="557.9" r="3.45" fill="#0000ff" fill-opacity="0.66" stroke="#0000c0" stroke-opacity="0.66" stroke-width="1.0"/>
<circle cx="1030.8" cy="550.5" r="3.45" fill="#0000ff" fill-opacity="0.66" stroke="#0000c0" stroke-opacity="0.66" stroke-width="1.0"/>
<circle cx="1032.8" cy="550.5" r="3.45" fill="#0000ff" fill-opacity="0.66" stroke="#0000c0" stroke-opacity="0.66" stroke-width="1.0"/>
<circle cx="1034.9" cy="550.5" r="3.45" fill="#0000ff" fill-opacity="0.66" stroke="#0000c0" stroke-opacity="0.66" stroke-width="1.0"/>
<circle cx="1037.3" cy="528.5" r="3.45" fill="#0000ff" fill-opacity="0.66" stroke="#0000c0" stroke-opacity="0.66" stroke-width="1.0"/>
<circle cx="1038.8" cy="469.7" r="3.45" fill="#0000ff" fill-opacity="0.66" stroke="#0000c0" stroke-opacity="0.66" stroke-width="1.0"/>
<circle cx="1040.6" cy="469.7" r="3.45" fill="#0000ff" fill-opacity="0.66" stroke="#0000c0" stroke-opacity="0.66" stroke-width="1.0"/>
<circle cx="1042.4" cy="469.7" r="3.45" fill="#0000ff" fill-opacity="0.66" stroke="#0000c0" stroke-opacity="0.66" stroke-width="1.0"/>
<circle cx="1044.6" cy="491.8" r="3.45" fill="#0000ff" fill-opacity="0.66" stroke="#0000c0" stroke-opacity="0.66" stroke-width="1.0"/>
<circle cx="1046.4" cy="491.8" r="3.45" fill="#0000ff" fill-opacity="0.66" stroke="#0000c0" stroke-opacity="0.66" stroke-width="1.0"/>
<circle cx="1048.2" cy="491.8" r="3.45" fill="#0000ff" fill-opacity="0.66" stroke="#0000c0" stroke-opacity="0.66" stroke-width="1.0"/>
<circle cx="1049.6" cy="499.1" r="3.45" fill="#0000ff" fill-opacity="0.66" stroke="#0000c0" stroke-opacity="0.66" stroke-width="1.0"/>
<circle cx="1052.5" cy="506.5" r="3.45" fill="#0000ff" fill-opacity="0.66" stroke="#0000c0" stroke-opacity="0.66" stroke-width="1.0"/>
<circle cx="1054.7" cy="506.5" r="3.45" fill="#0000ff" fill-opacity="0.66" stroke="#0000c0" stroke-opacity="0.66" stroke-width="1.0"/>
<circle cx="1056.8" cy="506.5" r="3.45" fill="#0000ff" fill-opacity="0.66" stroke="#0000c0" stroke-opacity="0.66" stroke-width="1.0"/>
<circle cx="1057.6" cy="499.1" r="3.45" fill="#0000ff" fill-opacity="0.66" stroke="#0000c0" stroke-opacity="0.66" stroke-width="1.0"/>
<circle cx="1061.9" cy="506.5" r="3.45" fill="#0000ff" fill-opacity="0.66" stroke="#0000c0" stroke-opacity="0.66" stroke-width="1.0"/>
<circle cx="1066.2" cy="513.8" r="3.45" fill="#0000ff" fill-opacity="0.66" stroke="#0000c0" stroke-opacity="0.66" stroke-width="1.0"/>
<circle cx="1069.9" cy="521.2" r="3.45" fill="#0000ff" fill-opacity="0.66" stroke="#0000c0" stroke-opacity="0.66" stroke-width="1.0"/>
<circle cx="1073.5" cy="513.8" r="3.45" fill="#0000ff" fill-opacity="0.66" stroke="#0000c0" stroke-opacity="0.66" stroke-width="1.0"/>
<circle cx="1075.6" cy="513.8" r="3.45" fill="#0000ff" fill-opacity="0.66" stroke="#0000c0" stroke-opacity="0.66" stroke-width="1.0"/>
<circle cx="1077.8" cy="513.8" r="3.45" fill="#0000ff" fill-opacity="0.66" stroke="#0000c0" stroke-opacity="0.66" stroke-width="1.0"/>
<circle cx="1082.1" cy="506.5" r="3.45" fill="#0000ff" fill-opacity="0.66" stroke="#0000c0" stroke-opacity="0.66" stroke-width="1.0"/>
<circle cx="1085.8" cy="513.8" r="3.45" fill="#0000ff" fill-opacity="0.66" stroke="#0000c0" stroke-opacity="0.66" stroke-width="1.0"/>
<circle cx="1087.2" cy="521.2" r="3.45" fill="#0000ff" fill-opacity="0.66" stroke="#0000c0" stroke-opacity="0.66" stroke-width="1.0"/>
<circle cx="1089.4" cy="521.2" r="3.45" fill="#0000ff" fill-opacity="0.66" stroke="#0000c0" stroke-opacity="0.66" stroke-width="1.0"/>
<circle cx="1091.5" cy="521.2" r="3.45" fill="#0000ff" fill-opacity="0.66" stroke="#0000c0" stroke-opacity="0.66" stroke-width="1.0"/>
<circle cx="1094.4" cy="513.8" r="3.45" fill="#0000ff" fill-opacity="0.66" stroke="#0000c0" stroke-opacity="0.66" stroke-width="1.0"/>
<circle cx="1098.0" cy="506.5" r="3.45" fill="#0000ff" fill-opacity="0.66" stroke="#0000c0" stroke-opacity="0.66" stroke-width="1.0"/>
<circle cx="1100.2" cy="506.5" r="3.45" fill="#0000ff" fill-opacity="0.66" stroke="#0000c0" stroke-opacity="0.66" stroke-width="1.0"/>
<circle cx="1102.4" cy="506.5" r="3.45" fill="#0000ff" fill-opacity="0.66" stroke="#0000c0" stroke-opacity="0.66" stroke-width="1.0"/>
<circle cx="1104.5" cy="506.5" r="3.45" fill="#0000ff" fill-opacity="0.66" stroke="#0000c0" stroke-opacity="0.66" stroke-width="1.0"/>
<circle cx="1106.7" cy="506.5" r="3.45" fill="#0000ff" fill-opacity="0.66" stroke="#0000c0" stroke-opacity="0.66" stroke-width="1.0"/>
<circle cx="1110.3" cy="491.8" r="3.45" fill="#0000ff" fill-opacity="0.66" stroke="#0000c0" stroke-opacity="0.66" stroke-width="1.0"/>
<circle cx="1113.9" cy="499.1" r="3.45" fill="#0000ff" fill-opacity="0.66" stroke="#0000c0" stroke-opacity="0.66" stroke-width="1.0"/>
<circle cx="1116.1" cy="499.1" r="3.45" fill="#0000ff" fill-opacity="0.66" stroke="#0000c0" stroke-opacity="0.66" stroke-width="1.0"/>
<circle cx="1118.3" cy="499.1" r="3.45" fill="#0000ff" fill-opacity="0.66" stroke="#0000c0" stroke-opacity="0.66" stroke-width="1.0"/>
<circle cx="1120.4" cy="499.1" r="3.45" fill="#0000ff" fill-opacity="0.66" stroke="#0000c0" stroke-opacity="0.66" stroke-width="1.0"/>
<circle cx="1122.6" cy="499.1" r="3.45" fill="#0000ff" fill-opacity="0.66" stroke="#0000c0" stroke-opacity="0.66" stroke-width="1.0"/>
<circle cx="1124.4" cy="499.1" r="3.45" fill="#0000ff" fill-opacity="0.66" stroke="#0000c0" stroke-opacity="0.66" stroke-width="1.0"/>
<circle cx="1126.2" cy="499.1" r="3.45" fill="#0000ff" fill-opacity="0.66" stroke="#0000c0" stroke-opacity="0.66" stroke-width="1.0"/>
<circle cx="1129.1" cy="491.8" r="3.45" fill="#0000ff" fill-opacity="0.66" stroke="#0000c0" stroke-opacity="0.66" stroke-width="1.0"/>
<circle cx="1134.2" cy="499.1" r="3.45" fill="#0000ff" fill-opacity="0.66" stroke="#0000c0" stroke-opacity="0.66" stroke-width="1.0"/>
<circle cx="1136.3" cy="499.1" r="3.45" fill="#0000ff" fill-opacity="0.66" stroke="#0000c0" stroke-opacity="0.66" stroke-width="1.0"/>
<circle cx="1138.5" cy="499.1" r="3.45" fill="#0000ff" fill-opacity="0.66" stroke="#0000c0" stroke-opacity="0.66" stroke-width="1.0"/>
<circle cx="1141.4" cy="506.5" r="3.45" fill="#0000ff" fill-opacity="0.66" stroke="#0000c0" stroke-opacity="0.66" stroke-width="1.0"/>
<circle cx="1145.7" cy="499.1" r="3.45" fill="#0000ff" fill-opacity="0.66" stroke="#0000c0" stroke-opacity="0.66" stroke-width="1.0"/>
<circle cx="1147.9" cy="521.2" r="3.45" fill="#0000ff" fill-opacity="0.66" stroke="#0000c0" stroke-opacity="0.66" stroke-width="1.0"/>
<circle cx="1150.1" cy="506.5" r="3.45" fill="#0000ff" fill-opacity="0.66" stroke="#0000c0" stroke-opacity="0.66" stroke-width="1.0"/>
<circle cx="1152.9" cy="499.1" r="3.45" fill="#0000ff" fill-opacity="0.66" stroke="#0000c0" stroke-opacity="0.66" stroke-width="1.0"/>
<circle cx="1155.1" cy="513.8" r="3.45" fill="#0000ff" fill-opacity="0.66" stroke="#0000c0" stroke-opacity="0.66" stroke-width="1.0"/>
<circle cx="1158.7" cy="521.2" r="3.45" fill="#0000ff" fill-opacity="0.66" stroke="#0000c0" stroke-opacity="0.66" stroke-width="1.0"/>
<circle cx="1163.1" cy="506.5" r="3.45" fill="#0000ff" fill-opacity="0.66" stroke="#0000c0" stroke-opacity="0.66" stroke-width="1.0"/>
<circle cx="1165.2" cy="506.5" r="3.45" fill="#0000ff" fill-opacity="0.66" stroke="#0000c0" stroke-opacity="0.66" stroke-width="1.0"/>
<circle cx="1167.4" cy="506.5" r="3.45" fill="#0000ff" fill-opacity="0.66" stroke="#0000c0" stroke-opacity="0.66" stroke-width="1.0"/>
<circle cx="1169.2" cy="506.5" r="3.45" fill="#0000ff" fill-opacity="0.66" stroke="#0000c0" stroke-opacity="0.66" stroke-width="1.0"/>
<circle cx="1171.0" cy="506.5" r="3.45" fill="#0000ff" fill-opacity="0.66" stroke="#0000c0" stroke-opacity="0.66" stroke-width="1.0"/>
<circle cx="1173.2" cy="513.8" r="3.45" fill="#0000ff" fill-opacity="0.66" stroke="#0000c0" stroke-opacity="0.66" stroke-width="1.0"/>
<circle cx="1175.3" cy="513.8" r="3.45" fill="#0000ff" fill-opacity="0.66" stroke="#0000c0" stroke-opacity="0.66" stroke-width="1.0"/>
<circle cx="1177.5" cy="513.8" r="3.45" fill="#0000ff" fill-opacity="0.66" stroke="#0000c0" stroke-opacity="0.66" stroke-width="1.0"/>
<circle cx="1181.8" cy="521.2" r="3.45" fill="#0000ff" fill-opacity="0.66" stroke="#0000c0" stroke-opacity="0.66" stroke-width="1.0"/>
<circle cx="1184.0" cy="521.2" r="3.45" fill="#0000ff" fill-opacity="0.66" stroke="#0000c0" stroke-opacity="0.66" stroke-width="1.0"/>
<circle cx="1186.2" cy="521.2" r="3.45" fill="#0000ff" fill-opacity="0.66" stroke="#0000c0" stroke-opacity="0.66" stroke-width="1.0"/>
<circle cx="1188.4" cy="528.5" r="3.45" fill="#0000ff" fill-opacity="0.66" stroke="#0000c0" stroke-opacity="0.66" stroke-width="1.0"/>
<circle cx="1190.5" cy="528.5" r="3.45" fill="#0000ff" fill-opacity="0.66" stroke="#0000c0" stroke-opacity="0.66" stroke-width="1.0"/>
<circle cx="1192.7" cy="528.5" r="3.45" fill="#0000ff" fill-opacity="0.66" stroke="#0000c0" stroke-opacity="0.66" stroke-width="1.0"/>
<circle cx="1194.5" cy="528.5" r="3.45" fill="#0000ff" fill-opacity="0.66" stroke="#0000c0" stroke-opacity="0.66" stroke-width="1.0"/>
<circle cx="1196.3" cy="528.5" r="3.45" fill="#0000ff" fill-opacity="0.66" stroke="#0000c0" stroke-opacity="0.66" stroke-width="1.0"/>
<circle cx="1200.3" cy="521.2" r="3.45" fill="#0000ff" fill-opacity="0.66" stroke="#0000c0" stroke-opacity="0.66" stroke-width="1.0"/>
<circle cx="1203.6" cy="528.5" r="3.45" fill="#0000ff" fill-opacity="0.66" stroke="#0000c0" stroke-opacity="0.66" stroke-width="1.0"/>
<circle cx="1207.5" cy="535.9" r="3.45" fill="#0000ff" fill-opacity="0.66" stroke="#0000c0" stroke-opacity="0.66" stroke-width="1.0"/>
<circle cx="1211.5" cy="528.5" r="3.45" fill="#0000ff" fill-opacity="0.66" stroke="#0000c0" stroke-opacity="0.66" stroke-width="1.0"/>
<circle cx="1213.4" cy="528.5" r="3.45" fill="#0000ff" fill-opacity="0.66" stroke="#0000c0" stroke-opacity="0.66" stroke-width="1.0"/>
<circle cx="1215.4" cy="528.5" r="3.45" fill="#0000ff" fill-opacity="0.66" stroke="#0000c0" stroke-opacity="0.66" stroke-width="1.0"/>
<circle cx="1217.4" cy="543.2" r="3.45" fill="#0000ff" fill-opacity="0.66" stroke="#0000c0" stroke-opacity="0.66" stroke-width="1.0"/>
<circle cx="1219.1" cy="499.1" r="3.45" fill="#0000ff" fill-opacity="0.66" stroke="#0000c0" stroke-opacity="0.66" stroke-width="1.0"/>
<circle cx="1219.1" cy="506.5" r="3.45" fill="#0000ff" fill-opacity="0.66" stroke="#0000c0" stroke-opacity="0.66" stroke-width="1.0"/>
<circle cx="1220.0" cy="521.2" r="3.45" fill="#0000ff" fill-opacity="0.66" stroke="#0000c0" stroke-opacity="0.66" stroke-width="1.0"/>
<circle cx="1223.3" cy="543.2" r="3.45" fill="#0000ff" fill-opacity="0.66" stroke="#0000c0" stroke-opacity="0.66" stroke-width="1.0"/>
<circle cx="1225.2" cy="521.2" r="3.45" fill="#0000ff" fill-opacity="0.66" stroke="#0000c0" stroke-opacity="0.66" stroke-width="1.0"/>
<circle cx="1227.2" cy="543.2" r="3.45" fill="#0000ff" fill-opacity="0.66" stroke="#0000c0" stroke-opacity="0.66" stroke-width="1.0"/>
<circle cx="1230.5" cy="535.9" r="3.45" fill="#0000ff" fill-opacity="0.66" stroke="#0000c0" stroke-opacity="0.66" stroke-width="1.0"/>
<circle cx="1232.4" cy="550.5" r="3.45" fill="#0000ff" fill-opacity="0.66" stroke="#0000c0" stroke-opacity="0.66" stroke-width="1.0"/>
<circle cx="1233.8" cy="543.2" r="3.45" fill="#0000ff" fill-opacity="0.66" stroke="#0000c0" stroke-opacity="0.66" stroke-width="1.0"/>
<circle cx="1237.0" cy="528.5" r="3.45" fill="#0000ff" fill-opacity="0.66" stroke="#0000c0" stroke-opacity="0.66" stroke-width="1.0"/>
<circle cx="1237.0" cy="535.9" r="3.45" fill="#0000ff" fill-opacity="0.66" stroke="#0000c0" stroke-opacity="0.66" stroke-width="1.0"/>
<circle cx="1239.0" cy="543.2" r="3.45" fill="#0000ff" fill-opacity="0.66" stroke="#0000c0" stroke-opacity="0.66" stroke-width="1.0"/>
<circle cx="1241.6" cy="550.5" r="3.45" fill="#0000ff" fill-opacity="0.66" stroke="#0000c0" stroke-opacity="0.66" stroke-width="1.0"/>
<circle cx="1243.6" cy="550.5" r="3.45" fill="#0000ff" fill-opacity="0.66" stroke="#0000c0" stroke-opacity="0.66" stroke-width="1.0"/>
<circle cx="1245.6" cy="550.5" r="3.45" fill="#0000ff" fill-opacity="0.66" stroke="#0000c0" stroke-opacity="0.66" stroke-width="1.0"/>
<circle cx="1250.8" cy="557.9" r="3.45" fill="#0000ff" fill-opacity="0.66" stroke="#0000c0" stroke-opacity="0.66" stroke-width="1.0"/>
<circle cx="1253.4" cy="550.5" r="3.45" fill="#0000ff" fill-opacity="0.66" stroke="#0000c0" stroke-opacity="0.66" stroke-width="1.0"/>
<circle cx="1255.4" cy="550.5" r="3.45" fill="#0000ff" fill-opacity="0.66" stroke="#0000c0" stroke-opacity="0.66" stroke-width="1.0"/>
<circle cx="1257.4" cy="550.5" r="3.45" fill="#0000ff" fill-opacity="0.66" stroke="#0000c0" stroke-opacity="0.66" stroke-width="1.0"/>
<circle cx="1260.6" cy="543.2" r="3.45" fill="#0000ff" fill-opacity="0.66" stroke="#0000c0" stroke-opacity="0.66" stroke-width="1.0"/>
<circle cx="1265.2" cy="535.9" r="3.45" fill="#0000ff" fill-opacity="0.66" stroke="#0000c0" stroke-opacity="0.66" stroke-width="1.0"/>
<circle cx="1269.2" cy="528.5" r="3.45" fill="#0000ff" fill-opacity="0.66" stroke="#0000c0" stroke-opacity="0.66" stroke-width="1.0"/>
<circle cx="1271.1" cy="528.5" r="3.45" fill="#0000ff" fill-opacity="0.66" stroke="#0000c0" stroke-opacity="0.66" stroke-width="1.0"/>
<circle cx="1273.1" cy="528.5" r="3.45" fill="#0000ff" fill-opacity="0.66" stroke="#0000c0" stroke-opacity="0.66" stroke-width="1.0"/>
<circle cx="1277.7" cy="521.2" r="3.45" fill="#0000ff" fill-opacity="0.66" stroke="#0000c0" stroke-opacity="0.66" stroke-width="1.0"/>
<circle cx="1281.0" cy="528.5" r="3.45" fill="#0000ff" fill-opacity="0.66" stroke="#0000c0" stroke-opacity="0.66" stroke-width="1.0"/>
<circle cx="1284.9" cy="521.2" r="3.45" fill="#0000ff" fill-opacity="0.66" stroke="#0000c0" stroke-opacity="0.66" stroke-width="1.0"/>
<circle cx="1286.2" cy="521.2" r="3.45" fill="#0000ff" fill-opacity="0.66" stroke="#0000c0" stroke-opacity="0.66" stroke-width="1.0"/>
<circle cx="1287.5" cy="521.2" r="3.45" fill="#0000ff" fill-opacity="0.66" stroke="#0000c0" stroke-opacity="0.66" stroke-width="1.0"/>
<circle cx="1291.4" cy="528.5" r="3.45" fill="#0000ff" fill-opacity="0.66" stroke="#0000c0" stroke-opacity="0.66" stroke-width="1.0"/>
<circle cx="1293.4" cy="528.5" r="3.45" fill="#0000ff" fill-opacity="0.66" stroke="#0000c0" stroke-opacity="0.66" stroke-width="1.0"/>
<circle cx="1295.4" cy="528.5" r="3.45" fill="#0000ff" fill-opacity="0.66" stroke="#0000c0" stroke-opacity="0.66" stroke-width="1.0"/>
<circle cx="1299.3" cy="535.9" r="3.45" fill="#0000ff" fill-opacity="0.66" stroke="#0000c0" stroke-opacity="0.66" stroke-width="1.0"/>
<circle cx="1301.0" cy="535.9" r="3.45" fill="#0000ff" fill-opacity="0.66" stroke="#0000c0" stroke-opacity="0.66" stroke-width="1.0"/>
<circle cx="1302.6" cy="535.9" r="3.45" fill="#0000ff" fill-opacity="0.66" stroke="#0000c0" stroke-opacity="0.66" stroke-width="1.0"/>
<circle cx="1304.6" cy="543.2" r="3.45" fill="#0000ff" fill-opacity="0.66" stroke="#0000c0" stroke-opacity="0.66" stroke-width="1.0"/>
<circle cx="1309.1" cy="550.5" r="3.45" fill="#0000ff" fill-opacity="0.66" stroke="#0000c0" stroke-opacity="0.66" stroke-width="1.0"/>
<circle cx="1311.8" cy="557.9" r="3.45" fill="#0000ff" fill-opacity="0.66" stroke="#0000c0" stroke-opacity="0.66" stroke-width="1.0"/>
<path d="M111.5,558.2L117.3,564.0M111.5,564.0L117.3,558.2" stroke="#ff0000" stroke-opacity="0.6" stroke-width="1.5"/>
<path d="M113.8,561.4L119.6,567.2M113.8,567.2L119.6,561.4" stroke="#ff0000" stroke-opacity="0.6" stroke-width="1.5"/>
<path d="M116.0,562.0L121.8,567.8M116.0,567.8L121.8,562.0" stroke="#ff0000" stroke-opacity="0.6" stroke-width="1.5"/>
<path d="M118.3,562.0L124.1,567.8M118.3,567.8L124.1,562.0" stroke="#ff0000" stroke-opacity="0.6" stroke-width="1.5"/>
<path d="M120.6,561.7L126.4,567.5M120.6,567.5L126.4,561.7" stroke="#ff0000" stroke-opacity="0.6" stroke-width="1.5"/>
<path d="M122.8,561.3L128.6,567.1M122.8,567.1L128.6,561.3" stroke="#ff0000" stroke-opacity="0.6" stroke-width="1.5"/>
<path d="M125.1,560.8L130.9,566.6M125.1,566.6L130.9,560.8" stroke="#ff0000" stroke-opacity="0.6" stroke-width="1.5"/>
<path d="M127.4,560.4L133.2,566.2M127.4,566.2L133.2,560.4" stroke="#ff0000" stroke-opacity="0.6" stroke-width="1.5"/>
<path d="M129.6,559.5L135.4,565.3M129.6,565.3L135.4,559.5" stroke="#ff0000" stroke-opacity="0.6" stroke-width="1.5"/>
<path d="M131.9,558.3L137.7,564.1M131.9,564.1L137.7,558.3" stroke="#ff0000" stroke-opacity="0.6" stroke-width="1.5"/>
<path d="M134.2,557.2L140.0,563.0M134.2,563.0L140.0,557.2" stroke="#ff0000" stroke-opacity="0.6" stroke-width="1.5"/>
<path d="M136.4,557.4L142.2,563.2M136.4,563.2L142.2,557.4" stroke="#ff0000" stroke-opacity="0.6" stroke-width="1.5"/>
<path d="M138.7,558.3L144.5,564.1M138.7,564.1L144.5,558.3" stroke="#ff0000" stroke-opacity="0.6" stroke-width="1.5"/>
<path d="M141.0,560.2L146.8,566.0M141.0,566.0L146.8,560.2" stroke="#ff0000" stroke-opacity="0.6" stroke-width="1.5"/>
<path d="M143.2,562.5L149.0,568.3M143.2,568.3L149.0,562.5" stroke="#ff0000" stroke-opacity="0.6" stroke-width="1.5"/>
<path d="M145.5,563.7L151.3,569.5M145.5,569.5L151.3,563.7" stroke="#ff0000" stroke-opacity="0.6" stroke-width="1.5"/>
<path d="M147.8,563.7L153.6,569.5M147.8,569.5L153.6,563.7" stroke="#ff0000" stroke-opacity="0.6" stroke-width="1.5"/>
<path d="M150.0,563.3L155.8,569.1M150.0,569.1L155.8,563.3" stroke="#ff0000" stroke-opacity="0.6" stroke-width="1.5"/>
<path d="M152.3,561.1L158.1,566.9M152.3,566.9L158.1,561.1" stroke="#ff0000" stroke-opacity="0.6" stroke-width="1.5"/>
<path d="M154.6,557.4L160.4,563.2M154.6,563.2L160.4,557.4" stroke="#ff0000" stroke-opacity="0.6" stroke-width="1.5"/>
<path d="M156.8,549.5L162.6,555.3M156.8,555.3L162.6,549.5" stroke="#ff0000" stroke-opacity="0.6" stroke-width="1.5"/>
<path d="M159.1,542.0L164.9,547.8M159.1,547.8L164.9,542.0" stroke="#ff0000" stroke-opacity="0.6" stroke-width="1.5"/>
<path d="M161.4,534.8L167.2,540.6M161.4,540.6L167.2,534.8" stroke="#ff0000" stroke-opacity="0.6" stroke-width="1.5"/>
<path d="M163.6,529.7L169.4,535.5M163.6,535.5L169.4,529.7" stroke="#ff0000" stroke-opacity="0.6" stroke-width="1.5"/>
<path d="M165.9,525.7L171.7,531.5M165.9,531.5L171.7,525.7" stroke="#ff0000" stroke-opacity="0.6" stroke-width="1.5"/>
<path d="M168.2,523.0L174.0,528.8M168.2,528.8L174.0,523.0" stroke="#ff0000" stroke-opacity="0.6" stroke-width="1.5"/>
<path d="M170.4,520.9L176.2,526.7M170.4,526.7L176.2,520.9" stroke="#ff0000" stroke-opacity="0.6" stroke-width="1.5"/>
<path d="M172.7,519.8L178.5,525.6M172.7,525.6L178.5,519.8" stroke="#ff0000" stroke-opacity="0.6" stroke-width="1.5"/>
<path d="M175.0,518.8L180.8,524.6M175.0,524.6L180.8,518.8" stroke="#ff0000" stroke-opacity="0.6" stroke-width="1.5"/>
<path d="M177.2,519.0L183.0,524.8M177.2,524.8L183.0,519.0" stroke="#ff0000" stroke-opacity="0.6" stroke-width="1.5"/>
<path d="M179.5,519.3L185.3,525.1M179.5,525.1L185.3,519.3" stroke="#ff0000" stroke-opacity="0.6" stroke-width="1.5"/>
<path d="M181.8,519.6L187.6,525.4M181.8,525.4L187.6,519.6" stroke="#ff0000" stroke-opacity="0.6" stroke-width="1.5"/>
<path d="M184.0,520.2L189.8,526.0M184.0,526.0L189.8,520.2" stroke="#ff0000" stroke-opacity="0.6" stroke-width="1.5"/>
<path d="M186.3,520.7L192.1,526.5M186.3,526.5L192.1,520.7" stroke="#ff0000" stroke-opacity="0.6" stroke-width="1.5"/>
<path d="M188.6,521.3L194.4,527.1M188.6,527.1L194.4,521.3" stroke="#ff0000" stroke-opacity="0.6" stroke-width="1.5"/>
<path d="M190.8,521.6L196.6,527.4M190.8,527.4L196.6,521.6" stroke="#ff0000" stroke-opacity="0.6" stroke-width="1.5"/>
<path d="M193.1,521.9L198.9,527.7M193.1,527.7L198.9,521.9" stroke="#ff0000" stroke-opacity="0.6" stroke-width="1.5"/>
<path d="M195.4,522.2L201.2,528.0M195.4,528.0L201.2,522.2" stroke="#ff0000" stroke-opacity="0.6" stroke-width="1.5"/>
<path d="M197.6,523.2L203.4,529.0M197.6,529.0L203.4,523.2" stroke="#ff0000" stroke-opacity="0.6" stroke-width="1.5"/>
<path d="M199.9,524.4L205.7,530.2M199.9,530.2L205.7,524.4" stroke="#ff0000" stroke-opacity="0.6" stroke-width="1.5"/>
<path d="M202.2,529.7L208.0,535.5M202.2,535.5L208.0,529.7" stroke="#ff0000" stroke-opacity="0.6" stroke-width="1.5"/>
<path d="M204.4,540.2L210.2,546.0M204.4,546.0L210.2,540.2" stroke="#ff0000" stroke-opacity="0.6" stroke-width="1.5"/>
<path d="M206.7,555.1L212.5,560.9M206.7,560.9L212.5,555.1" stroke="#ff0000" stroke-opacity="0.6" stroke-width="1.5"/>
<path d="M209.0,565.3L214.8,571.1M209.0,571.1L214.8,565.3" stroke="#ff0000" stroke-opacity="0.6" stroke-width="1.5"/>
<path d="M211.2,571.0L217.0,576.8M211.2,576.8L217.0,571.0" stroke="#ff0000" stroke-opacity="0.6" stroke-width="1.5"/>
<path d="M213.5,576.3L219.3,582.1M213.5,582.1L219.3,576.3" stroke="#ff0000" stroke-opacity="0.6" stroke-width="1.5"/>
<path d="M215.8,580.9L221.6,586.7M215.8,586.7L221.6,580.9" stroke="#ff0000" stroke-opacity="0.6" stroke-width="1.5"/>
<path d="M218.0,585.4L223.8,591.2M218.0,591.2L223.8,585.4" stroke="#ff0000" stroke-opacity="0.6" stroke-width="1.5"/>
<path d="M220.3,589.9L226.1,595.7M220.3,595.7L226.1,589.9" stroke="#ff0000" stroke-opacity="0.6" stroke-width="1.5"/>
<path d="M222.6,594.5L228.4,600.3M222.6,600.3L228.4,594.5" stroke="#ff0000" stroke-opacity="0.6" stroke-width="1.5"/>
<path d="M224.8,596.5L230.6,602.3M224.8,602.3L230.6,596.5" stroke="#ff0000" stroke-opacity="0.6" stroke-width="1.5"/>
<path d="M227.1,597.7L232.9,603.5M227.1,603.5L232.9,597.7" stroke="#ff0000" stroke-opacity="0.6" stroke-width="1.5"/>
<path d="M229.4,598.8L235.2,604.6M229.4,604.6L235.2,598.8" stroke="#ff0000" stroke-opacity="0.6" stroke-width="1.5"/>
<path d="M231.7,599.8L237.5,605.6M231.7,605.6L237.5,599.8" stroke="#ff0000" stroke-opacity="0.6" stroke-width="1.5"/>
<path d="M233.9,600.7L239.7,606.5M233.9,606.5L239.7,600.7" stroke="#ff0000" stroke-opacity="0.6" stroke-width="1.5"/>
<path d="M236.2,601.6L242.0,607.4M236.2,607.4L242.0,601.6" stroke="#ff0000" stroke-opacity="0.6" stroke-width="1.5"/>
<path d="M238.5,602.5L244.3,608.3M238.5,608.3L244.3,602.5" stroke="#ff0000" stroke-opacity="0.6" stroke-width="1.5"/>
<path d="M240.7,603.8L246.5,609.6M240.7,609.6L246.5,603.8" stroke="#ff0000" stroke-opacity="0.6" stroke-width="1.5"/>
<path d="M243.0,605.1L248.8,610.9M243.0,610.9L248.8,605.1" stroke="#ff0000" stroke-opacity="0.6" stroke-width="1.5"/>
<path d="M245.3,606.4L251.1,612.2M245.3,612.2L251.1,606.4" stroke="#ff0000" stroke-opacity="0.6" stroke-width="1.5"/>
<path d="M247.5,607.7L253.3,613.5M247.5,613.5L253.3,607.7" stroke="#ff0000" stroke-opacity="0.6" stroke-width="1.5"/>
<path d="M249.8,608.8L255.6,614.6M249.8,614.6L255.6,608.8" stroke="#ff0000" stroke-opacity="0.6" stroke-width="1.5"/>
<path d="M252.1,609.0L257.9,614.8M252.1,614.8L257.9,609.0" stroke="#ff0000" stroke-opacity="0.6" stroke-width="1.5"/>
<path d="M254.3,609.2L260.1,615.0M254.3,615.0L260.1,609.2" stroke="#ff0000" stroke-opacity="0.6" stroke-width="1.5"/>
<path d="M256.6,609.4L262.4,615.2M256.6,615.2L262.4,609.4" stroke="#ff0000" stroke-opacity="0.6" stroke-width="1.5"/>
<path d="M258.9,608.9L264.7,614.7M258.9,614.7L264.7,608.9" stroke="#ff0000" stroke-opacity="0.6" stroke-width="1.5"/>
<path d="M261.1,607.5L266.9,613.3M261.1,613.3L266.9,607.5" stroke="#ff0000" stroke-opacity="0.6" stroke-width="1.5"/>
<path d="M263.4,606.1L269.2,611.9M263.4,611.9L269.2,606.1" stroke="#ff0000" stroke-opacity="0.6" stroke-width="1.5"/>
<path d="M265.7,601.8L271.5,607.6M265.7,607.6L271.5,601.8" stroke="#ff0000" stroke-opacity="0.6" stroke-width="1.5"/>
<path d="M267.9,591.3L273.7,597.1M267.9,597.1L273.7,591.3" stroke="#ff0000" stroke-opacity="0.6" stroke-width="1.5"/>
<path d="M270.2,572.1L276.0,577.9M270.2,577.9L276.0,572.1" stroke="#ff0000" stroke-opacity="0.6" stroke-width="1.5"/>
<path d="M272.5,551.6L278.3,557.4M272.5,557.4L278.3,551.6" stroke="#ff0000" stroke-opacity="0.6" stroke-width="1.5"/>
<path d="M274.7,541.6L280.5,547.4M274.7,547.4L280.5,541.6" stroke="#ff0000" stroke-opacity="0.6" stroke-width="1.5"/>
<path d="M277.0,531.4L282.8,537.2M277.0,537.2L282.8,531.4" stroke="#ff0000" stroke-opacity="0.6" stroke-width="1.5"/>
<path d="M279.3,526.3L285.1,532.1M279.3,532.1L285.1,526.3" stroke="#ff0000" stroke-opacity="0.6" stroke-width="1.5"/>
<path d="M281.5,523.0L287.3,528.8M281.5,528.8L287.3,523.0" stroke="#ff0000" stroke-opacity="0.6" stroke-width="1.5"/>
<path d="M283.8,521.3L289.6,527.1M283.8,527.1L289.6,521.3" stroke="#ff0000" stroke-opacity="0.6" stroke-width="1.5"/>
<path d="M286.1,519.6L291.9,525.4M286.1,525.4L291.9,519.6" stroke="#ff0000" stroke-opacity="0.6" stroke-width="1.5"/>
<path d="M288.3,518.9L294.1,524.7M288.3,524.7L294.1,518.9" stroke="#ff0000" stroke-opacity="0.6" stroke-width="1.5"/>
<path d="M290.6,519.4L296.4,525.2M290.6,525.2L296.4,519.4" stroke="#ff0000" stroke-opacity="0.6" stroke-width="1.5"/>
<path d="M292.9,519.9L298.7,525.7M292.9,525.7L298.7,519.9" stroke="#ff0000" stroke-opacity="0.6" stroke-width="1.5"/>
<path d="M295.1,520.3L300.9,526.1M295.1,526.1L300.9,520.3" stroke="#ff0000" stroke-opacity="0.6" stroke-width="1.5"/>
<path d="M297.4,521.3L303.2,527.1M297.4,527.1L303.2,521.3" stroke="#ff0000" stroke-opacity="0.6" stroke-width="1.5"/>
<path d="M299.7,523.6L305.5,529.4M299.7,529.4L305.5,523.6" stroke="#ff0000" stroke-opacity="0.6" stroke-width="1.5"/>
<path d="M301.9,525.8L307.7,531.6M301.9,531.6L307.7,525.8" stroke="#ff0000" stroke-opacity="0.6" stroke-width="1.5"/>
<path d="M304.2,528.1L310.0,533.9M304.2,533.9L310.0,528.1" stroke="#ff0000" stroke-opacity="0.6" stroke-width="1.5"/>
<path d="M306.5,529.5L312.3,535.3M306.5,535.3L312.3,529.5" stroke="#ff0000" stroke-opacity="0.6" stroke-width="1.5"/>
<path d="M308.7,530.9L314.5,536.7M308.7,536.7L314.5,530.9" stroke="#ff0000" stroke-opacity="0.6" stroke-width="1.5"/>
<path d="M311.0,532.2L316.8,538.0M311.0,538.0L316.8,532.2" stroke="#ff0000" stroke-opacity="0.6" stroke-width="1.5"/>
<path d="M313.3,532.9L319.1,538.7M313.3,538.7L319.1,532.9" stroke="#ff0000" stroke-opacity="0.6" stroke-width="1.5"/>
<path d="M315.5,533.4L321.3,539.2M315.5,539.2L321.3,533.4" stroke="#ff0000" stroke-opacity="0.6" stroke-width="1.5"/>
<path d="M317.8,533.8L323.6,539.6M317.8,539.6L323.6,533.8" stroke="#ff0000" stroke-opacity="0.6" stroke-width="1.5"/>
<path d="M320.1,534.0L325.9,539.8M320.1,539.8L325.9,534.0" stroke="#ff0000" stroke-opacity="0.6" stroke-width="1.5"/>
<path d="M322.3,534.0L328.1,539.8M322.3,539.8L328.1,534.0" stroke="#ff0000" stroke-opacity="0.6" stroke-width="1.5"/>
<path d="M324.6,534.0L330.4,539.8M324.6,539.8L330.4,534.0" stroke="#ff0000" stroke-opacity="0.6" stroke-width="1.5"/>
<path d="M326.9,534.4L332.7,540.2M326.9,540.2L332.7,534.4" stroke="#ff0000" stroke-opacity="0.6" stroke-width="1.5"/>
<path d="M329.1,535.3L334.9,541.1M329.1,541.1L334.9,535.3" stroke="#ff0000" stroke-opacity="0.6" stroke-width="1.5"/>
<path d="M331.4,536.2L337.2,542.0M331.4,542.0L337.2,536.2" stroke="#ff0000" stroke-opacity="0.6" stroke-width="1.5"/>
<path d="M333.7,537.1L339.5,542.9M333.7,542.9L339.5,537.1" stroke="#ff0000" stroke-opacity="0.6" stroke-width="1.5"/>
<path d="M335.9,538.0L341.7,543.8M335.9,543.8L341.7,538.0" stroke="#ff0000" stroke-opacity="0.6" stroke-width="1.5"/>
<path d="M338.2,538.9L344.0,544.7M338.2,544.7L344.0,538.9" stroke="#ff0000" stroke-opacity="0.6" stroke-width="1.5"/>
<path d="M340.5,539.8L346.3,545.6M340.5,545.6L346.3,539.8" stroke="#ff0000" stroke-opacity="0.6" stroke-width="1.5"/>
<path d="M342.7,539.3L348.5,545.1M342.7,545.1L348.5,539.3" stroke="#ff0000" stroke-opacity="0.6" stroke-width="1.5"/>
<path d="M345.0,538.9L350.8,544.7M345.0,544.7L350.8,538.9" stroke="#ff0000" stroke-opacity="0.6" stroke-width="1.5"/>
<path d="M347.3,538.4L353.1,544.2M347.3,544.2L353.1,538.4" stroke="#ff0000" stroke-opacity="0.6" stroke-width="1.5"/>
<path d="M349.5,538.0L355.3,543.8M349.5,543.8L355.3,538.0" stroke="#ff0000" stroke-opacity="0.6" stroke-width="1.5"/>
<path d="M351.8,537.5L357.6,543.3M351.8,543.3L357.6,537.5" stroke="#ff0000" stroke-opacity="0.6" stroke-width="1.5"/>
<path d="M354.1,537.1L359.9,542.9M354.1,542.9L359.9,537.1" stroke="#ff0000" stroke-opacity="0.6" stroke-width="1.5"/>
<path d="M356.3,537.2L362.1,543.0M356.3,543.0L362.1,537.2" stroke="#ff0000" stroke-opacity="0.6" stroke-width="1.5"/>
<path d="M358.6,537.6L364.4,543.4M358.6,543.4L364.4,537.6" stroke="#ff0000" stroke-opacity="0.6" stroke-width="1.5"/>
<path d="M360.9,538.1L366.7,543.9M360.9,543.9L366.7,538.1" stroke="#ff0000" stroke-opacity="0.6" stroke-width="1.5"/>
<path d="M363.1,537.9L368.9,543.7M363.1,543.7L368.9,537.9" stroke="#ff0000" stroke-opacity="0.6" stroke-width="1.5"/>
<path d="M365.4,537.0L371.2,542.8M365.4,542.8L371.2,537.0" stroke="#ff0000" stroke-opacity="0.6" stroke-width="1.5"/>
<path d="M367.7,536.1L373.5,541.9M367.7,541.9L373.5,536.1" stroke="#ff0000" stroke-opacity="0.6" stroke-width="1.5"/>
<path d="M369.9,534.9L375.7,540.7M369.9,540.7L375.7,534.9" stroke="#ff0000" stroke-opacity="0.6" stroke-width="1.5"/>
<path d="M372.2,532.6L378.0,538.4M372.2,538.4L378.0,532.6" stroke="#ff0000" stroke-opacity="0.6" stroke-width="1.5"/>
<path d="M374.5,530.3L380.3,536.1M374.5,536.1L380.3,530.3" stroke="#ff0000" stroke-opacity="0.6" stroke-width="1.5"/>
<path d="M376.7,528.1L382.5,533.9M376.7,533.9L382.5,528.1" stroke="#ff0000" stroke-opacity="0.6" stroke-width="1.5"/>
<path d="M379.0,525.8L384.8,531.6M379.0,531.6L384.8,525.8" stroke="#ff0000" stroke-opacity="0.6" stroke-width="1.5"/>
<path d="M381.3,523.5L387.1,529.3M381.3,529.3L387.1,523.5" stroke="#ff0000" stroke-opacity="0.6" stroke-width="1.5"/>
<path d="M383.5,521.3L389.3,527.1M383.5,527.1L389.3,521.3" stroke="#ff0000" stroke-opacity="0.6" stroke-width="1.5"/>
<path d="M385.8,519.8L391.6,525.6M385.8,525.6L391.6,519.8" stroke="#ff0000" stroke-opacity="0.6" stroke-width="1.5"/>
<path d="M388.1,518.4L393.9,524.2M388.1,524.2L393.9,518.4" stroke="#ff0000" stroke-opacity="0.6" stroke-width="1.5"/>
<path d="M390.3,517.1L396.1,522.9M390.3,522.9L396.1,517.1" stroke="#ff0000" stroke-opacity="0.6" stroke-width="1.5"/>
<path d="M392.6,516.0L398.4,521.8M392.6,521.8L398.4,516.0" stroke="#ff0000" stroke-opacity="0.6" stroke-width="1.5"/>
<path d="M394.9,515.1L400.7,520.9M394.9,520.9L400.7,515.1" stroke="#ff0000" stroke-opacity="0.6" stroke-width="1.5"/>
<path d="M397.1,514.2L402.9,520.0M397.1,520.0L402.9,514.2" stroke="#ff0000" stroke-opacity="0.6" stroke-width="1.5"/>
<path d="M399.4,514.0L405.2,519.8M399.4,519.8L405.2,514.0" stroke="#ff0000" stroke-opacity="0.6" stroke-width="1.5"/>
<path d="M401.7,514.5L407.5,520.3M401.7,520.3L407.5,514.5" stroke="#ff0000" stroke-opacity="0.6" stroke-width="1.5"/>
<path d="M403.9,514.9L409.7,520.7M403.9,520.7L409.7,514.9" stroke="#ff0000" stroke-opacity="0.6" stroke-width="1.5"/>
<path d="M406.2,515.6L412.0,521.4M406.2,521.4L412.0,515.6" stroke="#ff0000" stroke-opacity="0.6" stroke-width="1.5"/>
<path d="M408.5,516.7L414.3,522.5M408.5,522.5L414.3,516.7" stroke="#ff0000" stroke-opacity="0.6" stroke-width="1.5"/>
<path d="M410.7,517.9L416.5,523.7M410.7,523.7L416.5,517.9" stroke="#ff0000" stroke-opacity="0.6" stroke-width="1.5"/>
<path d="M413.0,519.0L418.8,524.8M413.0,524.8L418.8,519.0" stroke="#ff0000" stroke-opacity="0.6" stroke-width="1.5"/>
<path d="M415.3,520.6L421.1,526.4M415.3,526.4L421.1,520.6" stroke="#ff0000" stroke-opacity="0.6" stroke-width="1.5"/>
<path d="M417.5,522.2L423.3,528.0M417.5,528.0L423.3,522.2" stroke="#ff0000" stroke-opacity="0.6" stroke-width="1.5"/>
<path d="M419.8,523.8L425.6,529.6M419.8,529.6L425.6,523.8" stroke="#ff0000" stroke-opacity="0.6" stroke-width="1.5"/>
<path d="M422.1,526.0L427.9,531.8M422.1,531.8L427.9,526.0" stroke="#ff0000" stroke-opacity="0.6" stroke-width="1.5"/>
<path d="M424.3,528.3L430.1,534.1M424.3,534.1L430.1,528.3" stroke="#ff0000" stroke-opacity="0.6" stroke-width="1.5"/>
<path d="M426.6,530.6L432.4,536.4M426.6,536.4L432.4,530.6" stroke="#ff0000" stroke-opacity="0.6" stroke-width="1.5"/>
<path d="M428.9,532.2L434.7,538.0M428.9,538.0L434.7,532.2" stroke="#ff0000" stroke-opacity="0.6" stroke-width="1.5"/>
<path d="M431.1,533.5L436.9,539.3M431.1,539.3L436.9,533.5" stroke="#ff0000" stroke-opacity="0.6" stroke-width="1.5"/>
<path d="M433.4,534.9L439.2,540.7M433.4,540.7L439.2,534.9" stroke="#ff0000" stroke-opacity="0.6" stroke-width="1.5"/>
<path d="M435.7,536.1L441.5,541.9M435.7,541.9L441.5,536.1" stroke="#ff0000" stroke-opacity="0.6" stroke-width="1.5"/>
<path d="M437.9,537.2L443.7,543.0M437.9,543.0L443.7,537.2" stroke="#ff0000" stroke-opacity="0.6" stroke-width="1.5"/>
<path d="M440.2,538.4L446.0,544.2M440.2,544.2L446.0,538.4" stroke="#ff0000" stroke-opacity="0.6" stroke-width="1.5"/>
<path d="M442.5,539.7L448.3,545.5M442.5,545.5L448.3,539.7" stroke="#ff0000" stroke-opacity="0.6" stroke-width="1.5"/>
<path d="M444.7,541.3L450.5,547.1M444.7,547.1L450.5,541.3" stroke="#ff0000" stroke-opacity="0.6" stroke-width="1.5"/>
<path d="M447.0,542.9L452.8,548.7M447.0,548.7L452.8,542.9" stroke="#ff0000" stroke-opacity="0.6" stroke-width="1.5"/>
<path d="M449.3,544.5L455.1,550.3M449.3,550.3L455.1,544.5" stroke="#ff0000" stroke-opacity="0.6" stroke-width="1.5"/>
<path d="M451.5,546.3L457.3,552.1M451.5,552.1L457.3,546.3" stroke="#ff0000" stroke-opacity="0.6" stroke-width="1.5"/>
<path d="M453.8,548.1L459.6,553.9M453.8,553.9L459.6,548.1" stroke="#ff0000" stroke-opacity="0.6" stroke-width="1.5"/>
<path d="M456.1,549.9L461.9,555.7M456.1,555.7L461.9,549.9" stroke="#ff0000" stroke-opacity="0.6" stroke-width="1.5"/>
<path d="M458.4,550.4L464.2,556.2M458.4,556.2L464.2,550.4" stroke="#ff0000" stroke-opacity="0.6" stroke-width="1.5"/>
<path d="M460.6,550.8L466.4,556.6M460.6,556.6L466.4,550.8" stroke="#ff0000" stroke-opacity="0.6" stroke-width="1.5"/>
<path d="M462.9,551.3L468.7,557.1M462.9,557.1L468.7,551.3" stroke="#ff0000" stroke-opacity="0.6" stroke-width="1.5"/>
<path d="M465.2,551.7L471.0,557.5M465.2,557.5L471.0,551.7" stroke="#ff0000" stroke-opacity="0.6" stroke-width="1.5"/>
<path d="M467.4,552.2L473.2,558.0M467.4,558.0L473.2,552.2" stroke="#ff0000" stroke-opacity="0.6" stroke-width="1.5"/>
<path d="M469.7,552.6L475.5,558.4M469.7,558.4L475.5,552.6" stroke="#ff0000" stroke-opacity="0.6" stroke-width="1.5"/>
<path d="M472.0,551.8L477.8,557.6M472.0,557.6L477.8,551.8" stroke="#ff0000" stroke-opacity="0.6" stroke-width="1.5"/>
<path d="M474.2,550.2L480.0,556.0M474.2,556.0L480.0,550.2" stroke="#ff0000" stroke-opacity="0.6" stroke-width="1.5"/>
<path d="M476.5,548.6L482.3,554.4M476.5,554.4L482.3,548.6" stroke="#ff0000" stroke-opacity="0.6" stroke-width="1.5"/>
<path d="M478.8,546.8L484.6,552.6M478.8,552.6L484.6,546.8" stroke="#ff0000" stroke-opacity="0.6" stroke-width="1.5"/>
<path d="M481.0,544.8L486.8,550.6M481.0,550.6L486.8,544.8" stroke="#ff0000" stroke-opacity="0.6" stroke-width="1.5"/>
<path d="M483.3,542.7L489.1,548.5M483.3,548.5L489.1,542.7" stroke="#ff0000" stroke-opacity="0.6" stroke-width="1.5"/>
<path d="M485.6,541.0L491.4,546.8M485.6,546.8L491.4,541.0" stroke="#ff0000" stroke-opacity="0.6" stroke-width="1.5"/>
<path d="M487.8,539.9L493.6,545.7M487.8,545.7L493.6,539.9" stroke="#ff0000" stroke-opacity="0.6" stroke-width="1.5"/>
<path d="M490.1,538.8L495.9,544.6M490.1,544.6L495.9,538.8" stroke="#ff0000" stroke-opacity="0.6" stroke-width="1.5"/>
<path d="M492.4,538.2L498.2,544.0M492.4,544.0L498.2,538.2" stroke="#ff0000" stroke-opacity="0.6" stroke-width="1.5"/>
<path d="M494.6,536.8L500.4,542.6M494.6,542.6L500.4,536.8" stroke="#ff0000" stroke-opacity="0.6" stroke-width="1.5"/>
<path d="M496.9,535.5L502.7,541.3M496.9,541.3L502.7,535.5" stroke="#ff0000" stroke-opacity="0.6" stroke-width="1.5"/>
<path d="M499.2,534.1L505.0,539.9M499.2,539.9L505.0,534.1" stroke="#ff0000" stroke-opacity="0.6" stroke-width="1.5"/>
<path d="M501.4,532.1L507.2,537.9M501.4,537.9L507.2,532.1" stroke="#ff0000" stroke-opacity="0.6" stroke-width="1.5"/>
<path d="M503.7,530.1L509.5,535.9M503.7,535.9L509.5,530.1" stroke="#ff0000" stroke-opacity="0.6" stroke-width="1.5"/>
<path d="M506.0,528.0L511.8,533.8M506.0,533.8L511.8,528.0" stroke="#ff0000" stroke-opacity="0.6" stroke-width="1.5"/>
<path d="M508.2,528.6L514.0,534.4M508.2,534.4L514.0,528.6" stroke="#ff0000" stroke-opacity="0.6" stroke-width="1.5"/>
<path d="M510.5,530.0L516.3,535.8M510.5,535.8L516.3,530.0" stroke="#ff0000" stroke-opacity="0.6" stroke-width="1.5"/>
<path d="M512.8,532.0L518.6,537.8M512.8,537.8L518.6,532.0" stroke="#ff0000" stroke-opacity="0.6" stroke-width="1.5"/>
<path d="M515.0,536.5L520.8,542.3M515.0,542.3L520.8,536.5" stroke="#ff0000" stroke-opacity="0.6" stroke-width="1.5"/>
<path d="M517.3,541.7L523.1,547.5M517.3,547.5L523.1,541.7" stroke="#ff0000" stroke-opacity="0.6" stroke-width="1.5"/>
<path d="M519.6,548.5L525.4,554.3M519.6,554.3L525.4,548.5" stroke="#ff0000" stroke-opacity="0.6" stroke-width="1.5"/>
<path d="M521.8,554.0L527.6,559.8M521.8,559.8L527.6,554.0" stroke="#ff0000" stroke-opacity="0.6" stroke-width="1.5"/>
<path d="M524.1,557.4L529.9,563.2M524.1,563.2L529.9,557.4" stroke="#ff0000" stroke-opacity="0.6" stroke-width="1.5"/>
<path d="M526.4,559.6L532.2,565.4M526.4,565.4L532.2,559.6" stroke="#ff0000" stroke-opacity="0.6" stroke-width="1.5"/>
<path d="M528.6,560.3L534.4,566.1M528.6,566.1L534.4,560.3" stroke="#ff0000" stroke-opacity="0.6" stroke-width="1.5"/>
<path d="M530.9,561.0L536.7,566.8M530.9,566.8L536.7,561.0" stroke="#ff0000" stroke-opacity="0.6" stroke-width="1.5"/>
<path d="M533.2,561.7L539.0,567.5M533.2,567.5L539.0,561.7" stroke="#ff0000" stroke-opacity="0.6" stroke-width="1.5"/>
<path d="M535.4,562.6L541.2,568.4M535.4,568.4L541.2,562.6" stroke="#ff0000" stroke-opacity="0.6" stroke-width="1.5"/>
<path d="M537.7,563.5L543.5,569.3M537.7,569.3L543.5,563.5" stroke="#ff0000" stroke-opacity="0.6" stroke-width="1.5"/>
<path d="M540.0,564.5L545.8,570.3M540.0,570.3L545.8,564.5" stroke="#ff0000" stroke-opacity="0.6" stroke-width="1.5"/>
<path d="M542.2,565.8L548.0,571.6M542.2,571.6L548.0,565.8" stroke="#ff0000" stroke-opacity="0.6" stroke-width="1.5"/>
<path d="M544.5,567.2L550.3,573.0M544.5,573.0L550.3,567.2" stroke="#ff0000" stroke-opacity="0.6" stroke-width="1.5"/>
<path d="M546.8,568.5L552.6,574.3M546.8,574.3L552.6,568.5" stroke="#ff0000" stroke-opacity="0.6" stroke-width="1.5"/>
<path d="M549.0,571.2L554.8,577.0M549.0,577.0L554.8,571.2" stroke="#ff0000" stroke-opacity="0.6" stroke-width="1.5"/>
<path d="M551.3,574.0L557.1,579.8M551.3,579.8L557.1,574.0" stroke="#ff0000" stroke-opacity="0.6" stroke-width="1.5"/>
<path d="M553.6,575.1L559.4,580.9M553.6,580.9L559.4,575.1" stroke="#ff0000" stroke-opacity="0.6" stroke-width="1.5"/>
<path d="M555.8,572.9L561.6,578.7M555.8,578.7L561.6,572.9" stroke="#ff0000" stroke-opacity="0.6" stroke-width="1.5"/>
<path d="M558.1,570.6L563.9,576.4M558.1,576.4L563.9,570.6" stroke="#ff0000" stroke-opacity="0.6" stroke-width="1.5"/>
<path d="M560.4,570.4L566.2,576.2M560.4,576.2L566.2,570.4" stroke="#ff0000" stroke-opacity="0.6" stroke-width="1.5"/>
<path d="M562.6,570.6L568.4,576.4M562.6,576.4L568.4,570.6" stroke="#ff0000" stroke-opacity="0.6" stroke-width="1.5"/>
<path d="M564.9,571.1L570.7,576.9M564.9,576.9L570.7,571.1" stroke="#ff0000" stroke-opacity="0.6" stroke-width="1.5"/>
<path d="M567.2,572.0L573.0,577.8M567.2,577.8L573.0,572.0" stroke="#ff0000" stroke-opacity="0.6" stroke-width="1.5"/>
<path d="M569.4,572.9L575.2,578.7M569.4,578.7L575.2,572.9" stroke="#ff0000" stroke-opacity="0.6" stroke-width="1.5"/>
<path d="M571.7,573.8L577.5,579.6M571.7,579.6L577.5,573.8" stroke="#ff0000" stroke-opacity="0.6" stroke-width="1.5"/>
<path d="M574.0,574.2L579.8,580.0M574.0,580.0L579.8,574.2" stroke="#ff0000" stroke-opacity="0.6" stroke-width="1.5"/>
<path d="M576.2,574.7L582.0,580.5M576.2,580.5L582.0,574.7" stroke="#ff0000" stroke-opacity="0.6" stroke-width="1.5"/>
<path d="M578.5,575.1L584.3,580.9M578.5,580.9L584.3,575.1" stroke="#ff0000" stroke-opacity="0.6" stroke-width="1.5"/>
<path d="M580.8,574.4L586.6,580.2M580.8,580.2L586.6,574.4" stroke="#ff0000" stroke-opacity="0.6" stroke-width="1.5"/>
<path d="M583.0,573.5L588.8,579.3M583.0,579.3L588.8,573.5" stroke="#ff0000" stroke-opacity="0.6" stroke-width="1.5"/>
<path d="M585.3,572.6L591.1,578.4M585.3,578.4L591.1,572.6" stroke="#ff0000" stroke-opacity="0.6" stroke-width="1.5"/>
<path d="M587.6,571.7L593.4,577.5M587.6,577.5L593.4,571.7" stroke="#ff0000" stroke-opacity="0.6" stroke-width="1.5"/>
<path d="M589.8,570.9L595.6,576.7M589.8,576.7L595.6,570.9" stroke="#ff0000" stroke-opacity="0.6" stroke-width="1.5"/>
<path d="M592.1,569.3L597.9,575.1M592.1,575.1L597.9,569.3" stroke="#ff0000" stroke-opacity="0.6" stroke-width="1.5"/>
<path d="M594.4,562.5L600.2,568.3M594.4,568.3L600.2,562.5" stroke="#ff0000" stroke-opacity="0.6" stroke-width="1.5"/>
<path d="M596.6,555.0L602.4,560.8M596.6,560.8L602.4,555.0" stroke="#ff0000" stroke-opacity="0.6" stroke-width="1.5"/>
<path d="M598.9,547.5L604.7,553.3M598.9,553.3L604.7,547.5" stroke="#ff0000" stroke-opacity="0.6" stroke-width="1.5"/>
<path d="M601.2,538.5L607.0,544.3M601.2,544.3L607.0,538.5" stroke="#ff0000" stroke-opacity="0.6" stroke-width="1.5"/>
<path d="M603.4,531.7L609.2,537.5M603.4,537.5L609.2,531.7" stroke="#ff0000" stroke-opacity="0.6" stroke-width="1.5"/>
<path d="M605.7,526.0L611.5,531.8M605.7,531.8L611.5,526.0" stroke="#ff0000" stroke-opacity="0.6" stroke-width="1.5"/>
<path d="M608.0,523.8L613.8,529.6M608.0,529.6L613.8,523.8" stroke="#ff0000" stroke-opacity="0.6" stroke-width="1.5"/>
<path d="M610.2,522.6L616.0,528.4M610.2,528.4L616.0,522.6" stroke="#ff0000" stroke-opacity="0.6" stroke-width="1.5"/>
<path d="M612.5,521.5L618.3,527.3M612.5,527.3L618.3,521.5" stroke="#ff0000" stroke-opacity="0.6" stroke-width="1.5"/>
<path d="M614.8,520.4L620.6,526.2M614.8,526.2L620.6,520.4" stroke="#ff0000" stroke-opacity="0.6" stroke-width="1.5"/>
<path d="M617.0,520.1L622.8,525.9M617.0,525.9L622.8,520.1" stroke="#ff0000" stroke-opacity="0.6" stroke-width="1.5"/>
<path d="M619.3,519.8L625.1,525.6M619.3,525.6L625.1,519.8" stroke="#ff0000" stroke-opacity="0.6" stroke-width="1.5"/>
<path d="M621.6,519.6L627.4,525.4M621.6,525.4L627.4,519.6" stroke="#ff0000" stroke-opacity="0.6" stroke-width="1.5"/>
<path d="M623.8,519.4L629.6,525.2M623.8,525.2L629.6,519.4" stroke="#ff0000" stroke-opacity="0.6" stroke-width="1.5"/>
<path d="M626.1,519.2L631.9,525.0M626.1,525.0L631.9,519.2" stroke="#ff0000" stroke-opacity="0.6" stroke-width="1.5"/>
<path d="M628.4,518.9L634.2,524.7M628.4,524.7L634.2,518.9" stroke="#ff0000" stroke-opacity="0.6" stroke-width="1.5"/>
<path d="M630.6,519.2L636.4,525.0M630.6,525.0L636.4,519.2" stroke="#ff0000" stroke-opacity="0.6" stroke-width="1.5"/>
<path d="M632.9,519.9L638.7,525.7M632.9,525.7L638.7,519.9" stroke="#ff0000" stroke-opacity="0.6" stroke-width="1.5"/>
<path d="M635.2,520.6L641.0,526.4M635.2,526.4L641.0,520.6" stroke="#ff0000" stroke-opacity="0.6" stroke-width="1.5"/>
<path d="M637.4,521.8L643.2,527.6M637.4,527.6L643.2,521.8" stroke="#ff0000" stroke-opacity="0.6" stroke-width="1.5"/>
<path d="M639.7,524.1L645.5,529.9M639.7,529.9L645.5,524.1" stroke="#ff0000" stroke-opacity="0.6" stroke-width="1.5"/>
<path d="M642.0,529.5L647.8,535.3M642.0,535.3L647.8,529.5" stroke="#ff0000" stroke-opacity="0.6" stroke-width="1.5"/>
<path d="M644.2,538.0L650.0,543.8M644.2,543.8L650.0,538.0" stroke="#ff0000" stroke-opacity="0.6" stroke-width="1.5"/>
<path d="M646.5,545.6L652.3,551.4M646.5,551.4L652.3,545.6" stroke="#ff0000" stroke-opacity="0.6" stroke-width="1.5"/>
<path d="M648.8,551.9L654.6,557.7M648.8,557.7L654.6,551.9" stroke="#ff0000" stroke-opacity="0.6" stroke-width="1.5"/>
<path d="M651.0,556.7L656.8,562.5M651.0,562.5L656.8,556.7" stroke="#ff0000" stroke-opacity="0.6" stroke-width="1.5"/>
<path d="M653.3,557.5L659.1,563.3M653.3,563.3L659.1,557.5" stroke="#ff0000" stroke-opacity="0.6" stroke-width="1.5"/>
<path d="M655.6,552.5L661.4,558.3M655.6,558.3L661.4,552.5" stroke="#ff0000" stroke-opacity="0.6" stroke-width="1.5"/>
<path d="M657.8,549.5L663.6,555.3M657.8,555.3L663.6,549.5" stroke="#ff0000" stroke-opacity="0.6" stroke-width="1.5"/>
<path d="M660.1,546.8L665.9,552.6M660.1,552.6L665.9,546.8" stroke="#ff0000" stroke-opacity="0.6" stroke-width="1.5"/>
<path d="M662.4,545.7L668.2,551.5M662.4,551.5L668.2,545.7" stroke="#ff0000" stroke-opacity="0.6" stroke-width="1.5"/>
<path d="M664.6,544.6L670.4,550.4M664.6,550.4L670.4,544.6" stroke="#ff0000" stroke-opacity="0.6" stroke-width="1.5"/>
<path d="M666.9,543.0L672.7,548.8M666.9,548.8L672.7,543.0" stroke="#ff0000" stroke-opacity="0.6" stroke-width="1.5"/>
<path d="M669.2,541.2L675.0,547.0M669.2,547.0L675.0,541.2" stroke="#ff0000" stroke-opacity="0.6" stroke-width="1.5"/>
<path d="M671.4,539.4L677.2,545.2M671.4,545.2L677.2,539.4" stroke="#ff0000" stroke-opacity="0.6" stroke-width="1.5"/>
<path d="M673.7,539.2L679.5,545.0M673.7,545.0L679.5,539.2" stroke="#ff0000" stroke-opacity="0.6" stroke-width="1.5"/>
<path d="M676.0,541.2L681.8,547.0M676.0,547.0L681.8,541.2" stroke="#ff0000" stroke-opacity="0.6" stroke-width="1.5"/>
<path d="M678.3,543.2L684.1,549.0M678.3,549.0L684.1,543.2" stroke="#ff0000" stroke-opacity="0.6" stroke-width="1.5"/>
<path d="M680.5,543.4L686.3,549.2M680.5,549.2L686.3,543.4" stroke="#ff0000" stroke-opacity="0.6" stroke-width="1.5"/>
<path d="M682.8,543.4L688.6,549.2M682.8,549.2L688.6,543.4" stroke="#ff0000" stroke-opacity="0.6" stroke-width="1.5"/>
<path d="M685.1,543.4L690.9,549.2M685.1,549.2L690.9,543.4" stroke="#ff0000" stroke-opacity="0.6" stroke-width="1.5"/>
<path d="M687.3,543.4L693.1,549.2M687.3,549.2L693.1,543.4" stroke="#ff0000" stroke-opacity="0.6" stroke-width="1.5"/>
<path d="M689.6,541.1L695.4,546.9M689.6,546.9L695.4,541.1" stroke="#ff0000" stroke-opacity="0.6" stroke-width="1.5"/>
<path d="M691.9,538.8L697.7,544.6M691.9,544.6L697.7,538.8" stroke="#ff0000" stroke-opacity="0.6" stroke-width="1.5"/>
<path d="M694.1,535.6L699.9,541.4M694.1,541.4L699.9,535.6" stroke="#ff0000" stroke-opacity="0.6" stroke-width="1.5"/>
<path d="M696.4,531.7L702.2,537.5M696.4,537.5L702.2,531.7" stroke="#ff0000" stroke-opacity="0.6" stroke-width="1.5"/>
<path d="M698.7,527.7L704.5,533.5M698.7,533.5L704.5,527.7" stroke="#ff0000" stroke-opacity="0.6" stroke-width="1.5"/>
<path d="M700.9,524.9L706.7,530.7M700.9,530.7L706.7,524.9" stroke="#ff0000" stroke-opacity="0.6" stroke-width="1.5"/>
<path d="M703.2,522.0L709.0,527.8M703.2,527.8L709.0,522.0" stroke="#ff0000" stroke-opacity="0.6" stroke-width="1.5"/>
<path d="M705.5,518.9L711.3,524.7M705.5,524.7L711.3,518.9" stroke="#ff0000" stroke-opacity="0.6" stroke-width="1.5"/>
<path d="M707.7,515.5L713.5,521.3M707.7,521.3L713.5,515.5" stroke="#ff0000" stroke-opacity="0.6" stroke-width="1.5"/>
<path d="M710.0,512.1L715.8,517.9M710.0,517.9L715.8,512.1" stroke="#ff0000" stroke-opacity="0.6" stroke-width="1.5"/>
<path d="M712.3,508.7L718.1,514.5M712.3,514.5L718.1,508.7" stroke="#ff0000" stroke-opacity="0.6" stroke-width="1.5"/>
<path d="M714.5,505.3L720.3,511.1M714.5,511.1L720.3,505.3" stroke="#ff0000" stroke-opacity="0.6" stroke-width="1.5"/>
<path d="M716.8,502.5L722.6,508.3M716.8,508.3L722.6,502.5" stroke="#ff0000" stroke-opacity="0.6" stroke-width="1.5"/>
<path d="M719.1,500.8L724.9,506.6M719.1,506.6L724.9,500.8" stroke="#ff0000" stroke-opacity="0.6" stroke-width="1.5"/>
<path d="M721.3,499.1L727.1,504.9M721.3,504.9L727.1,499.1" stroke="#ff0000" stroke-opacity="0.6" stroke-width="1.5"/>
<path d="M723.6,498.3L729.4,504.1M723.6,504.1L729.4,498.3" stroke="#ff0000" stroke-opacity="0.6" stroke-width="1.5"/>
<path d="M725.9,497.8L731.7,503.6M725.9,503.6L731.7,497.8" stroke="#ff0000" stroke-opacity="0.6" stroke-width="1.5"/>
<path d="M728.1,497.8L733.9,503.6M728.1,503.6L733.9,497.8" stroke="#ff0000" stroke-opacity="0.6" stroke-width="1.5"/>
<path d="M730.4,499.5L736.2,505.3M730.4,505.3L736.2,499.5" stroke="#ff0000" stroke-opacity="0.6" stroke-width="1.5"/>
<path d="M732.7,501.2L738.5,507.0M732.7,507.0L738.5,501.2" stroke="#ff0000" stroke-opacity="0.6" stroke-width="1.5"/>
<path d="M734.9,503.2L740.7,509.0M734.9,509.0L740.7,503.2" stroke="#ff0000" stroke-opacity="0.6" stroke-width="1.5"/>
<path d="M737.2,505.5L743.0,511.3M737.2,511.3L743.0,505.5" stroke="#ff0000" stroke-opacity="0.6" stroke-width="1.5"/>
<path d="M739.5,507.8L745.3,513.6M739.5,513.6L745.3,507.8" stroke="#ff0000" stroke-opacity="0.6" stroke-width="1.5"/>
<path d="M741.7,510.0L747.5,515.8M741.7,515.8L747.5,510.0" stroke="#ff0000" stroke-opacity="0.6" stroke-width="1.5"/>
<path d="M744.0,512.3L749.8,518.1M744.0,518.1L749.8,512.3" stroke="#ff0000" stroke-opacity="0.6" stroke-width="1.5"/>
<path d="M746.3,514.6L752.1,520.4M746.3,520.4L752.1,514.6" stroke="#ff0000" stroke-opacity="0.6" stroke-width="1.5"/>
<path d="M748.5,516.9L754.3,522.7M748.5,522.7L754.3,516.9" stroke="#ff0000" stroke-opacity="0.6" stroke-width="1.5"/>
<path d="M750.8,519.1L756.6,524.9M750.8,524.9L756.6,519.1" stroke="#ff0000" stroke-opacity="0.6" stroke-width="1.5"/>
<path d="M753.1,522.0L758.9,527.8M753.1,527.8L758.9,522.0" stroke="#ff0000" stroke-opacity="0.6" stroke-width="1.5"/>
<path d="M755.3,524.8L761.1,530.6M755.3,530.6L761.1,524.8" stroke="#ff0000" stroke-opacity="0.6" stroke-width="1.5"/>
<path d="M757.6,527.9L763.4,533.7M757.6,533.7L763.4,527.9" stroke="#ff0000" stroke-opacity="0.6" stroke-width="1.5"/>
<path d="M759.9,531.3L765.7,537.1M759.9,537.1L765.7,531.3" stroke="#ff0000" stroke-opacity="0.6" stroke-width="1.5"/>
<path d="M762.1,534.7L767.9,540.5M762.1,540.5L767.9,534.7" stroke="#ff0000" stroke-opacity="0.6" stroke-width="1.5"/>
<path d="M764.4,537.1L770.2,542.9M764.4,542.9L770.2,537.1" stroke="#ff0000" stroke-opacity="0.6" stroke-width="1.5"/>
<path d="M766.7,539.3L772.5,545.1M766.7,545.1L772.5,539.3" stroke="#ff0000" stroke-opacity="0.6" stroke-width="1.5"/>
<path d="M768.9,541.1L774.7,546.9M768.9,546.9L774.7,541.1" stroke="#ff0000" stroke-opacity="0.6" stroke-width="1.5"/>
<path d="M771.2,542.3L777.0,548.1M771.2,548.1L777.0,542.3" stroke="#ff0000" stroke-opacity="0.6" stroke-width="1.5"/>
<path d="M773.5,543.4L779.3,549.2M773.5,549.2L779.3,543.4" stroke="#ff0000" stroke-opacity="0.6" stroke-width="1.5"/>
<path d="M775.7,544.3L781.5,550.1M775.7,550.1L781.5,544.3" stroke="#ff0000" stroke-opacity="0.6" stroke-width="1.5"/>
<path d="M778.0,545.1L783.8,550.9M778.0,550.9L783.8,545.1" stroke="#ff0000" stroke-opacity="0.6" stroke-width="1.5"/>
<path d="M780.3,545.9L786.1,551.7M780.3,551.7L786.1,545.9" stroke="#ff0000" stroke-opacity="0.6" stroke-width="1.5"/>
<path d="M782.5,546.6L788.3,552.4M782.5,552.4L788.3,546.6" stroke="#ff0000" stroke-opacity="0.6" stroke-width="1.5"/>
<path d="M784.8,547.3L790.6,553.1M784.8,553.1L790.6,547.3" stroke="#ff0000" stroke-opacity="0.6" stroke-width="1.5"/>
<path d="M787.1,547.9L792.9,553.7M787.1,553.7L792.9,547.9" stroke="#ff0000" stroke-opacity="0.6" stroke-width="1.5"/>
<path d="M789.3,547.9L795.1,553.7M789.3,553.7L795.1,547.9" stroke="#ff0000" stroke-opacity="0.6" stroke-width="1.5"/>
<path d="M791.6,547.9L797.4,553.7M791.6,553.7L797.4,547.9" stroke="#ff0000" stroke-opacity="0.6" stroke-width="1.5"/>
<path d="M793.9,547.9L799.7,553.7M793.9,553.7L799.7,547.9" stroke="#ff0000" stroke-opacity="0.6" stroke-width="1.5"/>
<path d="M796.1,547.9L801.9,553.7M796.1,553.7L801.9,547.9" stroke="#ff0000" stroke-opacity="0.6" stroke-width="1.5"/>
<path d="M798.4,547.9L804.2,553.7M798.4,553.7L804.2,547.9" stroke="#ff0000" stroke-opacity="0.6" stroke-width="1.5"/>
<path d="M800.7,546.8L806.5,552.6M800.7,552.6L806.5,546.8" stroke="#ff0000" stroke-opacity="0.6" stroke-width="1.5"/>
<path d="M802.9,544.0L808.7,549.8M802.9,549.8L808.7,544.0" stroke="#ff0000" stroke-opacity="0.6" stroke-width="1.5"/>
<path d="M805.2,541.2L811.0,547.0M805.2,547.0L811.0,541.2" stroke="#ff0000" stroke-opacity="0.6" stroke-width="1.5"/>
<path d="M807.5,536.9L813.3,542.7M807.5,542.7L813.3,536.9" stroke="#ff0000" stroke-opacity="0.6" stroke-width="1.5"/>
<path d="M809.7,532.4L815.5,538.2M809.7,538.2L815.5,532.4" stroke="#ff0000" stroke-opacity="0.6" stroke-width="1.5"/>
<path d="M812.0,528.5L817.8,534.3M812.0,534.3L817.8,528.5" stroke="#ff0000" stroke-opacity="0.6" stroke-width="1.5"/>
<path d="M814.3,526.2L820.1,532.0M814.3,532.0L820.1,526.2" stroke="#ff0000" stroke-opacity="0.6" stroke-width="1.5"/>
<path d="M816.5,524.0L822.3,529.8M816.5,529.8L822.3,524.0" stroke="#ff0000" stroke-opacity="0.6" stroke-width="1.5"/>
<path d="M818.8,522.1L824.6,527.9M818.8,527.9L824.6,522.1" stroke="#ff0000" stroke-opacity="0.6" stroke-width="1.5"/>
<path d="M821.1,520.4L826.9,526.2M821.1,526.2L826.9,520.4" stroke="#ff0000" stroke-opacity="0.6" stroke-width="1.5"/>
<path d="M823.3,518.9L829.1,524.7M823.3,524.7L829.1,518.9" stroke="#ff0000" stroke-opacity="0.6" stroke-width="1.5"/>
<path d="M825.6,518.3L831.4,524.1M825.6,524.1L831.4,518.3" stroke="#ff0000" stroke-opacity="0.6" stroke-width="1.5"/>
<path d="M827.9,517.8L833.7,523.6M827.9,523.6L833.7,517.8" stroke="#ff0000" stroke-opacity="0.6" stroke-width="1.5"/>
<path d="M830.1,517.9L835.9,523.7M830.1,523.7L835.9,517.9" stroke="#ff0000" stroke-opacity="0.6" stroke-width="1.5"/>
<path d="M832.4,518.5L838.2,524.3M832.4,524.3L838.2,518.5" stroke="#ff0000" stroke-opacity="0.6" stroke-width="1.5"/>
<path d="M834.7,519.1L840.5,524.9M834.7,524.9L840.5,519.1" stroke="#ff0000" stroke-opacity="0.6" stroke-width="1.5"/>
<path d="M836.9,520.2L842.7,526.0M836.9,526.0L842.7,520.2" stroke="#ff0000" stroke-opacity="0.6" stroke-width="1.5"/>
<path d="M839.2,521.4L845.0,527.2M839.2,527.2L845.0,521.4" stroke="#ff0000" stroke-opacity="0.6" stroke-width="1.5"/>
<path d="M841.5,522.5L847.3,528.3M841.5,528.3L847.3,522.5" stroke="#ff0000" stroke-opacity="0.6" stroke-width="1.5"/>
<path d="M843.7,523.6L849.5,529.4M843.7,529.4L849.5,523.6" stroke="#ff0000" stroke-opacity="0.6" stroke-width="1.5"/>
<path d="M846.0,524.8L851.8,530.6M846.0,530.6L851.8,524.8" stroke="#ff0000" stroke-opacity="0.6" stroke-width="1.5"/>
<path d="M848.3,526.3L854.1,532.1M848.3,532.1L854.1,526.3" stroke="#ff0000" stroke-opacity="0.6" stroke-width="1.5"/>
<path d="M850.5,528.2L856.3,534.0M850.5,534.0L856.3,528.2" stroke="#ff0000" stroke-opacity="0.6" stroke-width="1.5"/>
<path d="M852.8,536.1L858.6,541.9M852.8,541.9L858.6,536.1" stroke="#ff0000" stroke-opacity="0.6" stroke-width="1.5"/>
<path d="M855.1,545.0L860.9,550.8M855.1,550.8L860.9,545.0" stroke="#ff0000" stroke-opacity="0.6" stroke-width="1.5"/>
<path d="M857.3,550.5L863.1,556.3M857.3,556.3L863.1,550.5" stroke="#ff0000" stroke-opacity="0.6" stroke-width="1.5"/>
<path d="M859.6,552.8L865.4,558.6M859.6,558.6L865.4,552.8" stroke="#ff0000" stroke-opacity="0.6" stroke-width="1.5"/>
<path d="M861.9,555.1L867.7,560.9M861.9,560.9L867.7,555.1" stroke="#ff0000" stroke-opacity="0.6" stroke-width="1.5"/>
<path d="M864.1,554.9L869.9,560.7M864.1,560.7L869.9,554.9" stroke="#ff0000" stroke-opacity="0.6" stroke-width="1.5"/>
<path d="M866.4,554.7L872.2,560.5M866.4,560.5L872.2,554.7" stroke="#ff0000" stroke-opacity="0.6" stroke-width="1.5"/>
<path d="M868.7,554.5L874.5,560.3M868.7,560.3L874.5,554.5" stroke="#ff0000" stroke-opacity="0.6" stroke-width="1.5"/>
<path d="M870.9,554.4L876.7,560.2M870.9,560.2L876.7,554.4" stroke="#ff0000" stroke-opacity="0.6" stroke-width="1.5"/>
<path d="M873.2,554.4L879.0,560.2M873.2,560.2L879.0,554.4" stroke="#ff0000" stroke-opacity="0.6" stroke-width="1.5"/>
<path d="M875.5,554.4L881.3,560.2M875.5,560.2L881.3,554.4" stroke="#ff0000" stroke-opacity="0.6" stroke-width="1.5"/>
<path d="M877.7,554.4L883.5,560.2M877.7,560.2L883.5,554.4" stroke="#ff0000" stroke-opacity="0.6" stroke-width="1.5"/>
<path d="M880.0,553.2L885.8,559.0M880.0,559.0L885.8,553.2" stroke="#ff0000" stroke-opacity="0.6" stroke-width="1.5"/>
<path d="M882.3,551.0L888.1,556.8M882.3,556.8L888.1,551.0" stroke="#ff0000" stroke-opacity="0.6" stroke-width="1.5"/>
<path d="M884.5,550.6L890.3,556.4M884.5,556.4L890.3,550.6" stroke="#ff0000" stroke-opacity="0.6" stroke-width="1.5"/>
<path d="M886.8,550.1L892.6,555.9M886.8,555.9L892.6,550.1" stroke="#ff0000" stroke-opacity="0.6" stroke-width="1.5"/>
<path d="M889.1,549.7L894.9,555.5M889.1,555.5L894.9,549.7" stroke="#ff0000" stroke-opacity="0.6" stroke-width="1.5"/>
<path d="M891.3,549.5L897.1,555.3M891.3,555.3L897.1,549.5" stroke="#ff0000" stroke-opacity="0.6" stroke-width="1.5"/>
<path d="M893.6,549.8L899.4,555.6M893.6,555.6L899.4,549.8" stroke="#ff0000" stroke-opacity="0.6" stroke-width="1.5"/>
<path d="M895.9,550.0L901.7,555.8M895.9,555.8L901.7,550.0" stroke="#ff0000" stroke-opacity="0.6" stroke-width="1.5"/>
<path d="M898.1,550.2L903.9,556.0M898.1,556.0L903.9,550.2" stroke="#ff0000" stroke-opacity="0.6" stroke-width="1.5"/>
<path d="M900.4,550.2L906.2,556.0M900.4,556.0L906.2,550.2" stroke="#ff0000" stroke-opacity="0.6" stroke-width="1.5"/>
<path d="M902.7,550.2L908.5,556.0M902.7,556.0L908.5,550.2" stroke="#ff0000" stroke-opacity="0.6" stroke-width="1.5"/>
<path d="M905.0,550.2L910.8,556.0M905.0,556.0L910.8,550.2" stroke="#ff0000" stroke-opacity="0.6" stroke-width="1.5"/>
<path d="M907.2,549.8L913.0,555.6M907.2,555.6L913.0,549.8" stroke="#ff0000" stroke-opacity="0.6" stroke-width="1.5"/>
<path d="M909.5,547.9L915.3,553.7M909.5,553.7L915.3,547.9" stroke="#ff0000" stroke-opacity="0.6" stroke-width="1.5"/>
<path d="M911.8,545.9L917.6,551.7M911.8,551.7L917.6,545.9" stroke="#ff0000" stroke-opacity="0.6" stroke-width="1.5"/>
<path d="M914.0,542.1L919.8,547.9M914.0,547.9L919.8,542.1" stroke="#ff0000" stroke-opacity="0.6" stroke-width="1.5"/>
<path d="M916.3,538.3L922.1,544.1M916.3,544.1L922.1,538.3" stroke="#ff0000" stroke-opacity="0.6" stroke-width="1.5"/>
<path d="M918.6,535.9L924.4,541.7M918.6,541.7L924.4,535.9" stroke="#ff0000" stroke-opacity="0.6" stroke-width="1.5"/>
<path d="M920.8,533.6L926.6,539.4M920.8,539.4L926.6,533.6" stroke="#ff0000" stroke-opacity="0.6" stroke-width="1.5"/>
<path d="M923.1,530.3L928.9,536.1M923.1,536.1L928.9,530.3" stroke="#ff0000" stroke-opacity="0.6" stroke-width="1.5"/>
<path d="M925.4,526.5L931.2,532.3M925.4,532.3L931.2,526.5" stroke="#ff0000" stroke-opacity="0.6" stroke-width="1.5"/>
<path d="M927.6,522.7L933.4,528.5M927.6,528.5L933.4,522.7" stroke="#ff0000" stroke-opacity="0.6" stroke-width="1.5"/>
<path d="M929.9,518.9L935.7,524.7M929.9,524.7L935.7,518.9" stroke="#ff0000" stroke-opacity="0.6" stroke-width="1.5"/>
<path d="M932.2,516.4L938.0,522.2M932.2,522.2L938.0,516.4" stroke="#ff0000" stroke-opacity="0.6" stroke-width="1.5"/>
<path d="M934.4,515.9L940.2,521.7M934.4,521.7L940.2,515.9" stroke="#ff0000" stroke-opacity="0.6" stroke-width="1.5"/>
<path d="M936.7,515.3L942.5,521.1M936.7,521.1L942.5,515.3" stroke="#ff0000" stroke-opacity="0.6" stroke-width="1.5"/>
<path d="M939.0,514.6L944.8,520.4M939.0,520.4L944.8,514.6" stroke="#ff0000" stroke-opacity="0.6" stroke-width="1.5"/>
<path d="M941.2,513.7L947.0,519.5M941.2,519.5L947.0,513.7" stroke="#ff0000" stroke-opacity="0.6" stroke-width="1.5"/>
<path d="M943.5,512.9L949.3,518.7M943.5,518.7L949.3,512.9" stroke="#ff0000" stroke-opacity="0.6" stroke-width="1.5"/>
<path d="M945.8,512.2L951.6,518.0M945.8,518.0L951.6,512.2" stroke="#ff0000" stroke-opacity="0.6" stroke-width="1.5"/>
<path d="M948.0,511.5L953.8,517.3M948.0,517.3L953.8,511.5" stroke="#ff0000" stroke-opacity="0.6" stroke-width="1.5"/>
<path d="M950.3,510.8L956.1,516.6M950.3,516.6L956.1,510.8" stroke="#ff0000" stroke-opacity="0.6" stroke-width="1.5"/>
<path d="M952.6,510.1L958.4,515.9M952.6,515.9L958.4,510.1" stroke="#ff0000" stroke-opacity="0.6" stroke-width="1.5"/>
<path d="M954.8,511.6L960.6,517.4M954.8,517.4L960.6,511.6" stroke="#ff0000" stroke-opacity="0.6" stroke-width="1.5"/>
<path d="M957.1,513.2L962.9,519.0M957.1,519.0L962.9,513.2" stroke="#ff0000" stroke-opacity="0.6" stroke-width="1.5"/>
<path d="M959.4,516.6L965.2,522.4M959.4,522.4L965.2,516.6" stroke="#ff0000" stroke-opacity="0.6" stroke-width="1.5"/>
<path d="M961.6,520.4L967.4,526.2M961.6,526.2L967.4,520.4" stroke="#ff0000" stroke-opacity="0.6" stroke-width="1.5"/>
<path d="M963.9,528.7L969.7,534.5M963.9,534.5L969.7,528.7" stroke="#ff0000" stroke-opacity="0.6" stroke-width="1.5"/>
<path d="M966.2,548.5L972.0,554.3M966.2,554.3L972.0,548.5" stroke="#ff0000" stroke-opacity="0.6" stroke-width="1.5"/>
<path d="M968.4,551.5L974.2,557.3M968.4,557.3L974.2,551.5" stroke="#ff0000" stroke-opacity="0.6" stroke-width="1.5"/>
<path d="M970.7,554.6L976.5,560.4M970.7,560.4L976.5,554.6" stroke="#ff0000" stroke-opacity="0.6" stroke-width="1.5"/>
<path d="M973.0,558.6L978.8,564.4M973.0,564.4L978.8,558.6" stroke="#ff0000" stroke-opacity="0.6" stroke-width="1.5"/>
<path d="M975.2,562.5L981.0,568.3M975.2,568.3L981.0,562.5" stroke="#ff0000" stroke-opacity="0.6" stroke-width="1.5"/>
<path d="M977.5,566.6L983.3,572.4M977.5,572.4L983.3,566.6" stroke="#ff0000" stroke-opacity="0.6" stroke-width="1.5"/>
<path d="M979.8,571.1L985.6,576.9M979.8,576.9L985.6,571.1" stroke="#ff0000" stroke-opacity="0.6" stroke-width="1.5"/>
<path d="M982.0,575.6L987.8,581.4M982.0,581.4L987.8,575.6" stroke="#ff0000" stroke-opacity="0.6" stroke-width="1.5"/>
<path d="M984.3,577.6L990.1,583.4M984.3,583.4L990.1,577.6" stroke="#ff0000" stroke-opacity="0.6" stroke-width="1.5"/>
<path d="M986.6,579.6L992.4,585.4M986.6,585.4L992.4,579.6" stroke="#ff0000" stroke-opacity="0.6" stroke-width="1.5"/>
<path d="M988.8,581.4L994.6,587.2M988.8,587.2L994.6,581.4" stroke="#ff0000" stroke-opacity="0.6" stroke-width="1.5"/>
<path d="M991.1,582.1L996.9,587.9M991.1,587.9L996.9,582.1" stroke="#ff0000" stroke-opacity="0.6" stroke-width="1.5"/>
<path d="M993.4,582.8L999.2,588.6M993.4,588.6L999.2,582.8" stroke="#ff0000" stroke-opacity="0.6" stroke-width="1.5"/>
<path d="M995.6,583.5L1001.4,589.3M995.6,589.3L1001.4,583.5" stroke="#ff0000" stroke-opacity="0.6" stroke-width="1.5"/>
<path d="M997.9,583.9L1003.7,589.7M997.9,589.7L1003.7,583.9" stroke="#ff0000" stroke-opacity="0.6" stroke-width="1.5"/>
<path d="M1000.2,584.2L1006.0,590.0M1000.2,590.0L1006.0,584.2" stroke="#ff0000" stroke-opacity="0.6" stroke-width="1.5"/>
<path d="M1002.4,584.4L1008.2,590.2M1002.4,590.2L1008.2,584.4" stroke="#ff0000" stroke-opacity="0.6" stroke-width="1.5"/>
<path d="M1004.7,584.6L1010.5,590.4M1004.7,590.4L1010.5,584.6" stroke="#ff0000" stroke-opacity="0.6" stroke-width="1.5"/>
<path d="M1007.0,585.9L1012.8,591.7M1007.0,591.7L1012.8,585.9" stroke="#ff0000" stroke-opacity="0.6" stroke-width="1.5"/>
<path d="M1009.2,586.9L1015.0,592.7M1009.2,592.7L1015.0,586.9" stroke="#ff0000" stroke-opacity="0.6" stroke-width="1.5"/>
<path d="M1011.5,584.7L1017.3,590.5M1011.5,590.5L1017.3,584.7" stroke="#ff0000" stroke-opacity="0.6" stroke-width="1.5"/>
<path d="M1013.8,597.1L1019.6,602.9M1013.8,602.9L1019.6,597.1" stroke="#ff0000" stroke-opacity="0.6" stroke-width="1.5"/>
<path d="M1016.0,597.7L1021.8,603.5M1016.0,603.5L1021.8,597.7" stroke="#ff0000" stroke-opacity="0.6" stroke-width="1.5"/>
<path d="M1018.3,598.2L1024.1,604.0M1018.3,604.0L1024.1,598.2" stroke="#ff0000" stroke-opacity="0.6" stroke-width="1.5"/>
<path d="M1020.6,599.4L1026.4,605.2M1020.6,605.2L1026.4,599.4" stroke="#ff0000" stroke-opacity="0.6" stroke-width="1.5"/>
<path d="M1022.8,601.7L1028.6,607.5M1022.8,607.5L1028.6,601.7" stroke="#ff0000" stroke-opacity="0.6" stroke-width="1.5"/>
<path d="M1025.1,604.4L1030.9,610.2M1025.1,610.2L1030.9,604.4" stroke="#ff0000" stroke-opacity="0.6" stroke-width="1.5"/>
<path d="M1027.4,608.3L1033.2,614.1M1027.4,614.1L1033.2,608.3" stroke="#ff0000" stroke-opacity="0.6" stroke-width="1.5"/>
<path d="M1029.6,606.3L1035.4,612.1M1029.6,612.1L1035.4,606.3" stroke="#ff0000" stroke-opacity="0.6" stroke-width="1.5"/>
<path d="M1034.2,515.4L1040.0,521.2M1034.2,521.2L1040.0,515.4" stroke="#ff0000" stroke-opacity="0.6" stroke-width="1.5"/>
<path d="M1036.4,510.2L1042.2,516.0M1036.4,516.0L1042.2,510.2" stroke="#ff0000" stroke-opacity="0.6" stroke-width="1.5"/>
<path d="M1038.7,508.5L1044.5,514.3M1038.7,514.3L1044.5,508.5" stroke="#ff0000" stroke-opacity="0.6" stroke-width="1.5"/>
<path d="M1041.0,506.8L1046.8,512.6M1041.0,512.6L1046.8,506.8" stroke="#ff0000" stroke-opacity="0.6" stroke-width="1.5"/>
<path d="M1043.2,506.0L1049.0,511.8M1043.2,511.8L1049.0,506.0" stroke="#ff0000" stroke-opacity="0.6" stroke-width="1.5"/>
<path d="M1045.5,505.8L1051.3,511.6M1045.5,511.6L1051.3,505.8" stroke="#ff0000" stroke-opacity="0.6" stroke-width="1.5"/>
<path d="M1047.8,505.6L1053.6,511.4M1047.8,511.4L1053.6,505.6" stroke="#ff0000" stroke-opacity="0.6" stroke-width="1.5"/>
<path d="M1050.0,506.5L1055.8,512.3M1050.0,512.3L1055.8,506.5" stroke="#ff0000" stroke-opacity="0.6" stroke-width="1.5"/>
<path d="M1052.3,507.3L1058.1,513.1M1052.3,513.1L1058.1,507.3" stroke="#ff0000" stroke-opacity="0.6" stroke-width="1.5"/>
<path d="M1054.6,508.7L1060.4,514.5M1054.6,514.5L1060.4,508.7" stroke="#ff0000" stroke-opacity="0.6" stroke-width="1.5"/>
<path d="M1056.8,510.4L1062.6,516.2M1056.8,516.2L1062.6,510.4" stroke="#ff0000" stroke-opacity="0.6" stroke-width="1.5"/>
<path d="M1061.4,498.5L1067.2,504.3M1061.4,504.3L1067.2,498.5" stroke="#ff0000" stroke-opacity="0.6" stroke-width="1.5"/>
<path d="M1063.6,497.6L1069.4,503.4M1063.6,503.4L1069.4,497.6" stroke="#ff0000" stroke-opacity="0.6" stroke-width="1.5"/>
<path d="M1065.9,497.8L1071.7,503.6M1065.9,503.6L1071.7,497.8" stroke="#ff0000" stroke-opacity="0.6" stroke-width="1.5"/>
<path d="M1068.2,498.0L1074.0,503.8M1068.2,503.8L1074.0,498.0" stroke="#ff0000" stroke-opacity="0.6" stroke-width="1.5"/>
<path d="M1070.4,498.3L1076.2,504.1M1070.4,504.1L1076.2,498.3" stroke="#ff0000" stroke-opacity="0.6" stroke-width="1.5"/>
<path d="M1072.7,498.5L1078.5,504.3M1072.7,504.3L1078.5,498.5" stroke="#ff0000" stroke-opacity="0.6" stroke-width="1.5"/>
<path d="M1075.0,498.7L1080.8,504.5M1075.0,504.5L1080.8,498.7" stroke="#ff0000" stroke-opacity="0.6" stroke-width="1.5"/>
<path d="M1077.2,499.0L1083.0,504.8M1077.2,504.8L1083.0,499.0" stroke="#ff0000" stroke-opacity="0.6" stroke-width="1.5"/>
<path d="M1079.5,499.0L1085.3,504.8M1079.5,504.8L1085.3,499.0" stroke="#ff0000" stroke-opacity="0.6" stroke-width="1.5"/>
<path d="M1081.8,499.0L1087.6,504.8M1081.8,504.8L1087.6,499.0" stroke="#ff0000" stroke-opacity="0.6" stroke-width="1.5"/>
<path d="M1084.0,499.0L1089.8,504.8M1084.0,504.8L1089.8,499.0" stroke="#ff0000" stroke-opacity="0.6" stroke-width="1.5"/>
<path d="M1086.3,498.1L1092.1,503.9M1086.3,503.9L1092.1,498.1" stroke="#ff0000" stroke-opacity="0.6" stroke-width="1.5"/>
<path d="M1088.6,496.6L1094.4,502.4M1088.6,502.4L1094.4,496.6" stroke="#ff0000" stroke-opacity="0.6" stroke-width="1.5"/>
<path d="M1090.8,494.3L1096.6,500.1M1090.8,500.1L1096.6,494.3" stroke="#ff0000" stroke-opacity="0.6" stroke-width="1.5"/>
<path d="M1093.1,491.4L1098.9,497.2M1093.1,497.2L1098.9,491.4" stroke="#ff0000" stroke-opacity="0.6" stroke-width="1.5"/>
<path d="M1095.4,489.0L1101.2,494.8M1095.4,494.8L1101.2,489.0" stroke="#ff0000" stroke-opacity="0.6" stroke-width="1.5"/>
<path d="M1097.6,490.5L1103.4,496.3M1097.6,496.3L1103.4,490.5" stroke="#ff0000" stroke-opacity="0.6" stroke-width="1.5"/>
<path d="M1099.9,491.9L1105.7,497.7M1099.9,497.7L1105.7,491.9" stroke="#ff0000" stroke-opacity="0.6" stroke-width="1.5"/>
<path d="M1102.2,493.3L1108.0,499.1M1102.2,499.1L1108.0,493.3" stroke="#ff0000" stroke-opacity="0.6" stroke-width="1.5"/>
<path d="M1104.4,494.7L1110.2,500.5M1104.4,500.5L1110.2,494.7" stroke="#ff0000" stroke-opacity="0.6" stroke-width="1.5"/>
<path d="M1106.7,496.1L1112.5,501.9M1106.7,501.9L1112.5,496.1" stroke="#ff0000" stroke-opacity="0.6" stroke-width="1.5"/>
<path d="M1109.0,497.3L1114.8,503.1M1109.0,503.1L1114.8,497.3" stroke="#ff0000" stroke-opacity="0.6" stroke-width="1.5"/>
<path d="M1111.2,498.4L1117.0,504.2M1111.2,504.2L1117.0,498.4" stroke="#ff0000" stroke-opacity="0.6" stroke-width="1.5"/>
<path d="M1113.5,499.8L1119.3,505.6M1113.5,505.6L1119.3,499.8" stroke="#ff0000" stroke-opacity="0.6" stroke-width="1.5"/>
<path d="M1115.8,501.5L1121.6,507.3M1115.8,507.3L1121.6,501.5" stroke="#ff0000" stroke-opacity="0.6" stroke-width="1.5"/>
<path d="M1118.0,503.2L1123.8,509.0M1118.0,509.0L1123.8,503.2" stroke="#ff0000" stroke-opacity="0.6" stroke-width="1.5"/>
<path d="M1120.3,504.4L1126.1,510.2M1120.3,510.2L1126.1,504.4" stroke="#ff0000" stroke-opacity="0.6" stroke-width="1.5"/>
<path d="M1122.6,505.5L1128.4,511.3M1122.6,511.3L1128.4,505.5" stroke="#ff0000" stroke-opacity="0.6" stroke-width="1.5"/>
<path d="M1124.8,506.5L1130.6,512.3M1124.8,512.3L1130.6,506.5" stroke="#ff0000" stroke-opacity="0.6" stroke-width="1.5"/>
<path d="M1127.1,507.1L1132.9,512.9M1127.1,512.9L1132.9,507.1" stroke="#ff0000" stroke-opacity="0.6" stroke-width="1.5"/>
<path d="M1127.1,496.2L1132.9,502.0M1127.1,502.0L1132.9,496.2" stroke="#ff0000" stroke-opacity="0.6" stroke-width="1.5"/>
<path d="M1129.4,497.3L1135.2,503.1M1129.4,503.1L1135.2,497.3" stroke="#ff0000" stroke-opacity="0.6" stroke-width="1.5"/>
<path d="M1131.7,498.5L1137.5,504.3M1131.7,504.3L1137.5,498.5" stroke="#ff0000" stroke-opacity="0.6" stroke-width="1.5"/>
<path d="M1133.9,499.6L1139.7,505.4M1133.9,505.4L1139.7,499.6" stroke="#ff0000" stroke-opacity="0.6" stroke-width="1.5"/>
<path d="M1136.2,500.7L1142.0,506.5M1136.2,506.5L1142.0,500.7" stroke="#ff0000" stroke-opacity="0.6" stroke-width="1.5"/>
<path d="M1138.5,501.9L1144.3,507.7M1138.5,507.7L1144.3,501.9" stroke="#ff0000" stroke-opacity="0.6" stroke-width="1.5"/>
<path d="M1140.7,503.0L1146.5,508.8M1140.7,508.8L1146.5,503.0" stroke="#ff0000" stroke-opacity="0.6" stroke-width="1.5"/>
<path d="M1143.0,504.1L1148.8,509.9M1143.0,509.9L1148.8,504.1" stroke="#ff0000" stroke-opacity="0.6" stroke-width="1.5"/>
<path d="M1145.3,504.9L1151.1,510.7M1145.3,510.7L1151.1,504.9" stroke="#ff0000" stroke-opacity="0.6" stroke-width="1.5"/>
<path d="M1147.5,505.3L1153.3,511.1M1147.5,511.1L1153.3,505.3" stroke="#ff0000" stroke-opacity="0.6" stroke-width="1.5"/>
<path d="M1149.8,505.6L1155.6,511.4M1149.8,511.4L1155.6,505.6" stroke="#ff0000" stroke-opacity="0.6" stroke-width="1.5"/>
<path d="M1152.1,505.9L1157.9,511.7M1152.1,511.7L1157.9,505.9" stroke="#ff0000" stroke-opacity="0.6" stroke-width="1.5"/>
<path d="M1154.3,506.2L1160.1,512.0M1154.3,512.0L1160.1,506.2" stroke="#ff0000" stroke-opacity="0.6" stroke-width="1.5"/>
<path d="M1156.6,506.5L1162.4,512.3M1156.6,512.3L1162.4,506.5" stroke="#ff0000" stroke-opacity="0.6" stroke-width="1.5"/>
<path d="M1158.9,506.7L1164.7,512.5M1158.9,512.5L1164.7,506.7" stroke="#ff0000" stroke-opacity="0.6" stroke-width="1.5"/>
<path d="M1161.1,506.9L1166.9,512.7M1161.1,512.7L1166.9,506.9" stroke="#ff0000" stroke-opacity="0.6" stroke-width="1.5"/>
<path d="M1163.4,507.5L1169.2,513.3M1163.4,513.3L1169.2,507.5" stroke="#ff0000" stroke-opacity="0.6" stroke-width="1.5"/>
<path d="M1165.7,508.2L1171.5,514.0M1165.7,514.0L1171.5,508.2" stroke="#ff0000" stroke-opacity="0.6" stroke-width="1.5"/>
<path d="M1167.9,508.8L1173.7,514.6M1167.9,514.6L1173.7,508.8" stroke="#ff0000" stroke-opacity="0.6" stroke-width="1.5"/>
<path d="M1170.2,509.7L1176.0,515.5M1170.2,515.5L1176.0,509.7" stroke="#ff0000" stroke-opacity="0.6" stroke-width="1.5"/>
<path d="M1172.5,510.6L1178.3,516.4M1172.5,516.4L1178.3,510.6" stroke="#ff0000" stroke-opacity="0.6" stroke-width="1.5"/>
<path d="M1174.7,511.5L1180.5,517.3M1174.7,517.3L1180.5,511.5" stroke="#ff0000" stroke-opacity="0.6" stroke-width="1.5"/>
<path d="M1177.0,512.4L1182.8,518.2M1177.0,518.2L1182.8,512.4" stroke="#ff0000" stroke-opacity="0.6" stroke-width="1.5"/>
<path d="M1179.3,513.3L1185.1,519.1M1179.3,519.1L1185.1,513.3" stroke="#ff0000" stroke-opacity="0.6" stroke-width="1.5"/>
<path d="M1181.5,514.2L1187.3,520.0M1181.5,520.0L1187.3,514.2" stroke="#ff0000" stroke-opacity="0.6" stroke-width="1.5"/>
<path d="M1183.8,515.3L1189.6,521.1M1183.8,521.1L1189.6,515.3" stroke="#ff0000" stroke-opacity="0.6" stroke-width="1.5"/>
<path d="M1186.1,517.1L1191.9,522.9M1186.1,522.9L1191.9,517.1" stroke="#ff0000" stroke-opacity="0.6" stroke-width="1.5"/>
<path d="M1188.3,518.9L1194.1,524.7M1188.3,524.7L1194.1,518.9" stroke="#ff0000" stroke-opacity="0.6" stroke-width="1.5"/>
<path d="M1190.6,520.7L1196.4,526.5M1190.6,526.5L1196.4,520.7" stroke="#ff0000" stroke-opacity="0.6" stroke-width="1.5"/>
<path d="M1192.9,522.1L1198.7,527.9M1192.9,527.9L1198.7,522.1" stroke="#ff0000" stroke-opacity="0.6" stroke-width="1.5"/>
<path d="M1195.1,523.5L1200.9,529.3M1195.1,529.3L1200.9,523.5" stroke="#ff0000" stroke-opacity="0.6" stroke-width="1.5"/>
<path d="M1197.4,526.2L1203.2,532.0M1197.4,532.0L1203.2,526.2" stroke="#ff0000" stroke-opacity="0.6" stroke-width="1.5"/>
<path d="M1199.7,528.5L1205.5,534.3M1199.7,534.3L1205.5,528.5" stroke="#ff0000" stroke-opacity="0.6" stroke-width="1.5"/>
<path d="M1201.9,530.8L1207.7,536.6M1201.9,536.6L1207.7,530.8" stroke="#ff0000" stroke-opacity="0.6" stroke-width="1.5"/>
<path d="M1204.2,532.0L1210.0,537.8M1204.2,537.8L1210.0,532.0" stroke="#ff0000" stroke-opacity="0.6" stroke-width="1.5"/>
<path d="M1206.5,531.5L1212.3,537.3M1206.5,537.3L1212.3,531.5" stroke="#ff0000" stroke-opacity="0.6" stroke-width="1.5"/>
<path d="M1208.7,531.1L1214.5,536.9M1208.7,536.9L1214.5,531.1" stroke="#ff0000" stroke-opacity="0.6" stroke-width="1.5"/>
<path d="M1211.0,530.2L1216.8,536.0M1211.0,536.0L1216.8,530.2" stroke="#ff0000" stroke-opacity="0.6" stroke-width="1.5"/>
<path d="M1213.3,528.8L1219.1,534.6M1213.3,534.6L1219.1,528.8" stroke="#ff0000" stroke-opacity="0.6" stroke-width="1.5"/>
<path d="M1215.5,527.5L1221.3,533.3M1215.5,533.3L1221.3,527.5" stroke="#ff0000" stroke-opacity="0.6" stroke-width="1.5"/>
<path d="M1217.8,523.3L1223.6,529.1M1217.8,529.1L1223.6,523.3" stroke="#ff0000" stroke-opacity="0.6" stroke-width="1.5"/>
<path d="M1220.1,517.2L1225.9,523.0M1220.1,523.0L1225.9,517.2" stroke="#ff0000" stroke-opacity="0.6" stroke-width="1.5"/>
<path d="M1222.3,515.3L1228.1,521.1M1222.3,521.1L1228.1,515.3" stroke="#ff0000" stroke-opacity="0.6" stroke-width="1.5"/>
<path d="M1224.6,513.9L1230.4,519.7M1224.6,519.7L1230.4,513.9" stroke="#ff0000" stroke-opacity="0.6" stroke-width="1.5"/>
<path d="M1226.9,512.5L1232.7,518.3M1226.9,518.3L1232.7,512.5" stroke="#ff0000" stroke-opacity="0.6" stroke-width="1.5"/>
<path d="M1229.1,511.8L1234.9,517.6M1229.1,517.6L1234.9,511.8" stroke="#ff0000" stroke-opacity="0.6" stroke-width="1.5"/>
<path d="M1231.4,511.0L1237.2,516.8M1231.4,516.8L1237.2,511.0" stroke="#ff0000" stroke-opacity="0.6" stroke-width="1.5"/>
<path d="M1233.7,510.3L1239.5,516.1M1233.7,516.1L1239.5,510.3" stroke="#ff0000" stroke-opacity="0.6" stroke-width="1.5"/>
<path d="M1238.2,546.9L1244.0,552.7M1238.2,552.7L1244.0,546.9" stroke="#ff0000" stroke-opacity="0.6" stroke-width="1.5"/>
<path d="M1240.5,550.3L1246.3,556.1M1240.5,556.1L1246.3,550.3" stroke="#ff0000" stroke-opacity="0.6" stroke-width="1.5"/>
<path d="M1242.7,549.2L1248.5,555.0M1242.7,555.0L1248.5,549.2" stroke="#ff0000" stroke-opacity="0.6" stroke-width="1.5"/>
<path d="M1245.0,548.0L1250.8,553.8M1245.0,553.8L1250.8,548.0" stroke="#ff0000" stroke-opacity="0.6" stroke-width="1.5"/>
<path d="M1247.3,544.6L1253.1,550.4M1247.3,550.4L1253.1,544.6" stroke="#ff0000" stroke-opacity="0.6" stroke-width="1.5"/>
<path d="M1249.5,540.6L1255.3,546.4M1249.5,546.4L1255.3,540.6" stroke="#ff0000" stroke-opacity="0.6" stroke-width="1.5"/>
<path d="M1251.8,535.5L1257.6,541.3M1251.8,541.3L1257.6,535.5" stroke="#ff0000" stroke-opacity="0.6" stroke-width="1.5"/>
<path d="M1254.1,530.4L1259.9,536.2M1254.1,536.2L1259.9,530.4" stroke="#ff0000" stroke-opacity="0.6" stroke-width="1.5"/>
<path d="M1256.3,527.7L1262.1,533.5M1256.3,533.5L1262.1,527.7" stroke="#ff0000" stroke-opacity="0.6" stroke-width="1.5"/>
<path d="M1258.6,525.4L1264.4,531.2M1258.6,531.2L1264.4,525.4" stroke="#ff0000" stroke-opacity="0.6" stroke-width="1.5"/>
<path d="M1260.9,523.4L1266.7,529.2M1260.9,529.2L1266.7,523.4" stroke="#ff0000" stroke-opacity="0.6" stroke-width="1.5"/>
<path d="M1263.1,521.5L1268.9,527.3M1263.1,527.3L1268.9,521.5" stroke="#ff0000" stroke-opacity="0.6" stroke-width="1.5"/>
<path d="M1265.4,520.9L1271.2,526.7M1265.4,526.7L1271.2,520.9" stroke="#ff0000" stroke-opacity="0.6" stroke-width="1.5"/>
<path d="M1267.7,520.7L1273.5,526.5M1267.7,526.5L1273.5,520.7" stroke="#ff0000" stroke-opacity="0.6" stroke-width="1.5"/>
<path d="M1269.9,520.5L1275.7,526.3M1269.9,526.3L1275.7,520.5" stroke="#ff0000" stroke-opacity="0.6" stroke-width="1.5"/>
<path d="M1272.2,520.5L1278.0,526.3M1272.2,526.3L1278.0,520.5" stroke="#ff0000" stroke-opacity="0.6" stroke-width="1.5"/>
<path d="M1274.5,520.9L1280.3,526.7M1274.5,526.7L1280.3,520.9" stroke="#ff0000" stroke-opacity="0.6" stroke-width="1.5"/>
<path d="M1276.7,521.2L1282.5,527.0M1276.7,527.0L1282.5,521.2" stroke="#ff0000" stroke-opacity="0.6" stroke-width="1.5"/>
<path d="M1279.0,521.6L1284.8,527.4M1279.0,527.4L1284.8,521.6" stroke="#ff0000" stroke-opacity="0.6" stroke-width="1.5"/>
<path d="M1281.3,523.2L1287.1,529.0M1281.3,529.0L1287.1,523.2" stroke="#ff0000" stroke-opacity="0.6" stroke-width="1.5"/>
<path d="M1283.5,525.0L1289.3,530.8M1283.5,530.8L1289.3,525.0" stroke="#ff0000" stroke-opacity="0.6" stroke-width="1.5"/>
<path d="M1285.8,526.8L1291.6,532.6M1285.8,532.6L1291.6,526.8" stroke="#ff0000" stroke-opacity="0.6" stroke-width="1.5"/>
<path d="M1288.1,529.1L1293.9,534.9M1288.1,534.9L1293.9,529.1" stroke="#ff0000" stroke-opacity="0.6" stroke-width="1.5"/>
<path d="M1290.3,531.3L1296.1,537.1M1290.3,537.1L1296.1,531.3" stroke="#ff0000" stroke-opacity="0.6" stroke-width="1.5"/>
<path d="M1292.6,533.7L1298.4,539.5M1292.6,539.5L1298.4,533.7" stroke="#ff0000" stroke-opacity="0.6" stroke-width="1.5"/>
<path d="M1294.9,536.8L1300.7,542.6M1294.9,542.6L1300.7,536.8" stroke="#ff0000" stroke-opacity="0.6" stroke-width="1.5"/>
<path d="M1297.1,540.0L1302.9,545.8M1297.1,545.8L1302.9,540.0" stroke="#ff0000" stroke-opacity="0.6" stroke-width="1.5"/>
<path d="M1299.4,543.1L1305.2,548.9M1299.4,548.9L1305.2,543.1" stroke="#ff0000" stroke-opacity="0.6" stroke-width="1.5"/>
<path d="M1301.7,545.8L1307.5,551.6M1301.7,551.6L1307.5,545.8" stroke="#ff0000" stroke-opacity="0.6" stroke-width="1.5"/>
<path d="M1303.9,548.5L1309.7,554.3M1303.9,554.3L1309.7,548.5" stroke="#ff0000" stroke-opacity="0.6" stroke-width="1.5"/>
<path d="M1306.2,551.5L1312.0,557.3M1306.2,557.3L1312.0,551.5" stroke="#ff0000" stroke-opacity="0.6" stroke-width="1.5"/>
<path d="M1308.5,555.1L1314.3,560.9M1308.5,560.9L1314.3,555.1" stroke="#ff0000" stroke-opacity="0.6" stroke-width="1.5"/>
<path d="M1032.0,584.6L1037.8,590.4M1032.0,590.4L1037.8,584.6" stroke="#ff0000" stroke-opacity="0.6" stroke-width="1.5"/>
<rect x="53.9" y="83.0" width="1318.2" height="1.15" fill="#1a1a1a"/>
<rect x="53.9" y="83.0" width="1.2" height="280.9" fill="#3a3a3a"/>
<rect x="1371.0" y="83.0" width="1.1" height="280.9" fill="#2a2a2a"/>
<rect x="53.9" y="361.6" width="1318.2" height="2.2" fill="#9a9a9a"/>
<rect x="53.9" y="395.8" width="1318.2" height="1.8" fill="#a0a0a0"/>
<rect x="54.0" y="395.8" width="1.1" height="279.9" fill="#444"/>
<rect x="1371.0" y="395.8" width="1.1" height="279.9" fill="#444"/>
<rect x="53.9" y="674.3" width="1318.2" height="1.4" fill="#666"/>
<line x1="50.5" y1="335.9" x2="54.5" y2="335.9" stroke="#333" stroke-width="1.1"/>
<text class="n" x="45.5" y="340.2" font-size="11.3" font-weight="normal" fill="#111" text-anchor="end"  xml:space="preserve">2</text>
<line x1="50.5" y1="301.4" x2="54.5" y2="301.4" stroke="#333" stroke-width="1.1"/>
<text class="n" x="45.5" y="305.7" font-size="11.3" font-weight="normal" fill="#111" text-anchor="end"  xml:space="preserve">4</text>
<line x1="50.5" y1="266.9" x2="54.5" y2="266.9" stroke="#333" stroke-width="1.1"/>
<text class="n" x="45.5" y="271.2" font-size="11.3" font-weight="normal" fill="#111" text-anchor="end"  xml:space="preserve">6</text>
<line x1="50.5" y1="232.4" x2="54.5" y2="232.4" stroke="#333" stroke-width="1.1"/>
<text class="n" x="45.5" y="236.7" font-size="11.3" font-weight="normal" fill="#111" text-anchor="end"  xml:space="preserve">8</text>
<line x1="50.5" y1="197.9" x2="54.5" y2="197.9" stroke="#333" stroke-width="1.1"/>
<text class="n" x="45.5" y="202.2" font-size="11.3" font-weight="normal" fill="#111" text-anchor="end"  xml:space="preserve">10</text>
<line x1="50.5" y1="163.4" x2="54.5" y2="163.4" stroke="#333" stroke-width="1.1"/>
<text class="n" x="45.5" y="167.7" font-size="11.3" font-weight="normal" fill="#111" text-anchor="end"  xml:space="preserve">12</text>
<line x1="50.5" y1="128.9" x2="54.5" y2="128.9" stroke="#333" stroke-width="1.1"/>
<text class="n" x="45.5" y="133.2" font-size="11.3" font-weight="normal" fill="#111" text-anchor="end"  xml:space="preserve">14</text>
<line x1="50.5" y1="94.4" x2="54.5" y2="94.4" stroke="#333" stroke-width="1.1"/>
<text class="n" x="45.5" y="98.69999999999997" font-size="11.3" font-weight="normal" fill="#111" text-anchor="end"  xml:space="preserve">16</text>
<line x1="50.5" y1="668.1" x2="54.5" y2="668.1" stroke="#333" stroke-width="1.1"/>
<text class="n" x="45.5" y="672.4" font-size="11.3" font-weight="normal" fill="#111" text-anchor="end"  xml:space="preserve">0</text>
<line x1="50.5" y1="635.0" x2="54.5" y2="635.0" stroke="#333" stroke-width="1.1"/>
<text class="n" x="45.5" y="639.3385" font-size="11.3" font-weight="normal" fill="#111" text-anchor="end"  xml:space="preserve">45</text>
<line x1="50.5" y1="602.0" x2="54.5" y2="602.0" stroke="#333" stroke-width="1.1"/>
<text class="n" x="45.5" y="606.2769999999999" font-size="11.3" font-weight="normal" fill="#111" text-anchor="end"  xml:space="preserve">90</text>
<line x1="50.5" y1="568.9" x2="54.5" y2="568.9" stroke="#333" stroke-width="1.1"/>
<text class="n" x="45.5" y="573.2155" font-size="11.3" font-weight="normal" fill="#111" text-anchor="end"  xml:space="preserve">135</text>
<line x1="50.5" y1="535.9" x2="54.5" y2="535.9" stroke="#333" stroke-width="1.1"/>
<text class="n" x="45.5" y="540.154" font-size="11.3" font-weight="normal" fill="#111" text-anchor="end"  xml:space="preserve">180</text>
<line x1="50.5" y1="502.8" x2="54.5" y2="502.8" stroke="#333" stroke-width="1.1"/>
<text class="n" x="45.5" y="507.09250000000003" font-size="11.3" font-weight="normal" fill="#111" text-anchor="end"  xml:space="preserve">225</text>
<line x1="50.5" y1="469.7" x2="54.5" y2="469.7" stroke="#333" stroke-width="1.1"/>
<text class="n" x="45.5" y="474.031" font-size="11.3" font-weight="normal" fill="#111" text-anchor="end"  xml:space="preserve">270</text>
<line x1="50.5" y1="436.7" x2="54.5" y2="436.7" stroke="#333" stroke-width="1.1"/>
<text class="n" x="45.5" y="440.96950000000004" font-size="11.3" font-weight="normal" fill="#111" text-anchor="end"  xml:space="preserve">315</text>
<line x1="50.5" y1="403.6" x2="54.5" y2="403.6" stroke="#333" stroke-width="1.1"/>
<text class="n" x="45.5" y="407.908" font-size="11.3" font-weight="normal" fill="#111" text-anchor="end"  xml:space="preserve">360</text>
<line x1="114.4" y1="362.7" x2="114.4" y2="366.7" stroke="#333" stroke-width="1.1"/>
<line x1="114.4" y1="675.1" x2="114.4" y2="679.1" stroke="#333" stroke-width="1.1"/>
<text class="n" x="112.4" y="712.0" font-size="11.9" fill="#111" text-anchor="middle" transform="rotate(-45 112.4 708.4)">2022-02-20</text>
<line x1="223.2" y1="362.7" x2="223.2" y2="366.7" stroke="#333" stroke-width="1.1"/>
<line x1="223.2" y1="675.1" x2="223.2" y2="679.1" stroke="#333" stroke-width="1.1"/>
<text class="n" x="221.2" y="712.0" font-size="11.9" fill="#111" text-anchor="middle" transform="rotate(-45 221.2 708.4)">2022-02-21</text>
<line x1="332.0" y1="362.7" x2="332.0" y2="366.7" stroke="#333" stroke-width="1.1"/>
<line x1="332.0" y1="675.1" x2="332.0" y2="679.1" stroke="#333" stroke-width="1.1"/>
<text class="n" x="330.0" y="712.0" font-size="11.9" fill="#111" text-anchor="middle" transform="rotate(-45 330.0 708.4)">2022-02-22</text>
<line x1="440.9" y1="362.7" x2="440.9" y2="366.7" stroke="#333" stroke-width="1.1"/>
<line x1="440.9" y1="675.1" x2="440.9" y2="679.1" stroke="#333" stroke-width="1.1"/>
<text class="n" x="438.9" y="712.0" font-size="11.9" fill="#111" text-anchor="middle" transform="rotate(-45 438.9 708.4)">2022-02-23</text>
<line x1="549.7" y1="362.7" x2="549.7" y2="366.7" stroke="#333" stroke-width="1.1"/>
<line x1="549.7" y1="675.1" x2="549.7" y2="679.1" stroke="#333" stroke-width="1.1"/>
<text class="n" x="547.7" y="712.0" font-size="11.9" fill="#111" text-anchor="middle" transform="rotate(-45 547.7 708.4)">2022-02-24</text>
<line x1="658.5" y1="362.7" x2="658.5" y2="366.7" stroke="#333" stroke-width="1.1"/>
<line x1="658.5" y1="675.1" x2="658.5" y2="679.1" stroke="#333" stroke-width="1.1"/>
<text class="n" x="656.5" y="712.0" font-size="11.9" fill="#111" text-anchor="middle" transform="rotate(-45 656.5 708.4)">2022-02-25</text>
<line x1="767.3" y1="362.7" x2="767.3" y2="366.7" stroke="#333" stroke-width="1.1"/>
<line x1="767.3" y1="675.1" x2="767.3" y2="679.1" stroke="#333" stroke-width="1.1"/>
<text class="n" x="765.3" y="712.0" font-size="11.9" fill="#111" text-anchor="middle" transform="rotate(-45 765.3 708.4)">2022-02-26</text>
<line x1="876.1" y1="362.7" x2="876.1" y2="366.7" stroke="#333" stroke-width="1.1"/>
<line x1="876.1" y1="675.1" x2="876.1" y2="679.1" stroke="#333" stroke-width="1.1"/>
<text class="n" x="874.1" y="712.0" font-size="11.9" fill="#111" text-anchor="middle" transform="rotate(-45 874.1 708.4)">2022-02-27</text>
<line x1="985.0" y1="362.7" x2="985.0" y2="366.7" stroke="#333" stroke-width="1.1"/>
<line x1="985.0" y1="675.1" x2="985.0" y2="679.1" stroke="#333" stroke-width="1.1"/>
<text class="n" x="983.0" y="712.0" font-size="11.9" fill="#111" text-anchor="middle" transform="rotate(-45 983.0 708.4)">2022-02-28</text>
<line x1="1093.8" y1="362.7" x2="1093.8" y2="366.7" stroke="#333" stroke-width="1.1"/>
<line x1="1093.8" y1="675.1" x2="1093.8" y2="679.1" stroke="#333" stroke-width="1.1"/>
<text class="n" x="1091.8" y="712.0" font-size="11.9" fill="#111" text-anchor="middle" transform="rotate(-45 1091.8 708.4)">2022-03-01</text>
<line x1="1202.6" y1="362.7" x2="1202.6" y2="366.7" stroke="#333" stroke-width="1.1"/>
<line x1="1202.6" y1="675.1" x2="1202.6" y2="679.1" stroke="#333" stroke-width="1.1"/>
<text class="n" x="1200.6" y="712.0" font-size="11.9" fill="#111" text-anchor="middle" transform="rotate(-45 1200.6 708.4)">2022-03-02</text>
<line x1="1311.4" y1="362.7" x2="1311.4" y2="366.7" stroke="#333" stroke-width="1.1"/>
<line x1="1311.4" y1="675.1" x2="1311.4" y2="679.1" stroke="#333" stroke-width="1.1"/>
<text class="n" x="1309.4" y="712.0" font-size="11.9" fill="#111" text-anchor="middle" transform="rotate(-45 1309.4 708.4)">2022-03-03</text>
<text class="n" x="22.9" y="223.7" font-size="13.6" fill="#111" text-anchor="middle" transform="rotate(-90 22.9 223.7)" textLength="123.8" lengthAdjust="spacingAndGlyphs">Wind Speed (m/s)</text>
<text class="n" x="16.1" y="536.2" font-size="13.6" fill="#111" text-anchor="middle" transform="rotate(-90 16.1 536.2)" textLength="124.8" lengthAdjust="spacingAndGlyphs">Wind Direction (°)</text>
<text class="n" x="697.7" y="748.9" font-size="13.9" font-weight="normal" fill="#111" text-anchor="start" textLength="30.5" lengthAdjust="spacingAndGlyphs"  xml:space="preserve">Date</text>
<rect x="75.4" y="93.2" width="110.1" height="70" fill="#fff" fill-opacity="0.8" stroke="#9a9a9a" stroke-width="1"/>
<text class="n" x="80.0" y="108.9" font-size="13.2" font-weight="normal" fill="#111" text-anchor="start" textLength="96.2" lengthAdjust="spacingAndGlyphs"  xml:space="preserve">Bias: -2.24 m/s</text>
<text class="n" x="80.0" y="124.7" font-size="13.2" font-weight="normal" fill="#111" text-anchor="start" textLength="96.5" lengthAdjust="spacingAndGlyphs"  xml:space="preserve">MAE:  2.36 m/s</text>
<text class="n" x="80.0" y="140.5" font-size="13.2" font-weight="normal" fill="#111" text-anchor="start" textLength="100.5" lengthAdjust="spacingAndGlyphs"  xml:space="preserve">RMSE: 2.66 m/s</text>
<text class="n" x="80.0" y="156.3" font-size="13.2" font-weight="normal" fill="#111" text-anchor="start" textLength="63.3" lengthAdjust="spacingAndGlyphs"  xml:space="preserve">Corr: 0.81</text>
<rect x="1151.5" y="90.8" width="214" height="43.5" rx="3" fill="#fff" fill-opacity="0.8" stroke="#d0d0d0" stroke-width="1"/>
<line x1="1155.6" y1="101.7" x2="1183.8" y2="101.7" stroke="#0000ff" stroke-width="2.6"/>
<line x1="1155.6" y1="121.7" x2="1183.8" y2="121.7" stroke="#ff0000" stroke-width="2" stroke-dasharray="6,3.5"/>
<text class="n" x="1193" y="105.7" font-size="13.5" font-weight="normal" fill="#111" text-anchor="start" textLength="166.4" lengthAdjust="spacingAndGlyphs"  xml:space="preserve">Observed (WWMSP5-MET)</text>
<text class="n" x="1193" y="125.7" font-size="13.5" font-weight="normal" fill="#111" text-anchor="start" textLength="148.5" lengthAdjust="spacingAndGlyphs"  xml:space="preserve">CSIEM1.7 (WRF-PERTH)</text>
<rect x="1170.6" y="403" width="194.8" height="44" rx="3" fill="#fff" fill-opacity="0.8" stroke="#d0d0d0" stroke-width="1"/>
<circle cx="1188.3" cy="415.9" r="3.5" fill="#0000ff" fill-opacity="0.6" stroke="#0000c8" stroke-opacity="0.6" stroke-width="1.0"/>
<path d="M1185.5,433.3L1191.1,438.9M1185.5,438.9L1191.1,433.3" stroke="#ff0000" stroke-opacity="0.6" stroke-width="1.5"/>
<text class="n" x="1211.7" y="419" font-size="13.5" font-weight="normal" fill="#111" text-anchor="start"  xml:space="preserve">Observed (BOM-IDY)</text>
<text class="n" x="1211.7" y="438.7" font-size="13.5" font-weight="normal" fill="#111" text-anchor="start" textLength="148.5" lengthAdjust="spacingAndGlyphs"  xml:space="preserve">CSIEM1.7 (WRF-PERTH)</text>
<rect x="1380" y="0" width="4" height="763" fill="#000"/>
<rect x="0" y="760" width="1384" height="3" fill="#000"/>
</svg></body></html>
